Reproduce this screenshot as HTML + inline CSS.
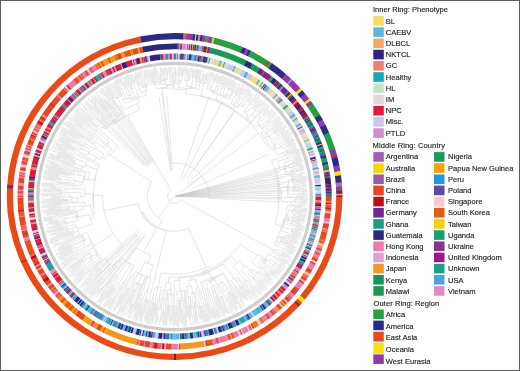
<!DOCTYPE html>
<html><head><meta charset="utf-8"><style>
html,body{margin:0;padding:0;background:#fff;}
#w{position:relative;width:520px;height:371px;overflow:hidden;background:#fff;}
#w svg{filter:blur(0.3px);}
#bd{position:absolute;left:0;top:0;width:518px;height:369px;border:1px solid #5e5e5e;}
.sw{position:absolute;width:10.5px;height:9.6px;}
.lb,.tt{position:absolute;font-family:"Liberation Sans",sans-serif;font-size:7.5px;line-height:9.6px;color:#2b2b2b;white-space:nowrap;}
</style></head><body><div id="w">
<svg width="350" height="371" viewBox="0 0 350 371" style="position:absolute;left:0;top:0">
<g fill="none">
<path d="M150.6 84.5L147.3 68.8M150.3 78.4L148.4 69.0M151.3 78.2L150.1 71.7M151.6 81.9L150.8 78.3M153.0 81.7L150.4 67.8M153.9 81.5L151.8 69.4M152.7 82.5L152.5 81.7M154.4 78.2L152.9 69.7M155.3 78.1L153.6 67.6M155.5 82.0L154.9 78.2M153.8 83.1L153.6 82.4M157.0 82.6L154.6 67.1M154.4 83.9L154.2 83.1M154.0 84.7L153.9 83.9M156.9 74.9L155.7 66.9M157.9 74.8L157.2 70.1M158.7 84.0L157.4 74.9M160.1 83.8L158.9 74.9M156.1 88.6L155.4 84.5M161.1 84.4L159.7 72.5M161.6 80.7L160.2 68.2M162.4 79.0L161.2 67.4M163.0 74.8L162.4 68.5M163.9 73.9L163.4 68.3M164.9 73.8L164.5 67.7M164.5 74.7L164.4 73.9M164.4 78.8L164.0 74.7M166.3 78.7L165.5 66.7M164.4 79.6L164.4 78.8M166.9 73.2L166.6 67.8M168.0 73.2L167.8 69.5M167.8 79.4L167.5 73.2M165.5 80.3L165.4 79.5M165.3 84.0L165.0 80.4M164.9 84.8L164.8 84.0M168.9 70.9L168.7 67.3M169.9 70.9L169.8 66.4M169.7 77.2L169.4 70.9M171.1 77.2L170.9 67.8M170.4 84.5L170.2 77.2M166.3 85.5L166.3 84.7M172.3 85.2L171.9 66.3M166.9 87.4L166.8 85.4M162.0 88.6L162.0 87.8M173.3 87.9L173.1 72.9M170.9 163.1L162.5 88.5M174.2 89.3L174.1 66.4M175.1 73.2L175.1 66.5M176.1 73.2L176.2 69.0M175.5 83.1L175.6 73.2M177.0 81.3L177.2 72.9M178.1 74.7L178.4 66.1M179.2 73.3L179.5 66.2M180.2 73.3L180.5 66.6M179.6 74.8L179.7 73.3M178.9 80.3L179.1 74.8M181.1 76.3L181.5 68.1M182.1 75.5L182.7 66.1M183.1 75.6L183.6 68.1M182.6 76.4L182.6 75.6M181.8 80.4L182.1 76.3M180.3 81.4L180.4 80.3M179.8 83.2L179.8 81.4M178.7 87.7L178.8 83.2M184.5 71.4L184.9 66.3M185.5 71.5L185.9 66.6M184.8 73.9L185.0 71.4M186.3 74.1L186.9 67.4M184.7 80.5L185.3 74.0M187.2 75.5L187.9 68.1M188.2 75.6L189.0 68.5M187.3 78.5L187.7 75.6M188.8 78.6L189.7 71.0M187.7 79.3L187.8 78.5M190.7 71.3L191.3 67.0M191.8 71.4L192.3 67.5M190.2 79.6L191.3 71.4M188.5 80.8L188.7 79.4M186.5 85.9L187.1 80.7M192.0 76.9L193.1 69.2M193.0 77.1L194.1 69.8M194.0 77.2L195.3 69.2M191.6 86.5L193.0 77.1M187.8 86.8L187.9 86.0M195.0 77.5L196.6 67.9M196.0 77.6L197.4 69.7M196.9 77.8L198.5 69.5M195.8 78.4L196.0 77.6M197.8 78.8L199.4 70.3M195.8 81.3L196.3 78.5M198.5 80.3L200.5 70.3M199.4 80.5L201.8 69.3M198.7 81.8L198.9 80.4M195.5 88.0L196.8 81.4M190.4 88.0L190.5 87.2M198.5 89.4L200.8 78.7M190.7 88.8L190.9 88.0M186.6 89.9L186.7 88.3M185.7 93.7L186.1 89.8M200.8 83.2L204.0 69.5M202.4 80.8L203.9 74.3M203.3 81.0L205.2 73.6M204.8 79.2L206.5 72.8M205.8 79.4L208.1 70.6M206.7 79.7L208.4 73.5M205.2 81.5L205.8 79.4M203.8 83.0L204.3 81.2M206.7 83.7L210.4 70.6M204.1 84.0L204.3 83.1M200.6 95.4L203.6 83.9M210.1 75.3L210.8 72.8M211.1 75.6L212.2 71.9M206.7 88.6L210.6 75.4M212.2 75.6L213.3 72.1M213.2 75.9L214.2 72.7M209.3 86.5L212.7 75.7M213.0 79.8L214.3 75.9M214.2 79.4L216.1 73.9M215.2 79.7L217.4 73.2M214.4 80.3L214.7 79.5M213.7 80.9L214.0 80.2M215.6 81.5L218.2 74.1M212.0 87.4L214.2 81.1M210.2 89.7L211.1 87.1M216.4 82.3L219.1 75.0M218.1 80.5L219.6 76.6M219.1 80.9L221.3 75.2M217.8 82.8L218.6 80.7M215.9 86.4L217.4 82.6M217.8 87.0L222.5 74.9M214.6 91.2L216.4 86.5M210.9 90.7L211.1 90.0M220.2 83.6L223.5 75.3M221.1 83.9L224.5 75.7M216.9 92.9L220.7 83.7M211.5 91.8L211.7 91.0M221.2 86.4L225.4 76.4M223.2 84.1L226.0 77.6M224.2 84.5L227.8 76.3M222.5 87.0L223.7 84.3M221.8 87.5L222.1 86.8M223.6 88.3L227.8 78.9M219.5 93.9L222.2 87.7M226.3 84.7L229.4 77.9M227.2 85.1L230.8 77.5M222.7 93.6L226.7 84.9M227.1 87.7L231.4 78.7M229.5 85.0L232.1 79.7M230.4 85.4L233.2 79.8M228.4 88.3L230.0 85.2M229.8 88.9L234.5 79.7M228.1 89.0L228.4 88.3M230.3 90.1L234.8 81.5M231.2 90.5L236.0 81.4M226.4 94.4L229.0 89.4M229.4 95.9L236.4 82.9M226.5 95.3L226.9 94.6M225.3 95.6L225.7 94.9M229.4 97.7L237.1 83.9M225.3 96.6L225.7 95.8M223.3 96.5L223.7 95.8M229.4 99.5L235.3 89.2M215.7 99.4L217.9 94.1M236.2 89.7L239.7 83.6M237.1 90.2L239.8 85.5M235.1 92.6L236.6 89.9M236.4 93.3L239.4 88.2M235.1 93.5L235.5 92.8M236.8 94.5L243.1 84.1M235.1 94.5L235.5 93.8M239.6 91.9L243.8 85.1M240.4 92.4L244.8 85.4M237.6 95.9L240.0 92.1M230.7 103.6L236.0 94.9M233.8 104.5L243.8 89.0M242.0 93.7L246.3 87.0M242.8 94.2L246.8 88.3M239.1 98.9L242.4 94.0M246.2 91.0L247.9 88.5M247.1 91.6L249.1 88.6M240.7 99.9L246.6 91.3M236.9 103.9L239.9 99.4M244.3 97.4L248.9 90.8M245.1 97.9L251.0 89.6M239.2 105.4L244.7 97.7M248.2 95.3L250.7 91.9M249.0 95.9L250.9 93.3M241.8 104.8L248.6 95.6M247.0 100.3L251.4 94.4M248.3 100.2L252.9 94.2M249.1 100.8L252.6 96.3M248.2 101.2L248.7 100.5M243.7 106.2L247.8 100.9M241.8 107.2L243.0 105.6M238.3 107.4L239.6 105.6M237.5 107.8L238.0 107.1M233.7 108.7L235.3 106.3M222.4 103.3L222.8 102.6M248.4 103.3L252.3 98.3M251.0 101.6L257.0 94.1M251.8 102.2L256.1 96.9M250.0 103.5L251.4 101.9M251.2 104.4L258.5 95.6M249.9 104.5L250.4 103.8M244.3 110.5L249.5 104.2M255.0 101.4L259.3 96.3M255.8 102.1L259.8 97.3M254.8 102.4L255.4 101.7M256.0 103.3L258.7 100.2M246.8 112.5L255.2 102.7M244.2 112.8L245.4 111.4M252.9 108.3L261.9 98.2M254.7 107.7L262.4 99.2M257.3 106.4L262.3 100.9M258.0 107.0L264.4 100.1M257.1 107.3L257.7 106.7M258.2 108.3L264.7 101.4M256.2 109.0L257.5 107.6M255.3 109.2L255.8 108.6M262.8 104.9L265.7 101.9M263.5 105.6L266.0 103.1M258.3 110.3L263.2 105.3M259.3 111.3L267.1 103.5M257.8 111.5L258.6 110.6M255.8 110.8L256.4 110.2M251.8 114.3L255.5 110.5M254.8 117.1L267.4 104.6M249.6 117.3L252.2 114.6M246.0 116.7L247.3 115.3M251.4 121.7L269.3 104.3M245.8 117.6L246.3 117.0M264.1 110.8L268.9 106.1M264.8 111.5L270.2 106.3M258.7 116.5L264.4 111.1M263.0 114.5L268.2 109.7M263.7 115.2L268.5 110.8M264.4 115.9L272.7 108.3M260.4 118.2L263.7 115.2M258.9 118.3L259.7 117.5M267.6 114.3L272.9 109.6M268.3 115.0L272.7 111.2M269.0 115.7L274.0 111.5M261.4 121.0L268.3 115.0M256.9 121.9L259.8 119.3M269.2 116.9L275.0 112.0M272.1 115.7L276.1 112.4M272.8 116.5L276.7 113.3M270.2 118.0L272.5 116.1M266.4 120.5L269.8 117.6M267.6 122.0L278.0 113.6M260.5 125.9L266.7 120.9M257.5 123.8L258.2 123.2M261.3 128.1L270.9 120.6M271.2 121.5L278.3 116.1M271.9 122.3L279.9 116.2M262.2 129.1L271.6 121.9M255.6 127.2L258.4 124.8M250.0 122.5L250.6 121.9M231.4 109.1L231.8 108.4M275.3 121.0L280.2 117.3M275.9 121.8L279.8 118.9M272.1 124.0L275.6 121.4M273.0 125.1L281.2 119.1M261.0 132.8L272.4 124.4M274.8 125.0L280.3 121.1M275.4 125.8L282.3 121.0M264.5 132.9L275.1 125.4M266.6 133.1L282.4 122.2M272.3 130.3L283.3 122.8M274.2 130.1L284.3 123.4M276.6 129.7L282.0 126.2M277.2 130.5L286.7 124.4M275.0 131.3L276.9 130.1M275.8 132.5L285.7 126.3M274.3 131.7L275.0 131.3M275.7 133.7L287.4 126.4M280.6 131.8L285.0 129.2M281.1 132.7L284.8 130.5M276.4 134.9L280.8 132.3M274.4 133.4L275.1 132.9M268.9 136.4L274.2 133.0M271.0 139.7L289.5 128.9M267.5 137.2L268.9 136.4M264.8 138.0L267.0 136.5M282.6 134.1L288.0 131.0M283.1 134.9L290.7 130.6M282.1 134.9L282.8 134.5M282.9 136.2L289.8 132.3M271.4 141.6L282.4 135.4M282.6 137.5L291.5 132.6M283.0 138.3L292.2 133.4M273.9 142.7L282.8 137.9M284.0 138.9L290.8 135.4M284.5 139.8L290.2 136.8M285.0 140.7L293.2 136.5M275.0 144.7L284.5 139.8M273.9 144.3L274.6 143.9M279.3 144.6L292.6 138.0M287.4 141.6L293.7 138.6M287.9 142.5L294.0 139.6M286.9 142.4L287.6 142.1M287.6 143.8L295.4 140.1M284.7 144.0L287.1 142.9M285.6 145.8L294.3 141.8M281.0 146.3L284.9 144.5M288.3 145.6L293.8 143.1M288.7 146.5L296.8 142.9M282.3 148.8L288.5 146.0M280.7 147.5L281.5 147.1M276.4 149.0L280.5 147.1M274.6 147.4L275.4 147.0M273.3 146.6L274.0 146.2M288.9 147.5L295.9 144.5M292.2 147.2L296.1 145.5M292.6 148.1L296.8 146.4M289.5 148.9L292.4 147.6M286.5 149.6L289.3 148.4M287.2 151.3L295.8 147.9M285.9 150.3L286.7 150.0M286.8 152.5L297.4 148.4M282.9 152.1L286.1 150.8M284.0 154.6L299.3 148.7M277.3 154.9L283.1 152.5M272.0 150.1L274.5 148.9M267.0 145.5L268.9 144.5M194.0 168.7L234.2 110.9M289.5 153.5L299.6 149.8M289.9 154.4L300.3 150.7M271.7 160.7L289.7 154.0M296.0 153.3L299.2 152.1M296.3 154.3L301.0 152.6M287.4 156.8L296.2 153.8M293.8 156.2L301.1 153.7M297.0 156.2L300.1 155.1M297.4 157.1L301.0 156.0M294.3 157.6L297.2 156.6M288.2 159.1L294.2 157.1M277.7 161.6L287.9 158.2M296.1 158.6L301.5 156.9M296.4 159.5L301.0 158.2M284.3 162.7L296.3 159.1M292.6 161.7L303.2 158.6M292.9 162.6L302.3 159.9M293.2 163.6L303.7 160.6M292.1 162.9L292.9 162.6M294.9 164.1L302.3 162.1M295.2 165.0L302.7 163.1M292.8 165.2L295.1 164.6M288.3 164.9L292.4 163.8M298.5 165.2L302.5 164.2M298.8 166.2L303.1 165.1M289.2 168.0L298.6 165.7M285.5 166.6L288.6 165.8M284.5 166.0L285.2 165.8M299.8 167.0L304.5 165.9M300.1 168.0L303.9 167.1M291.2 169.5L299.9 167.5M292.7 170.6L304.9 167.9M296.5 170.8L304.0 169.2M296.7 171.7L302.9 170.5M293.0 172.0L296.6 171.2M291.8 171.8L292.9 171.5M286.0 172.1L291.5 170.9M284.3 168.3L285.1 168.1M285.8 174.8L296.2 172.8M280.3 169.8L284.4 168.8M276.1 168.7L279.7 167.7M300.6 173.0L304.7 172.2M300.8 174.0L305.4 173.2M291.0 175.3L300.7 173.5M292.1 176.5L302.8 174.7M293.8 177.2L302.2 175.8M300.1 177.1L306.2 176.2M300.3 178.1L307.5 177.1M295.7 178.3L300.2 177.6M295.9 179.7L307.3 178.2M295.0 178.9L295.8 178.8M295.2 180.8L307.3 179.2M294.2 179.5L295.0 179.4M293.3 179.1L294.1 179.0M293.7 181.9L306.5 180.4M292.6 179.7L293.4 179.6M299.8 182.2L305.4 181.6M299.9 183.2L306.7 182.5M293.1 183.4L299.8 182.7M291.8 180.3L292.7 180.2M288.1 179.9L291.7 179.4M293.5 184.8L305.2 183.6M303.4 184.8L306.2 184.6M303.5 185.9L306.9 185.6M294.5 186.1L303.5 185.4M295.4 187.5L306.6 186.6M298.2 188.2L303.4 187.9M302.3 189.0L306.6 188.7M302.4 190.0L307.5 189.7M298.2 189.7L302.4 189.5M295.6 189.4L298.2 189.2M294.7 189.0L295.5 188.9M293.8 188.1L294.7 188.0M293.0 187.7L293.8 187.6M302.2 191.0L306.6 190.8M302.3 192.0L307.1 191.8M293.2 191.8L302.2 191.5M289.1 188.9L293.0 188.6M287.8 184.0L288.6 183.9M302.2 193.0L307.3 192.9M302.3 194.0L306.0 193.9M298.8 193.6L302.2 193.5M298.9 195.0L308.2 194.9M288.5 194.3L298.8 194.1M287.1 185.4L287.9 185.4M296.6 196.0L308.4 196.0M300.7 197.0L306.1 197.0M300.7 198.0L307.6 198.1M296.6 197.5L300.7 197.5M287.7 196.9L296.6 197.0M280.8 187.3L287.2 186.8M301.9 199.0L309.0 199.1M301.8 200.0L307.7 200.2M294.5 199.3L301.9 199.5M295.3 200.8L306.9 201.2M302.4 202.0L307.2 202.2M302.3 203.0L306.0 203.2M300.5 202.4L302.3 202.5M300.4 203.9L307.8 204.3M295.2 202.7L300.5 202.9M294.4 202.1L295.2 202.2M291.8 201.1L294.4 201.2M298.6 204.8L303.3 205.1M298.6 205.8L306.4 206.3M291.6 204.8L298.6 205.3M281.1 201.5L291.7 202.0M279.9 190.7L281.1 190.6M278.3 182.6L279.1 182.5M287.2 205.8L301.2 206.9M294.6 207.4L307.8 208.5M301.5 209.0L307.4 209.6M301.4 210.0L307.8 210.7M295.3 208.9L301.4 209.5M297.7 210.6L306.4 211.6M297.6 211.5L307.1 212.7M295.1 210.7L297.6 211.0M294.9 212.2L302.2 213.1M294.3 210.2L295.1 210.3M293.5 209.6L294.4 209.7M293.1 212.9L306.5 214.7M292.7 210.0L293.5 210.1M300.4 214.9L305.5 215.6M300.3 215.9L305.2 216.6M292.1 214.1L300.4 215.4M288.3 210.4L292.6 210.9M293.0 215.7L307.1 218.0M297.9 217.5L304.7 218.7M297.7 218.5L305.2 219.8M295.2 217.5L297.8 218.0M294.9 218.9L304.4 220.7M292.7 217.6L295.1 218.0M292.3 219.4L306.0 222.1M289.0 216.9L292.7 217.6M288.4 219.6L299.8 221.9M288.2 220.5L303.4 223.7M288.0 217.7L288.8 217.8M292.3 222.3L302.1 224.5M297.3 224.4L303.7 225.9M297.8 225.6L304.6 227.2M297.6 226.5L304.5 228.2M296.9 225.9L297.7 226.0M291.9 224.2L297.0 225.4M286.9 222.5L292.0 223.7M286.8 219.3L287.6 219.4M286.8 215.2L287.6 215.3M284.8 224.3L304.2 229.2M285.9 215.5L286.7 215.6M296.0 228.2L302.7 229.9M295.7 229.1L303.8 231.3M295.4 230.1L299.7 231.2M292.7 228.3L295.7 229.1M292.2 230.2L302.0 233.0M291.8 228.6L292.6 228.8M291.9 231.1L301.9 234.0M291.6 232.0L301.2 234.9M291.0 231.3L291.7 231.5M283.1 227.1L291.5 229.5M284.7 217.5L285.5 217.6M292.8 233.4L301.9 236.2M292.5 234.3L300.6 236.9M292.2 235.2L298.1 237.2M281.1 230.7L292.5 234.3M283.6 218.6L284.4 218.8M289.0 235.2L301.5 239.4M288.7 236.1L298.1 239.4M288.4 237.0L296.9 240.0M286.6 235.4L288.7 236.1M289.3 238.3L299.4 242.0M290.9 240.0L297.0 242.2M290.6 240.9L298.6 244.0M288.7 239.7L290.8 240.4M285.6 238.0L288.9 239.2M285.4 236.4L286.1 236.7M286.0 240.1L295.7 244.0M285.6 241.0L292.5 243.8M284.0 239.9L285.8 240.6M284.3 237.0L285.0 237.3M282.7 240.8L294.5 245.7M282.8 236.9L284.1 237.4M281.0 241.1L296.6 247.7M281.9 237.1L282.6 237.4M279.9 241.7L296.3 248.7M279.0 236.5L281.7 237.5M288.5 246.4L294.0 248.8M288.1 247.3L296.2 250.9M285.9 245.8L288.3 246.9M285.2 247.1L295.2 251.6M276.5 242.1L285.6 246.2M277.7 237.4L278.5 237.7M287.2 249.1L293.9 252.2M286.8 250.0L293.9 253.4M282.9 247.6L287.0 249.5M289.5 252.4L293.6 254.4M289.1 253.3L292.7 255.1M282.1 249.3L289.3 252.8M274.4 244.5L282.5 248.5M275.2 224.5L281.7 226.2M278.2 202.6L279.1 202.7M209.1 198.3L278.3 201.8M174.6 196.5L202.0 176.1M283.8 251.8L290.5 255.2M283.4 252.6L288.5 255.3M278.4 249.5L283.6 252.2M282.1 253.0L292.8 258.7M281.6 253.9L287.5 257.0M281.1 254.7L291.9 260.6M277.3 251.6L281.6 253.9M275.6 249.7L277.7 250.7M274.3 252.0L284.2 257.6M273.9 249.2L275.4 250.1M284.6 258.9L290.3 262.1M284.1 259.8L288.9 262.6M272.1 252.3L284.4 259.4M180.8 199.9L273.4 250.0M279.1 258.0L288.5 263.5M278.6 258.8L289.0 265.1M275.2 256.3L278.9 258.4M276.8 258.9L285.3 264.0M281.1 262.7L284.5 264.8M280.6 263.5L285.8 266.8M276.0 260.1L280.9 263.1M274.0 258.2L276.3 259.7M268.3 253.7L274.5 257.4M280.0 264.3L286.3 268.4M279.4 265.2L282.7 267.3M275.6 262.0L279.7 264.7M274.7 263.2L285.2 270.2M270.7 259.5L275.3 262.4M278.4 266.9L284.0 270.7M277.8 267.7L281.0 269.9M273.0 263.8L278.1 267.3M277.7 268.8L282.2 272.0M277.1 269.7L280.8 272.3M271.9 265.3L277.4 269.2M268.9 262.1L272.5 264.6M267.4 259.4L269.7 261.0M275.1 269.4L280.0 272.9M274.5 270.2L280.4 274.6M265.0 262.6L274.8 269.8M266.2 259.7L266.9 260.1M263.5 263.2L278.6 274.5M265.3 259.6L265.9 260.0M272.1 270.9L276.7 274.4M271.5 271.7L278.7 277.3M271.2 270.8L271.8 271.3M270.9 272.4L274.7 275.4M270.3 273.2L277.4 278.9M270.0 272.3L270.6 272.8M261.5 264.4L270.6 271.6M263.5 260.5L264.2 261.0M263.4 257.8L264.9 258.7M258.1 264.5L271.8 275.7M257.8 254.3L263.2 258.1M259.7 267.0L271.0 276.4M265.7 273.2L272.8 279.2M265.7 274.4L272.8 280.5M265.0 275.1L270.8 280.1M264.7 274.3L265.4 274.8M258.5 268.3L265.1 273.9M251.6 261.9L258.8 268.0M240.7 244.1L256.8 255.6M258.8 270.9L272.7 283.2M258.8 272.1L269.7 281.9M264.3 278.4L272.6 286.0M263.7 279.1L269.0 284.1M263.0 279.8L270.4 286.8M257.5 273.4L263.7 279.1M257.2 272.6L257.8 273.1M257.0 271.7L257.6 272.2M255.1 273.6L264.6 282.8M254.0 269.5L256.6 272.0M260.7 280.3L267.4 286.8M260.0 281.0L267.1 288.0M259.8 280.1L260.3 280.7M258.7 281.1L267.0 289.4M251.2 272.3L259.4 280.4M251.8 269.2L253.1 270.5M253.6 277.2L266.6 290.5M252.9 277.8L265.7 291.1M259.4 286.1L264.2 291.1M258.7 286.7L261.9 290.2M251.9 278.7L259.1 286.4M247.7 273.1L252.6 278.1M245.8 265.9L250.5 270.4M256.3 285.5L261.8 291.5M255.5 286.2L262.6 294.0M254.8 286.8L261.5 294.3M241.1 270.2L255.5 286.2M239.5 261.3L245.0 266.7M247.7 280.2L261.0 295.4M252.2 286.7L259.7 295.5M251.4 287.3L255.6 292.4M246.6 281.0L251.8 287.0M246.5 280.1L247.0 280.7M252.0 289.6L258.1 296.9M251.2 290.2L257.2 297.5M244.7 281.5L251.6 289.9M245.3 280.1L245.8 280.7M243.2 281.7L256.8 298.7M233.4 266.6L244.9 280.3M231.7 256.3L237.9 262.8M248.1 289.3L253.6 296.3M247.3 289.9L254.9 299.7M237.8 277.0L247.7 289.6M238.4 279.9L249.5 294.4M241.2 285.1L252.7 300.3M241.2 286.5L251.3 300.1M240.9 287.7L247.2 296.3M243.0 292.2L247.8 298.9M242.2 292.7L248.4 301.5M239.8 288.5L242.6 292.4M239.7 287.6L240.2 288.2M239.4 286.3L240.1 287.3M236.3 281.4L239.8 286.1M235.1 278.9L236.7 281.1M235.3 277.8L235.7 278.4M236.7 286.4L245.7 299.4M238.1 290.1L245.0 300.2M237.3 290.6L242.2 297.9M236.0 287.8L237.7 290.3M234.9 288.5L242.3 299.8M235.2 287.3L235.6 288.0M231.2 280.6L235.6 287.1M223.3 264.0L233.9 278.7M240.8 299.4L243.6 303.6M240.0 299.9L245.0 307.9M223.1 272.6L240.4 299.7M222.6 273.8L237.8 298.4M233.6 293.3L243.0 308.7M232.8 293.7L241.3 308.0M231.3 290.3L233.2 293.5M230.1 291.0L240.6 308.8M229.1 287.6L230.9 290.6M229.8 292.2L236.9 304.5M229.0 292.6L238.1 308.8M229.6 295.7L238.0 310.7M228.8 296.1L236.8 310.7M227.8 293.2L229.2 295.9M226.4 289.0L228.6 292.8M225.3 284.5L227.6 288.4M231.1 302.4L236.1 311.8M230.3 302.9L233.1 308.3M222.0 286.2L230.7 302.7M222.9 281.9L224.6 284.9M226.6 297.9L234.7 313.6M230.2 307.2L231.9 310.4M229.3 307.6L232.7 314.4M225.3 298.5L229.8 307.4M218.6 284.0L225.8 298.3M218.8 276.9L221.8 282.4M214.7 279.7L223.2 297.4M222.1 297.0L230.2 314.2M221.2 297.4L228.9 314.0M221.3 296.5L221.7 297.2M224.3 306.3L227.3 313.0M223.4 306.7L226.1 312.9M219.7 297.2L223.8 306.5M215.0 284.9L220.5 296.8M213.9 287.4L225.0 312.9M214.7 291.3L225.6 317.0M216.2 297.0L224.0 316.0M217.6 302.9L223.1 316.6M216.7 303.2L219.6 310.6M215.6 299.2L217.1 303.0M214.3 299.6L221.0 317.2M214.5 297.7L215.1 299.3M212.7 292.1L214.9 297.5M211.7 288.3L213.1 291.9M211.3 286.4L212.0 288.2M211.2 282.1L212.8 285.8M217.4 310.5L220.0 317.4M216.5 310.8L219.3 318.6M208.6 288.3L216.9 310.7M213.5 305.6L218.6 319.7M213.8 309.3L216.3 316.6M212.9 309.6L216.4 319.9M212.2 306.0L213.3 309.4M206.7 288.9L212.6 305.9M205.9 284.1L207.5 288.6M209.1 282.1L209.5 282.8M209.2 281.2L209.5 281.9M213.0 278.7L213.4 279.5M211.4 308.3L214.9 319.0M210.5 308.6L213.9 319.3M202.6 282.6L210.9 308.5M212.3 278.2L212.7 278.9M212.7 277.1L213.0 277.9M208.0 303.8L212.4 318.2M207.1 304.1L210.8 316.5M205.7 297.8L207.5 303.9M204.4 298.2L211.1 321.2M200.3 281.6L205.2 297.9M209.4 272.6L211.7 277.6M208.1 314.4L209.4 319.0M207.1 314.7L209.2 322.1M204.8 304.5L207.6 314.6M203.5 304.9L208.2 322.5M200.6 291.1L204.4 304.7M204.0 310.7L206.8 321.4M203.1 310.9L206.0 322.7M198.7 291.6L203.5 310.8M198.9 287.8L199.9 291.3M200.9 306.0L204.8 322.5M200.0 306.2L203.3 320.7M199.1 306.4L202.9 323.4M195.9 288.5L200.0 306.2M195.5 279.2L197.8 288.1M199.8 314.1L201.0 319.8M198.8 314.3L199.8 319.1M194.6 292.0L199.3 314.2M193.6 293.0L196.6 308.1M194.5 302.3L198.7 324.7M194.2 305.5L197.2 322.5M194.7 314.1L196.3 323.5M193.7 314.2L195.4 324.2M192.8 305.7L194.2 314.1M192.8 302.6L193.3 305.7M191.6 293.4L193.2 302.5M191.9 292.5L192.0 293.3M191.4 285.6L192.6 292.4M190.0 296.3L192.1 309.8M190.4 305.0L193.4 325.4M189.5 305.1L191.1 316.3M188.7 306.2L191.3 325.8M187.8 306.4L189.5 319.9M188.2 305.2L188.3 306.3M187.9 296.6L189.1 305.1M187.6 290.9L188.3 296.5M185.2 291.2L188.1 317.2M186.6 286.4L187.2 291.0M188.3 280.7L189.2 286.0M190.7 278.3L191.1 280.2M202.4 274.4L202.7 275.2M205.9 272.3L206.2 273.0M184.4 290.6L187.3 318.5M184.2 297.1L186.9 325.6M184.9 315.1L185.9 326.8M183.9 315.2L184.8 326.5M183.1 299.3L184.4 315.2M182.6 310.6L183.8 326.6M181.7 310.7L182.5 323.3M181.5 300.2L182.2 310.6M180.2 300.3L181.5 325.4M181.0 299.4L181.0 300.2M181.7 297.3L181.8 299.4M179.2 297.4L180.3 322.3M181.2 290.9L181.7 297.3M178.5 300.6L179.3 323.5M177.8 306.4L178.4 327.3M177.0 313.0L177.3 327.0M176.0 313.0L176.2 324.9M176.4 306.4L176.5 313.0M176.8 300.7L176.9 306.4M176.9 291.1L177.2 300.7M179.5 280.3L180.1 291.0M175.1 305.5L175.1 325.1M174.1 305.5L174.1 325.5M174.6 280.4L174.6 305.5M178.7 278.1L178.8 280.3M208.1 270.5L208.4 271.2M173.4 294.0L173.0 326.8M172.3 306.3L172.0 321.1M171.1 316.6L170.9 322.7M170.1 316.6L169.8 325.4M171.0 306.3L170.6 316.6M171.4 305.5L171.4 306.3M169.6 305.4L168.9 321.6M171.4 293.9L171.0 305.5M168.8 304.7L168.2 316.2M167.9 304.7L166.6 325.4M169.0 293.8L168.3 304.7M171.1 289.8L171.0 293.9M168.0 289.6L165.5 325.2M171.0 283.0L170.7 289.8M165.5 312.2L164.4 325.6M164.5 312.2L163.3 325.9M166.8 290.6L165.0 312.2M163.7 311.1L162.5 323.1M162.7 311.0L161.7 320.8M164.4 298.4L163.2 311.1M160.8 319.2L160.5 322.6M159.8 319.1L159.0 325.8M162.8 298.3L160.3 319.1M164.5 290.4L163.6 298.4M162.5 290.2L159.9 310.3M165.7 282.7L164.9 290.4M168.9 277.2L168.5 282.9M203.1 271.6L203.4 272.3M209.4 266.4L210.5 268.6M158.2 315.9L157.3 322.7M157.2 315.7L155.8 325.6M158.8 308.0L157.7 315.8M157.4 307.8L155.0 323.9M159.8 298.3L158.4 307.9M158.1 298.0L155.1 316.1M161.0 287.4L159.3 298.2M156.2 304.3L152.9 323.4M155.3 304.1L151.5 325.3M154.4 304.0L151.2 320.8M155.4 303.3L155.3 304.1M153.6 303.0L149.5 324.3M157.7 288.2L155.0 303.3M153.8 298.0L148.3 324.5M150.8 307.5L147.6 322.5M149.9 307.3L146.4 323.3M152.5 297.7L150.4 307.4M155.1 287.7L152.9 297.8M156.8 286.8L156.6 288.0M160.9 273.0L158.3 287.0M188.7 228.4L206.2 267.8M150.4 301.3L145.4 322.7M146.6 313.3L144.8 320.8M145.6 313.1L144.2 318.9M149.1 301.0L146.1 313.2M147.8 300.7L144.7 312.5M166.1 231.1L149.1 301.0M147.0 300.3L140.9 322.9M146.1 300.1L140.1 322.0M146.7 299.4L146.5 300.2M142.8 308.6L139.4 320.5M141.8 308.3L139.4 316.6M145.0 298.9L142.3 308.4M148.0 291.6L145.9 299.2M141.8 305.2L136.8 321.8M140.9 304.9L135.9 320.9M145.6 291.0L141.3 305.0M151.2 277.7L147.2 291.4M141.9 298.5L134.8 320.9M139.1 304.5L134.6 318.2M138.2 304.2L132.6 320.6M140.7 298.1L138.6 304.3M142.2 295.1L141.1 298.3M140.5 294.6L134.8 311.1M147.8 276.8L141.7 295.0M146.2 276.2L131.0 318.8M153.2 265.2L149.5 277.3M145.5 275.9L134.0 307.3M141.6 284.5L128.9 318.3M133.0 304.6L127.8 318.1M131.8 305.0L128.7 312.9M130.9 304.7L126.0 316.9M131.7 304.1L131.4 304.9M139.8 284.7L132.1 304.3M138.1 284.9L129.8 304.9M135.1 289.8L124.1 315.8M134.4 289.5L128.6 302.8M129.4 298.8L121.7 316.1M128.5 298.4L122.4 312.0M133.2 289.0L128.9 298.6M136.2 284.2L134.0 289.4M136.9 283.6L136.6 284.3M138.3 283.3L138.0 284.0M135.1 281.9L120.1 314.4M141.6 275.4L138.3 283.3M122.6 306.5L118.7 314.8M121.7 306.1L118.2 313.4M137.8 273.7L122.2 306.3M141.3 274.4L141.0 275.1M129.3 288.5L116.9 313.7M128.5 288.2L120.5 304.2M127.8 287.8L117.4 308.0M134.7 275.9L128.5 288.2M123.3 294.6L114.5 311.4M122.1 294.9L113.1 311.8M121.3 294.5L112.7 310.2M122.1 294.0L121.7 294.7M132.7 274.9L122.5 294.2M131.4 274.3L118.2 298.2M135.3 271.6L133.4 275.3M144.6 262.1L139.4 273.5M150.8 255.4L147.6 263.4M115.1 301.7L111.8 307.6M114.2 301.2L109.2 309.9M124.7 283.8L114.7 301.4M121.7 286.6L108.4 309.1M113.9 298.0L107.4 308.7M113.0 297.5L108.6 304.8M120.6 286.0L113.4 297.8M122.9 282.8L120.9 286.2M133.9 265.8L123.7 283.2M111.4 298.3L105.7 307.5M110.6 297.8L104.1 308.1M119.7 284.1L111.0 298.0M115.1 289.0L104.7 305.1M114.3 288.5L102.6 306.4M113.6 288.0L106.7 298.3M117.9 283.0L114.3 288.5M130.6 264.8L118.6 283.4M114.1 285.7L104.1 300.4M113.3 285.2L99.6 305.1M119.0 277.7L113.7 285.5M112.0 285.6L100.0 302.7M111.2 285.1L98.7 302.7M117.6 276.9L111.6 285.4M105.4 291.7L97.3 302.7M104.6 291.1L97.3 301.0M111.5 282.5L105.0 291.4M110.4 281.8L99.8 295.8M116.0 275.7L111.2 282.3M117.8 276.0L117.3 276.6M115.2 274.2L103.3 289.7M127.0 262.5L117.4 275.8M102.5 289.1L96.1 297.3M101.7 288.6L97.2 294.3M101.0 288.0L92.6 298.4M121.7 263.3L101.7 288.6M99.1 288.8L93.3 295.8M98.3 288.2L90.1 298.1M116.8 266.5L98.7 288.5M104.5 279.4L90.1 296.4M101.2 281.9L89.8 295.2M100.5 281.3L88.6 295.0M103.5 278.6L100.9 281.6M113.5 267.6L103.8 278.8M102.6 277.6L87.6 294.5M101.4 277.6L85.9 294.8M97.6 280.4L85.4 293.8M96.9 279.8L85.1 292.5M100.4 276.8L97.3 280.1M101.3 276.5L100.7 277.1M111.5 265.9L101.6 276.7M113.7 265.1L112.3 266.6M111.5 263.1L83.9 292.2M114.0 264.2L113.4 264.8M118.2 260.5L114.5 264.7M121.5 258.3L119.0 261.2M125.4 260.3L124.9 260.9M136.6 247.9L126.7 261.3M156.7 228.4L143.5 252.1M109.3 264.3L83.5 291.2M101.4 271.3L81.9 291.2M92.0 279.6L86.3 285.3M90.8 279.5L83.9 286.3M90.1 278.8L80.5 288.2M91.0 278.6L90.4 279.1M100.2 270.1L91.3 278.9M101.1 269.9L100.5 270.4M98.4 269.5L79.3 287.8M92.5 273.9L81.6 284.2M91.8 273.3L83.7 280.8M97.5 268.6L92.1 273.6M99.0 267.8L97.8 268.9M103.6 265.6L100.1 269.0M101.3 263.4L88.6 275.0M106.8 262.0L103.3 265.4M107.7 261.7L107.1 262.2M82.6 279.1L76.1 285.0M82.0 278.4L76.2 283.5M104.8 258.7L82.3 278.7M123.2 245.8L107.1 261.1M102.5 259.2L74.6 283.5M100.7 259.7L74.3 282.3M83.8 272.9L73.0 282.0M83.2 272.2L73.1 280.5M84.1 272.1L83.5 272.6M83.2 271.0L76.6 276.3M99.1 259.1L83.8 271.7M93.8 261.3L72.5 278.4M80.8 270.5L73.5 276.2M80.2 269.7L70.7 277.1M85.1 266.5L80.5 270.1M75.5 272.1L69.7 276.6M74.9 271.3L68.1 276.4M83.9 265.1L75.2 271.7M91.5 260.5L84.5 265.8M81.4 265.3L71.2 272.8M80.8 264.5L71.3 271.4M85.0 262.0L81.1 264.9M83.5 261.5L67.0 273.3M83.0 260.7L70.9 269.2M82.5 260.0L66.7 270.9M83.7 260.3L83.0 260.7M86.2 259.6L84.2 261.0M84.6 257.5L64.9 270.8M88.9 257.1L85.9 259.2M90.9 257.7L89.9 258.5M91.8 257.6L91.2 258.1M88.9 253.6L68.6 267.1M92.2 256.8L91.6 257.3M89.1 252.5L76.4 260.8M95.1 254.2L92.0 256.5M96.5 254.6L95.8 255.1M97.4 254.4L96.7 254.9M68.7 264.7L63.0 268.3M68.1 263.8L62.6 267.3M76.8 258.9L68.4 264.2M76.0 257.8L63.4 265.6M84.5 253.5L76.5 258.5M83.6 252.0L63.1 264.6M92.6 247.9L84.3 253.1M72.2 257.9L60.9 264.6M71.7 257.0L61.1 263.3M76.7 254.7L72.0 257.4M76.0 253.5L64.0 260.4M91.2 245.6L76.5 254.3M96.4 251.8L95.7 252.3M97.3 251.7L96.6 252.1M64.4 259.0L61.5 260.7M63.9 258.2L59.2 260.8M91.6 243.2L64.1 258.6M72.9 252.1L60.5 258.9M72.5 251.3L58.0 259.1M77.4 249.1L72.7 251.7M71.7 250.6L58.1 257.8M71.3 249.8L57.7 256.8M73.2 249.3L71.5 250.2M72.6 248.1L59.8 254.6M76.3 247.2L73.0 248.9M85.2 243.6L76.7 248.0M72.5 247.1L55.8 255.4M72.1 246.3L55.8 254.3M83.8 241.1L72.3 246.7M70.3 246.2L57.4 252.3M69.9 245.4L59.5 250.2M83.1 239.7L70.1 245.8M85.1 241.8L84.4 242.2M70.4 244.2L54.6 251.4M64.1 246.0L58.1 248.7M63.7 245.1L58.3 247.4M69.8 242.9L63.9 245.5M83.0 237.5L70.0 243.3M82.3 236.1L61.2 245.1M85.1 240.0L84.4 240.4M82.7 235.0L51.7 248.1M88.7 237.9L84.9 239.7M94.5 246.3L93.8 246.7M59.8 243.6L54.3 245.9M59.4 242.7L53.3 245.1M86.9 232.1L59.6 243.1M113.5 233.8L94.1 245.6M79.6 233.7L63.9 239.9M58.0 241.1L50.8 243.9M57.7 240.2L49.4 243.3M73.0 234.9L57.8 240.7M72.5 233.7L49.5 242.1M72.2 232.9L48.5 241.4M74.3 233.5L72.7 234.1M73.6 231.6L50.2 239.7M73.3 230.8L48.4 239.2M78.6 231.1L74.0 232.7M68.9 231.3L55.9 235.6M67.0 231.0L53.7 235.3M54.4 234.0L50.3 235.3M54.1 233.1L48.3 234.8M65.8 230.0L54.2 233.5M65.4 228.7L53.0 232.3M66.5 229.3L65.7 229.5M67.4 229.5L66.6 229.7M66.7 227.4L46.9 233.1M68.0 228.8L67.3 229.1M75.8 226.9L68.2 229.3M75.0 224.2L46.1 232.2M76.9 226.1L75.7 226.5M92.0 224.1L77.8 228.8M61.1 227.1L45.9 231.2M60.8 226.2L51.2 228.7M67.5 224.9L61.0 226.6M59.7 225.5L45.3 229.2M59.5 224.6L48.0 227.4M66.2 223.4L59.6 225.1M65.9 222.1L54.9 224.7M65.7 221.3L50.3 224.8M66.8 222.4L66.0 222.6M77.6 220.6L67.0 223.2M57.5 222.2L45.9 224.7M56.5 221.4L48.3 223.2M56.3 220.5L49.5 221.9M57.2 220.8L56.4 221.0M65.2 219.6L57.3 221.3M52.1 220.4L44.6 221.8M51.9 219.4L43.7 220.9M64.8 217.4L52.0 219.9M75.8 216.5L65.0 218.7M52.7 218.3L44.3 219.7M52.5 217.3L43.3 218.9M75.3 213.8L52.6 217.8M76.5 215.6L75.7 215.8M77.8 217.7L77.0 217.9M76.7 212.4L43.1 217.8M78.5 217.2L77.7 217.4M77.4 211.5L55.5 214.9M89.3 214.5L78.4 216.8M93.1 218.4L90.5 219.2M56.9 213.7L45.6 215.4M56.7 212.8L46.6 214.2M83.1 209.5L56.8 213.3M74.3 209.6L43.8 213.5M69.4 209.4L43.6 212.5M68.5 208.6L42.7 211.6M60.7 208.6L41.0 210.7M55.4 208.2L48.6 208.9M55.4 207.3L46.0 208.1M60.5 207.3L55.4 207.8M68.3 207.0L60.6 207.7M59.9 206.0L40.8 207.5M59.9 205.1L42.5 206.4M68.1 204.9L59.9 205.5M69.1 206.5L68.2 206.5M73.9 206.4L69.1 206.9M82.6 205.9L73.9 206.8M85.3 206.3L82.7 206.6M60.3 204.1L42.5 205.3M60.2 203.2L48.7 203.9M84.9 202.1L60.3 203.7M90.5 205.1L85.2 205.6M94.6 214.0L92.2 214.6M77.5 201.5L41.3 203.3M67.4 201.1L41.5 202.2M67.4 200.3L41.3 201.2M67.4 199.4L45.9 200.0M71.9 200.1L67.4 200.3M63.9 198.7L41.1 199.1M59.2 197.9L50.3 198.0M59.2 197.0L50.3 197.0M60.0 197.4L59.2 197.4M55.0 196.0L41.1 196.0M55.0 195.1L42.7 194.9M60.0 195.6L55.0 195.6M63.9 196.5L60.0 196.5M69.8 196.9L63.9 196.9M69.8 194.4L40.2 193.9M71.8 196.5L69.8 196.5M77.3 197.6L71.8 197.7M81.0 198.0L77.4 198.0M60.9 193.4L49.5 193.1M50.2 192.1L43.7 191.9M50.2 191.1L40.6 190.7M61.0 192.0L50.2 191.6M61.8 192.5L61.0 192.5M61.9 190.7L42.6 189.8M81.1 192.8L61.8 192.1M84.7 196.5L81.0 196.5M67.1 190.2L42.4 188.7M59.3 188.8L50.4 188.2M55.0 187.6L41.7 186.6M54.2 186.6L41.6 185.5M54.3 185.6L40.9 184.4M55.1 186.2L54.3 186.1M59.4 187.0L55.1 186.6M67.2 188.1L59.4 187.4M74.2 189.0L67.2 188.5M52.1 184.4L40.9 183.3M52.2 183.5L42.6 182.5M74.5 186.3L52.2 184.0M85.1 189.1L74.3 188.2M92.6 194.2L84.8 194.0M94.2 207.3L93.3 207.4M81.4 185.9L51.5 182.4M68.7 183.6L56.2 182.0M54.2 180.8L43.4 179.4M54.3 179.9L42.8 178.3M68.9 182.3L54.3 180.4M74.6 183.5L68.9 182.7M60.3 179.8L43.1 177.3M60.5 178.9L42.4 176.1M60.6 178.0L45.2 175.5M74.1 181.0L60.5 178.9M57.8 176.6L43.0 174.1M57.2 175.5L43.6 173.1M57.4 174.6L44.8 172.3M58.1 175.2L57.3 175.1M74.5 178.6L58.0 175.7M75.1 180.0L74.3 179.8M81.9 182.2L74.9 181.1M82.8 182.7L81.9 182.6M67.5 175.7L44.4 171.2M67.7 174.8L43.2 169.8M67.9 174.0L47.4 169.7M70.1 175.3L67.7 174.8M70.4 173.7L45.9 168.3M71.0 175.1L70.2 174.9M71.4 173.0L45.1 167.0M73.1 175.1L71.1 174.6M62.4 170.0L45.5 166.1M62.7 169.2L45.0 164.9M73.8 172.3L62.6 169.6M78.2 175.4L73.3 174.3M78.9 172.3L51.1 165.3M84.1 176.3L78.3 175.0M84.1 180.0L83.3 179.8M57.7 166.0L46.8 163.2M57.9 165.1L50.4 163.0M85.8 173.0L57.8 165.5M87.9 180.0L84.3 179.3M54.4 163.1L46.8 161.0M54.7 162.2L45.8 159.6M89.8 172.6L54.6 162.6M94.2 180.5L88.1 179.3M81.7 169.1L62.4 163.4M69.7 164.7L46.8 157.7M69.9 163.8L47.7 156.9M74.3 165.6L69.8 164.2M74.0 164.2L50.3 156.6M59.8 158.7L49.3 155.2M60.2 157.8L48.4 153.8M73.6 162.8L60.0 158.2M74.0 161.6L49.6 153.1M74.3 160.8L57.4 154.8M74.6 162.3L73.9 162.0M75.3 162.9L74.5 162.6M82.7 166.2L75.0 163.7M84.9 167.3L82.5 166.6M75.8 160.5L57.3 153.7M73.0 158.5L50.5 150.1M69.7 156.3L49.6 148.6M70.0 155.5L59.9 151.6M73.5 157.4L69.8 155.9M74.0 156.2L50.8 146.8M76.6 158.5L73.5 157.4M86.6 162.8L76.4 158.9M97.3 169.7L85.5 165.6M65.8 151.9L52.3 146.3M64.7 150.4L57.4 147.3M65.1 149.5L52.9 144.3M66.4 150.6L64.9 150.0M99.3 164.9L66.2 151.0M96.3 175.7L95.5 175.5M102.4 195.4L93.4 195.2M138.0 203.8L103.9 210.6M141.7 212.0L141.0 212.4M142.7 212.2L142.0 212.5M162.1 220.0L158.1 227.4M66.8 149.3L55.7 144.4M67.2 148.4L53.6 142.3M94.4 161.0L67.0 148.8M72.6 149.9L53.3 141.0M73.0 149.1L61.2 143.5M73.6 149.8L72.8 149.5M74.1 148.6L54.1 139.1M86.8 155.5L73.7 149.4M80.0 150.5L58.6 140.1M69.9 144.6L56.7 138.0M69.6 143.4L59.5 138.3M70.1 142.6L56.2 135.4M70.6 143.3L69.9 143.0M80.8 149.0L70.4 143.8M73.4 143.2L61.6 137.1M73.8 142.5L57.5 133.7M81.8 147.2L73.6 142.9M83.3 149.8L81.0 148.7M84.7 147.3L61.6 134.7M88.6 152.1L83.5 149.5M88.8 153.5L88.1 153.1M90.8 149.8L58.5 131.8M96.4 156.9L89.0 153.2M100.3 159.6L96.1 157.5M65.8 134.8L60.7 131.9M66.3 133.9L60.7 130.6M84.9 145.1L66.1 134.3M75.3 138.0L61.3 129.8M75.8 137.3L60.2 128.0M78.1 139.2L75.5 137.7M78.8 138.1L60.9 127.1M79.3 137.3L63.5 127.5M86.2 143.0L78.6 138.4M94.9 149.2L85.7 143.7M82.4 138.2L69.8 130.2M82.9 137.5L66.6 127.0M96.5 146.7L82.7 137.9M103.8 153.7L95.3 148.6M105.0 159.1L101.6 157.3M94.2 143.8L63.2 123.5M89.5 139.8L64.4 123.1M74.7 128.8L64.8 122.1M75.3 128.0L66.1 121.7M90.2 138.8L75.0 128.4M75.7 127.2L68.1 121.8M76.3 126.4L68.7 121.0M91.1 137.5L76.0 126.8M92.3 139.8L90.4 138.4M93.8 137.9L74.2 123.6M95.7 141.7L92.6 139.5M104.7 148.3L95.5 142.0M81.4 127.8L67.5 117.5M82.0 127.0L69.8 117.9M106.5 145.8L81.7 127.4M94.0 135.0L70.5 117.1M82.4 125.0L74.7 119.0M82.3 123.7L71.0 114.8M82.9 123.0L73.9 115.8M83.2 123.9L82.6 123.4M95.0 133.7L82.9 124.2M107.2 143.8L94.7 134.0M95.5 132.0L73.7 114.3M91.0 127.3L72.9 112.2M91.6 126.6L74.9 112.5M95.7 130.6L91.3 126.9M86.8 121.4L74.8 111.1M87.4 120.7L75.4 110.2M96.8 129.4L87.1 121.0M96.8 130.5L96.2 130.0M109.2 141.4L96.6 130.8M108.9 143.0L108.3 142.4M111.8 149.0L106.9 145.3M110.3 155.8L107.9 154.3M95.7 126.8L76.8 110.1M96.3 126.1L76.3 108.2M118.0 146.1L96.0 126.4M151.9 181.9L110.6 155.3M170.3 202.0L158.3 217.7M97.9 126.5L81.6 111.6M92.0 119.9L79.9 108.6M92.6 119.2L79.3 106.6M93.3 118.6L86.6 112.2M99.1 125.3L92.6 119.2M101.4 128.0L98.8 125.6M86.4 110.6L82.8 107.1M87.1 109.9L80.5 103.4M103.1 126.3L86.7 110.2M102.6 128.0L102.0 127.5M104.6 126.1L81.6 103.0M103.4 128.3L102.8 127.7M105.7 126.1L88.7 108.7M104.3 128.6L103.7 128.0M91.1 109.8L84.4 102.9M91.8 109.1L85.6 102.5M107.2 125.9L91.4 109.4M105.4 128.6L104.9 128.0M108.6 125.7L85.1 100.5M106.3 128.9L105.7 128.3M98.3 113.3L87.8 101.9M99.0 112.7L93.0 106.1M99.2 113.6L98.7 113.0M100.2 112.7L87.9 98.9M109.8 124.7L99.5 113.3M110.4 123.1L88.8 98.3M94.9 103.7L91.7 100.0M95.6 103.1L90.7 97.2M108.6 119.0L95.2 103.4M109.5 118.3L91.0 96.0M111.1 121.4L108.9 118.8M105.9 112.5L91.2 94.6M106.5 111.9L94.4 96.8M110.0 116.9L106.2 112.2M105.7 109.4L94.5 95.3M106.4 108.9L95.2 94.4M111.3 115.9L106.0 109.1M113.3 119.7L110.7 116.4M112.9 121.1L112.4 120.5M100.8 100.1L97.8 96.2M101.6 99.5L95.8 91.8M113.3 115.7L101.2 99.8M109.2 108.1L100.8 96.8M109.9 107.6L103.4 98.6M110.8 109.6L109.6 107.9M111.9 108.8L99.3 91.2M115.0 114.5L111.2 109.3M114.8 115.7L114.3 115.0M116.8 114.3L107.6 101.2M116.1 116.7L115.1 115.4M114.5 109.5L101.1 90.1M108.9 99.8L101.2 88.3M109.7 99.3L102.4 88.2M113.4 105.5L109.3 99.5M114.5 104.8L105.8 91.6M116.0 108.6L113.7 105.2M119.4 114.5L115.6 108.8M117.9 116.5L117.4 115.8M121.6 114.1L103.7 86.3M118.7 116.9L118.2 116.3M116.6 119.4L116.1 118.7M116.1 120.7L115.6 120.1M113.2 123.9L112.7 123.3M112.7 98.6L104.7 85.9M113.5 98.1L106.0 86.0M124.3 116.2L113.1 98.3M114.3 124.1L113.8 123.4M114.5 97.9L106.0 84.0M113.5 94.4L108.1 85.4M114.3 93.9L108.5 84.0M115.7 97.2L113.9 94.1M115.7 98.1L115.3 97.4M111.6 87.1L109.5 83.7M112.5 86.6L110.5 83.1M117.8 97.0L112.0 86.9M116.9 98.3L116.5 97.7M119.4 97.0L113.0 85.4M124.1 109.7L117.3 98.1M119.9 96.1L112.7 82.7M120.8 95.6L113.7 82.4M121.6 95.2L114.6 81.8M125.0 103.5L120.8 95.6M125.1 100.0L114.7 79.8M120.9 89.7L115.8 79.6M118.9 83.4L116.7 78.9M119.8 83.0L117.7 78.5M122.2 89.0L119.4 83.2M126.3 98.5L121.8 89.3M121.7 84.4L118.6 77.8M122.6 84.0L120.0 78.5M124.2 88.6L122.1 84.2M125.5 88.0L120.6 77.1M127.9 95.5L124.6 88.4M126.2 87.0L123.9 82.0M127.1 86.6L123.0 77.3M130.0 94.6L126.6 86.8M129.2 96.1L128.8 95.1M127.7 85.7L124.2 77.3M128.7 85.3L125.2 77.0M132.1 94.9L128.2 85.5M130.4 96.7L130.0 95.7M129.5 97.9L129.2 97.2M129.5 98.9L129.1 98.1M131.1 88.8L125.5 74.8M131.1 86.1L126.8 75.1M132.0 85.8L127.6 74.4M132.5 88.3L131.5 85.9M135.2 96.5L132.0 88.5M131.2 99.4L130.7 98.3M131.6 81.9L128.8 74.4M132.5 81.6L130.0 74.7M133.0 84.2L132.1 81.8M134.1 82.9L130.9 73.9M135.0 82.6L132.2 74.5M134.8 83.5L134.6 82.8M138.5 96.6L133.9 83.9M133.2 99.8L132.8 98.7M135.2 80.0L133.9 76.2M136.2 79.7L134.7 75.4M137.3 84.8L135.7 79.9M138.7 84.4L134.7 71.7M138.0 85.4L137.8 84.7M139.9 84.9L136.2 72.9M140.9 92.6L138.5 85.3M138.6 77.3L137.3 73.1M139.6 77.0L137.8 70.9M142.3 87.9L139.1 77.2M143.4 86.7L139.3 72.3M141.5 76.1L140.0 70.7M142.5 75.8L141.0 70.3M144.6 85.6L142.0 76.0M145.7 84.5L143.8 76.7M144.8 76.9L143.5 71.3M145.8 76.6L144.3 70.3M145.9 79.0L145.3 76.7M146.8 76.1L145.1 69.1M147.7 75.9L146.4 70.0M147.8 78.5L147.2 76.0M148.1 83.9L146.9 78.7M147.8 84.8L147.6 84.0M147.1 85.8L146.9 85.0M146.8 86.7L146.6 85.9M146.9 90.9L145.9 86.9M146.3 95.4L145.2 91.3M139.4 102.8L137.7 98.1M139.6 109.7L137.1 103.6M171.1 190.5L127.4 115.4M174.6 196.5L169.0 200.7M175.8 196.2L292.4 164.4M175.8 196.2L299.1 165.2M176.0 196.2L280.6 171.5M175.8 196.2L275.2 174.3M176.1 196.2L293.4 172.5M175.9 196.3L293.5 174.9M175.9 196.3L281.9 178.3M175.8 196.3L279.8 180.8M176.1 196.3L294.0 181.1M176.1 196.3L284.1 184.0M175.9 196.4L278.8 186.0M175.7 196.4L296.2 186.7M175.8 196.4L278.6 190.3M175.9 196.4L299.6 190.2M175.7 196.5L282.5 192.9M175.7 196.5L281.3 195.4M176.0 196.5L302.8 197.8M176.1 196.5L281.2 199.0M144.9 166.6L96.5 117.7M144.4 164.3L101.3 118.2M147.7 167.0L100.6 115.3M149.0 167.2L93.9 104.1M148.6 164.9L107.0 114.1M149.8 165.2L100.9 103.5M148.7 162.8L100.4 99.9M151.4 164.9L103.8 99.9M151.3 163.1L111.4 105.8M151.6 162.0L118.1 111.8M153.2 162.8L113.1 99.6M154.4 163.2L119.4 105.6M170.8 172.1L159.0 96.9M171.3 170.0L161.6 91.7M172.6 170.6L166.8 96.0M144.4 236.3L106.7 286.0M145.4 233.8L101.1 290.4M140.4 237.7L100.3 286.1M139.0 237.6L108.0 273.4M142.4 232.6L97.1 283.4M137.5 235.6L103.5 271.6M137.1 234.8L94.9 277.8M139.2 231.2L90.2 279.4M136.2 232.7L95.3 271.3M138.4 229.0L93.8 268.9M180.8 178.4L209.1 96.3M183.1 179.6L222.2 101.6M186.8 179.3L234.7 111.6M187.3 184.2L253.4 120.3M189.6 185.2L258.3 133.5M192.9 188.3L268.4 154.3M150.34 78.37A123.73 120.47 0 0 1 151.32 78.18M151.56 81.92A119.91 116.76 0 0 1 153.94 81.49M154.36 78.25A123.12 119.88 0 0 1 155.34 78.09M152.66 82.53A119.09 115.96 0 0 1 155.50 82.05M153.75 83.15A118.26 115.16 0 0 1 157.04 82.62M150.65 84.55A117.44 114.36 0 0 1 154.36 83.86M156.88 74.93A126.10 122.79 0 0 1 157.89 74.79M154.04 84.72A116.62 113.56 0 0 1 160.08 83.83M163.92 73.90A126.36 123.04 0 0 1 164.94 73.82M162.99 74.78A125.54 122.24 0 0 1 164.50 74.65M162.41 78.99A121.30 118.11 0 0 1 166.30 78.67M166.94 73.23A126.83 123.49 0 0 1 167.96 73.17M164.42 79.61A120.48 117.31 0 0 1 167.81 79.38M161.61 80.68A119.65 116.51 0 0 1 165.45 80.33M161.09 84.36A115.96 112.91 0 0 1 165.27 83.95M168.88 70.93A129.08 125.69 0 0 1 169.92 70.89M169.66 77.23A122.59 119.37 0 0 1 171.14 77.18M164.87 84.79A115.14 112.11 0 0 1 170.43 84.46M166.32 85.48A114.32 111.31 0 0 1 172.30 85.21M156.13 88.59A112.35 109.40 0 0 1 166.91 87.36M162.05 88.59A111.53 108.60 0 0 1 173.25 87.91M175.11 73.20A126.63 123.30 0 0 1 176.13 73.21M179.19 73.30A126.61 123.29 0 0 1 180.21 73.34M178.13 74.75A125.09 121.80 0 0 1 179.64 74.80M182.11 75.53A124.46 121.19 0 0 1 183.12 75.59M181.07 76.27A123.64 120.39 0 0 1 182.56 76.36M178.93 80.28A119.44 116.30 0 0 1 181.81 80.42M176.98 81.29A118.35 115.24 0 0 1 180.32 81.40M175.54 83.13A116.44 113.37 0 0 1 179.76 83.24M184.45 71.38A128.87 125.48 0 0 1 185.49 71.46M184.76 73.92A126.29 122.97 0 0 1 186.28 74.05M187.15 75.53A124.87 121.59 0 0 1 188.15 75.63M187.34 78.49A121.87 118.66 0 0 1 188.80 78.64M190.74 71.30A129.59 126.18 0 0 1 191.77 71.43M187.74 79.33A121.05 117.86 0 0 1 190.16 79.61M184.70 80.45A119.61 116.46 0 0 1 188.54 80.83M192.03 76.94A124.02 120.76 0 0 1 194.00 77.23M186.54 85.87A114.24 111.23 0 0 1 191.56 86.50M194.97 77.46A123.94 120.68 0 0 1 196.94 77.80M195.82 78.41A123.12 119.88 0 0 1 197.77 78.76M198.46 80.30A121.70 118.50 0 0 1 199.42 80.50M195.80 81.25A120.24 117.08 0 0 1 198.65 81.79M187.82 86.82A113.42 110.43 0 0 1 195.49 87.96M190.42 87.95A112.59 109.63 0 0 1 198.45 89.35M178.65 87.74A111.77 108.83 0 0 1 190.75 88.81M174.16 89.26A110.14 107.24 0 0 1 186.55 89.89M204.81 79.19A124.21 120.95 0 0 1 206.75 79.68M202.37 80.78A122.05 118.84 0 0 1 205.24 81.46M203.84 82.95A120.22 117.06 0 0 1 206.65 83.68M200.80 83.23A119.25 116.11 0 0 1 204.07 83.99M210.12 75.29A129.45 126.05 0 0 1 211.12 75.57M212.21 75.56A129.77 126.36 0 0 1 213.21 75.86M214.21 79.39A126.63 123.30 0 0 1 215.18 79.71M212.99 79.85A125.80 122.50 0 0 1 214.44 80.31M213.70 80.91A124.98 121.70 0 0 1 215.61 81.54M209.29 86.54A118.14 115.03 0 0 1 212.01 87.39M218.14 80.51A126.83 123.50 0 0 1 219.10 80.85M216.41 82.27A124.54 121.26 0 0 1 217.82 82.78M215.93 86.38A120.41 117.24 0 0 1 217.75 87.05M206.69 88.64A115.32 112.29 0 0 1 214.62 91.19M220.20 83.56A124.64 121.36 0 0 1 221.13 83.92M210.86 90.74A114.50 111.49 0 0 1 216.92 92.90M223.25 84.07A125.29 122.00 0 0 1 224.17 84.46M221.17 86.41A122.28 119.07 0 0 1 222.53 86.96M221.76 87.51A121.46 118.27 0 0 1 223.55 88.27M226.26 84.72A125.88 122.57 0 0 1 227.19 85.13M229.49 85.02A126.97 123.64 0 0 1 230.42 85.45M227.08 87.68A123.47 120.22 0 0 1 229.76 88.95M228.07 89.03A122.64 119.42 0 0 1 231.16 90.54M226.44 94.40A116.97 113.89 0 0 1 229.37 95.87M222.69 93.56A116.15 113.09 0 0 1 226.49 95.32M225.29 95.64A115.32 112.29 0 0 1 229.42 97.71M219.48 93.93A114.50 111.49 0 0 1 225.35 96.55M211.47 91.79A113.68 110.69 0 0 1 229.45 99.54M236.18 89.68A125.81 122.50 0 0 1 237.07 90.16M235.07 92.59A122.66 119.44 0 0 1 236.36 93.31M235.09 93.52A121.84 118.64 0 0 1 236.79 94.48M239.56 91.86A125.57 122.27 0 0 1 240.43 92.37M235.11 94.45A121.02 117.84 0 0 1 237.62 95.91M241.95 93.71A125.22 121.93 0 0 1 242.80 94.24M246.20 91.02A129.85 126.44 0 0 1 247.07 91.58M239.11 98.91A119.19 116.06 0 0 1 240.72 99.94M244.26 97.39A123.34 120.10 0 0 1 245.07 97.94M248.19 95.33A127.33 123.98 0 0 1 249.02 95.91M248.28 100.22A123.31 120.07 0 0 1 249.07 100.81M246.99 100.30A122.49 119.27 0 0 1 248.18 101.15M241.85 104.83A115.69 112.65 0 0 1 243.73 106.17M236.92 103.87A113.72 110.73 0 0 1 241.82 107.18M233.84 104.47A111.55 108.62 0 0 1 238.34 107.36M230.73 103.57A110.73 107.82 0 0 1 237.50 107.77M215.67 99.40A107.85 105.01 0 0 1 233.70 108.66M250.98 101.57A123.86 120.60 0 0 1 251.77 102.17M250.03 103.53A121.68 118.48 0 0 1 251.17 104.42M248.37 103.28A120.86 117.68 0 0 1 249.90 104.45M254.98 101.43A126.47 123.14 0 0 1 255.76 102.06M254.85 102.36A125.65 122.34 0 0 1 256.01 103.31M244.34 110.54A112.51 109.55 0 0 1 246.80 112.49M257.28 106.36A124.12 120.86 0 0 1 258.03 107.01M257.11 107.28A123.30 120.06 0 0 1 258.21 108.25M254.74 107.70A121.41 118.22 0 0 1 256.20 108.97M262.79 104.91A128.93 125.54 0 0 1 263.54 105.61M258.28 110.29A121.83 118.62 0 0 1 259.35 111.28M255.29 109.24A120.59 117.42 0 0 1 257.78 111.49M252.93 108.28A119.77 116.62 0 0 1 255.81 110.78M251.83 114.33A114.39 111.38 0 0 1 254.83 117.11M244.21 112.80A110.61 107.70 0 0 1 249.60 117.34M246.00 116.74A108.67 105.81 0 0 1 251.44 121.68M264.06 110.78A125.51 122.22 0 0 1 264.77 111.48M263.02 114.47A122.13 118.92 0 0 1 264.36 115.87M258.75 116.52A117.59 114.50 0 0 1 260.38 118.19M267.65 114.26A125.66 122.36 0 0 1 269.00 115.73M258.87 118.32A116.39 113.33 0 0 1 261.41 121.01M272.14 115.71A128.06 124.69 0 0 1 272.81 116.48M269.18 116.88A125.03 121.74 0 0 1 270.16 117.99M266.35 120.51A120.46 117.29 0 0 1 267.60 121.96M256.93 121.94A112.44 109.48 0 0 1 260.54 125.90M271.24 121.54A123.55 120.31 0 0 1 271.86 122.31M257.55 123.78A111.61 108.68 0 0 1 262.18 129.13M245.79 117.62A107.85 105.01 0 0 1 255.61 127.18M200.63 95.42A107.02 104.21 0 0 1 249.97 122.52M275.25 120.98A127.06 123.72 0 0 1 275.87 121.78M272.07 123.98A122.67 119.44 0 0 1 272.96 125.13M274.84 124.98A124.27 121.00 0 0 1 275.43 125.77M276.63 129.68A122.96 119.72 0 0 1 277.18 130.49M274.21 130.13A120.70 117.52 0 0 1 275.82 132.49M280.56 131.84A125.05 121.76 0 0 1 281.09 132.67M274.34 131.75A119.87 116.72 0 0 1 276.43 134.91M272.31 130.26A119.05 115.92 0 0 1 274.45 133.36M266.55 133.09A112.68 109.72 0 0 1 271.03 139.74M264.48 132.91A111.10 108.18 0 0 1 267.53 137.22M282.56 134.10A125.55 122.25 0 0 1 283.08 134.95M282.11 134.93A124.73 121.45 0 0 1 282.87 136.20M282.56 137.49A123.81 120.55 0 0 1 283.05 138.34M284.02 138.93A124.38 121.11 0 0 1 284.96 140.65M273.95 142.71A113.68 110.69 0 0 1 275.04 144.67M287.42 141.64A126.11 122.79 0 0 1 287.87 142.52M286.90 142.44A125.28 121.98 0 0 1 287.56 143.76M284.72 144.02A122.60 119.38 0 0 1 285.57 145.76M288.32 145.59A125.16 121.87 0 0 1 288.74 146.48M281.05 146.29A118.28 115.17 0 0 1 282.26 148.81M279.25 144.58A117.46 114.37 0 0 1 280.72 147.47M273.89 144.26A112.85 109.89 0 0 1 276.36 148.99M271.40 141.58A112.03 109.09 0 0 1 274.63 147.37M292.23 147.16A128.08 124.71 0 0 1 292.63 148.08M288.86 147.50A124.85 121.56 0 0 1 289.46 148.85M286.47 149.57A121.81 118.61 0 0 1 287.23 151.33M285.91 150.32A120.99 117.81 0 0 1 286.84 152.51M282.89 152.08A117.51 114.42 0 0 1 283.96 154.64M273.28 146.56A111.21 108.29 0 0 1 277.26 154.86M260.99 132.76A108.39 105.54 0 0 1 271.96 150.11M185.70 93.66A106.20 103.41 0 0 1 267.00 145.52M289.55 153.54A123.12 119.89 0 0 1 289.90 154.44M296.00 153.30A129.25 125.85 0 0 1 296.35 154.25M297.03 156.17A129.25 125.85 0 0 1 297.36 157.13M293.82 156.18A126.21 122.89 0 0 1 294.32 157.58M287.43 156.85A119.95 116.80 0 0 1 288.23 159.07M296.13 158.58A127.62 124.26 0 0 1 296.44 159.53M292.64 161.70A123.33 120.09 0 0 1 293.20 163.55M294.92 164.09A124.84 121.56 0 0 1 295.18 165.04M292.13 162.85A122.51 119.29 0 0 1 292.81 165.16M298.52 165.21A128.02 124.65 0 0 1 298.78 166.18M288.34 164.90A118.28 115.17 0 0 1 289.21 168.04M284.31 162.74A115.06 112.04 0 0 1 285.50 166.63M299.81 166.97A128.84 125.45 0 0 1 300.05 167.95M296.50 170.77A124.73 121.45 0 0 1 296.71 171.73M292.72 170.60A121.08 117.89 0 0 1 293.03 171.99M291.22 169.48A119.87 116.72 0 0 1 291.75 171.77M284.46 165.98A114.24 111.24 0 0 1 286.05 172.06M284.27 168.35A113.42 110.44 0 0 1 285.82 174.85M277.75 161.62A109.19 106.32 0 0 1 280.29 169.81M300.63 172.99A128.32 124.94 0 0 1 300.82 173.98M300.11 177.14A127.08 123.74 0 0 1 300.27 178.13M295.69 178.31A122.53 119.30 0 0 1 295.91 179.74M294.96 178.91A121.70 118.50 0 0 1 295.23 180.80M293.84 177.15A120.88 117.70 0 0 1 294.21 179.49M293.33 179.14A120.06 116.90 0 0 1 293.73 181.94M299.79 182.20A126.05 122.73 0 0 1 299.90 183.18M292.06 176.49A119.24 116.10 0 0 1 293.08 183.43M290.99 175.26A118.42 115.30 0 0 1 291.84 180.30M303.41 184.85A129.36 125.96 0 0 1 303.50 185.86M302.32 188.98A127.96 124.59 0 0 1 302.38 189.98M298.15 188.25A123.84 120.59 0 0 1 298.25 189.70M295.43 187.48A121.19 118.00 0 0 1 295.57 189.38M294.50 186.13A120.37 117.20 0 0 1 294.72 188.95M293.54 184.80A119.55 116.40 0 0 1 293.83 188.07M302.22 190.99A127.75 124.39 0 0 1 302.27 191.99M292.98 187.66A118.72 115.60 0 0 1 293.23 191.85M288.06 179.91A114.73 111.72 0 0 1 289.06 188.86M302.23 193.00A127.68 124.33 0 0 1 302.26 194.00M298.82 193.58A124.26 120.99 0 0 1 298.85 195.04M287.79 184.02A113.91 110.92 0 0 1 288.49 194.27M300.70 196.99A126.10 122.79 0 0 1 300.69 197.98M296.63 196.02A122.03 118.82 0 0 1 296.63 197.46M287.12 185.43A113.09 110.12 0 0 1 287.69 196.94M301.87 199.00A127.30 123.95 0 0 1 301.84 199.99M302.37 202.02A127.89 124.53 0 0 1 302.32 203.02M300.48 202.43A126.03 122.71 0 0 1 300.40 203.91M295.28 200.76A120.76 117.59 0 0 1 295.20 202.65M294.50 199.32A119.94 116.79 0 0 1 294.40 202.14M298.64 204.78A124.34 121.07 0 0 1 298.57 205.76M291.78 201.10A117.27 114.19 0 0 1 291.56 204.77M280.81 187.31A106.63 103.82 0 0 1 281.10 201.52M276.13 168.73A105.46 102.69 0 0 1 279.90 190.71M301.47 208.98A127.52 124.16 0 0 1 301.36 209.98M297.69 210.56A123.93 120.68 0 0 1 297.57 211.53M295.28 208.85A121.35 118.16 0 0 1 294.88 212.16M294.61 207.36A120.52 117.36 0 0 1 294.30 210.18M293.54 209.62A119.70 116.56 0 0 1 293.11 212.88M300.44 214.90A127.25 123.91 0 0 1 300.29 215.88M292.67 209.99A118.88 115.76 0 0 1 292.09 214.15M297.92 217.51A125.19 121.90 0 0 1 297.74 218.47M295.18 217.53A122.50 119.28 0 0 1 294.91 218.94M293.02 215.72A120.05 116.89 0 0 1 292.32 219.42M288.97 216.91A116.27 113.22 0 0 1 288.23 220.48M297.85 225.57A126.81 123.48 0 0 1 297.60 226.53M297.28 224.42A125.99 122.68 0 0 1 296.93 225.86M292.30 222.31A120.64 117.47 0 0 1 291.85 224.15M287.99 217.65A115.45 112.42 0 0 1 286.92 222.52M288.34 210.40A114.63 111.62 0 0 1 286.82 219.27M286.78 215.16A113.81 110.82 0 0 1 284.76 224.32M295.99 228.17A125.67 122.37 0 0 1 295.45 230.07M292.71 228.31A122.55 119.33 0 0 1 292.17 230.16M291.89 231.08A122.55 119.33 0 0 1 291.60 232.00M291.79 228.56A121.73 118.53 0 0 1 290.96 231.31M287.18 205.79A112.99 110.02 0 0 1 283.13 227.11M292.78 233.38A124.10 120.84 0 0 1 292.16 235.23M284.68 217.48A112.17 109.22 0 0 1 281.14 230.67M289.05 235.21A121.16 117.97 0 0 1 288.39 237.00M290.94 239.98A124.61 121.34 0 0 1 290.57 240.89M289.26 238.33A122.44 119.23 0 0 1 288.73 239.67M286.61 235.37A118.91 115.79 0 0 1 285.62 237.99M285.95 240.14A120.03 116.88 0 0 1 285.59 241.01M285.35 236.41A118.09 114.99 0 0 1 283.97 239.86M284.25 236.99A117.27 114.19 0 0 1 282.67 240.83M282.79 236.94A115.89 112.84 0 0 1 281.03 241.15M281.85 237.07A115.06 112.04 0 0 1 279.90 241.66M288.52 246.42A124.92 121.64 0 0 1 288.10 247.31M285.85 245.78A122.22 119.01 0 0 1 285.23 247.09M278.99 236.46A112.17 109.22 0 0 1 276.51 242.12M287.24 249.08A124.92 121.63 0 0 1 286.80 249.97M289.53 252.39A128.47 125.09 0 0 1 289.07 253.29M282.94 247.60A120.39 117.22 0 0 1 282.09 249.30M283.60 218.61A111.34 108.42 0 0 1 274.41 244.55M278.26 182.59A104.64 101.89 0 0 1 275.23 224.45M271.67 160.65A103.82 101.09 0 0 1 278.23 202.60M170.85 163.09A34.51 33.61 0 0 1 209.07 198.26M283.84 251.78A123.11 119.87 0 0 1 283.37 252.63M282.07 253.04A122.16 118.94 0 0 1 281.12 254.72M278.37 249.53A117.19 114.11 0 0 1 277.25 251.55M275.64 249.66A114.85 111.83 0 0 1 274.29 252.02M284.63 258.93A127.35 124.00 0 0 1 284.11 259.79M273.86 249.23A113.07 110.10 0 0 1 272.07 252.32M279.13 258.03A122.14 118.93 0 0 1 278.62 258.85M281.13 262.68A126.36 123.04 0 0 1 280.57 263.51M276.82 258.88A120.64 117.47 0 0 1 276.04 260.08M275.22 256.27A117.86 114.76 0 0 1 273.96 258.23M280.00 264.33A126.34 123.02 0 0 1 279.43 265.15M275.57 262.05A121.35 118.16 0 0 1 274.75 263.23M278.43 266.89A126.51 123.19 0 0 1 277.84 267.70M277.73 268.84A127.11 123.77 0 0 1 277.13 269.65M273.03 263.80A120.28 117.11 0 0 1 271.90 265.34M270.73 259.45A115.85 112.80 0 0 1 268.87 262.07M275.10 269.42A125.33 122.04 0 0 1 274.49 270.20M267.39 259.40A113.06 110.09 0 0 1 264.99 262.64M266.19 259.67A112.24 109.29 0 0 1 263.51 263.21M272.15 270.91A123.92 120.66 0 0 1 271.53 271.68M270.90 272.43A123.92 120.66 0 0 1 270.27 273.19M271.19 270.80A123.10 119.86 0 0 1 269.95 272.31M265.26 259.56A111.42 108.49 0 0 1 261.47 264.43M268.31 253.69A110.60 107.69 0 0 1 263.55 260.50M263.43 257.76A108.86 106.00 0 0 1 258.08 264.52M265.67 274.43A121.24 118.05 0 0 1 265.03 275.14M265.69 273.19A120.42 117.25 0 0 1 264.74 274.25M259.68 266.97A111.70 108.76 0 0 1 258.50 268.29M257.77 254.35A102.21 99.52 0 0 1 251.65 261.89M264.34 278.42A123.01 119.78 0 0 1 262.97 279.82M258.78 272.12A114.53 111.52 0 0 1 257.52 273.43M258.80 270.92A113.71 110.72 0 0 1 257.24 272.55M256.96 271.68A112.89 109.92 0 0 1 255.07 273.60M260.69 280.33A121.75 118.55 0 0 1 260.00 281.00M259.77 280.10A120.93 117.75 0 0 1 258.72 281.09M253.97 269.55A109.22 106.34 0 0 1 251.20 272.30M259.45 286.06A125.13 121.84 0 0 1 258.70 286.72M253.58 277.21A114.49 111.48 0 0 1 251.89 278.75M251.76 269.25A107.40 104.58 0 0 1 247.74 273.08M256.26 285.53A122.59 119.36 0 0 1 254.77 286.79M245.83 265.86A100.74 98.09 0 0 1 241.10 270.18M252.15 286.74A120.84 117.67 0 0 1 251.40 287.34M247.69 280.17A112.81 109.84 0 0 1 246.65 281.02M252.02 289.59A123.02 119.79 0 0 1 251.25 290.19M246.47 280.13A111.99 109.04 0 0 1 244.73 281.52M245.25 280.07A111.17 108.24 0 0 1 243.16 281.71M239.52 261.26A92.94 90.50 0 0 1 233.38 266.60M248.05 289.32A120.34 117.18 0 0 1 247.28 289.89M243.00 292.17A119.72 116.57 0 0 1 242.21 292.70M240.94 287.70A114.77 111.76 0 0 1 239.80 288.47M241.21 286.53A113.95 110.96 0 0 1 239.71 287.56M241.24 285.05A112.74 109.78 0 0 1 239.39 286.34M238.43 279.90A106.82 104.01 0 0 1 236.34 281.38M237.76 276.98A104.02 101.29 0 0 1 235.06 278.92M238.11 290.07A115.18 112.15 0 0 1 237.33 290.56M236.01 287.78A112.07 109.12 0 0 1 234.88 288.49M236.68 286.38A111.25 108.32 0 0 1 235.19 287.35M235.26 277.80A103.20 100.49 0 0 1 231.16 280.56M240.84 299.40A124.72 121.44 0 0 1 239.98 299.92M233.59 293.27A115.57 112.53 0 0 1 232.79 293.73M231.28 290.33A111.80 108.86 0 0 1 230.11 290.99M229.62 295.65A115.74 112.70 0 0 1 228.80 296.08M229.75 292.17A112.67 109.71 0 0 1 227.76 293.23M229.10 287.57A108.25 105.41 0 0 1 226.45 289.03M231.14 302.44A122.61 119.39 0 0 1 230.27 302.88M225.32 284.48A103.62 100.90 0 0 1 222.01 286.21M230.23 307.19A126.56 123.23 0 0 1 229.31 307.62M226.61 297.90A116.41 113.35 0 0 1 225.35 298.51M222.88 281.86A100.08 97.45 0 0 1 218.59 284.03M222.07 297.03A113.63 110.64 0 0 1 221.23 297.39M224.27 306.32A123.24 120.00 0 0 1 223.36 306.71M221.31 296.48A112.81 109.84 0 0 1 219.65 297.20M217.55 302.88A117.39 114.31 0 0 1 216.67 303.21M215.56 299.17A113.12 110.15 0 0 1 214.29 299.64M216.16 297.04A111.30 108.37 0 0 1 214.49 297.68M214.70 291.29A105.29 102.52 0 0 1 212.73 292.06M213.94 287.42A101.32 98.66 0 0 1 211.67 288.32M215.00 284.85A99.32 96.71 0 0 1 211.31 286.36M217.40 310.51A124.67 121.39 0 0 1 216.45 310.85M213.79 309.28A122.27 119.05 0 0 1 212.85 309.58M213.52 305.60A118.61 115.49 0 0 1 212.16 306.05M208.61 288.26A100.18 97.55 0 0 1 206.71 288.90M211.23 282.12A95.25 92.75 0 0 1 205.85 284.11M214.74 279.73A94.43 91.95 0 0 1 209.15 282.07M218.77 276.86A93.61 91.15 0 0 1 209.20 281.19M211.41 308.34A120.61 117.44 0 0 1 210.48 308.63M222.60 273.82A92.79 90.35 0 0 1 202.56 282.65M223.12 272.57A91.97 89.55 0 0 1 212.34 278.16M207.97 303.81A115.15 112.13 0 0 1 207.08 304.07M205.65 297.82A108.59 105.74 0 0 1 204.39 298.18M212.67 277.13A91.14 88.75 0 0 1 200.31 281.64M208.10 314.44A125.68 122.37 0 0 1 207.13 314.70M204.81 304.55A115.01 111.98 0 0 1 203.47 304.90M204.01 310.69A120.90 117.72 0 0 1 203.06 310.92M200.64 291.12A100.60 97.95 0 0 1 198.67 291.61M200.89 306.05A115.54 112.50 0 0 1 199.08 306.44M198.91 287.78A96.85 94.30 0 0 1 195.88 288.50M199.76 314.07A123.34 120.10 0 0 1 198.78 314.26M194.72 314.05A122.39 119.17 0 0 1 193.75 314.21M194.19 305.51A113.65 110.67 0 0 1 192.83 305.73M194.51 302.31A110.47 107.57 0 0 1 192.76 302.60M193.60 293.05A100.96 98.30 0 0 1 191.60 293.40M194.63 292.03A100.13 97.50 0 0 1 191.86 292.54M188.75 306.24A113.59 110.61 0 0 1 187.84 306.35M190.41 304.96A112.51 109.55 0 0 1 188.16 305.25M189.98 296.28A103.62 100.89 0 0 1 187.92 296.56M187.56 290.91A97.83 95.25 0 0 1 185.22 291.19M191.38 285.65A93.08 90.63 0 0 1 186.56 286.38M195.54 279.22A87.50 85.20 0 0 1 188.29 280.65M209.38 272.57A85.52 83.27 0 0 1 190.69 278.28M223.27 263.99A84.70 82.47 0 0 1 202.39 274.41M184.93 315.12A122.26 119.05 0 0 1 183.95 315.20M182.64 310.60A117.46 114.37 0 0 1 181.69 310.66M181.47 300.21A106.74 103.93 0 0 1 180.19 300.29M183.12 299.30A105.91 103.13 0 0 1 180.99 299.44M184.20 297.08A103.74 101.02 0 0 1 179.19 297.42M177.01 313.01A119.68 116.54 0 0 1 176.05 313.03M177.78 306.35A112.86 109.89 0 0 1 176.42 306.38M178.48 300.63A107.01 104.20 0 0 1 176.75 300.68M184.37 290.64A97.17 94.62 0 0 1 176.95 291.09M175.05 305.53A111.98 109.03 0 0 1 174.15 305.53M179.46 280.29A86.19 83.93 0 0 1 174.60 280.43M231.72 256.31A83.88 81.67 0 0 1 178.65 278.08M171.12 316.64A123.43 120.19 0 0 1 170.13 316.61M172.33 306.32A112.81 109.84 0 0 1 170.97 306.29M171.44 305.50A111.99 109.04 0 0 1 169.64 305.44M168.78 304.72A111.29 108.36 0 0 1 167.88 304.67M173.39 293.98A100.12 97.49 0 0 1 168.96 293.83M171.13 289.78A95.86 93.34 0 0 1 168.04 289.62M165.49 312.24A119.21 116.07 0 0 1 164.53 312.16M163.66 311.12A118.22 115.12 0 0 1 162.72 311.03M160.84 319.20A126.76 123.42 0 0 1 159.83 319.08M164.45 298.44A105.19 102.42 0 0 1 162.76 298.27M166.80 290.59A96.94 94.39 0 0 1 162.53 290.16M171.02 283.03A88.94 86.60 0 0 1 165.66 282.66M208.08 270.51A83.05 80.87 0 0 1 168.92 277.18M240.74 244.09A82.23 80.07 0 0 1 203.14 271.59M158.21 315.86A123.68 120.43 0 0 1 157.22 315.73M158.82 307.99A115.58 112.54 0 0 1 157.44 307.79M159.77 298.26A105.56 102.78 0 0 1 158.09 298.02M156.16 304.27A112.20 109.25 0 0 1 154.37 303.96M155.41 303.33A111.38 108.45 0 0 1 153.64 303.02M150.84 307.53A116.47 113.41 0 0 1 149.92 307.34M153.76 297.99A106.30 103.50 0 0 1 152.50 297.74M157.73 288.19A95.67 93.15 0 0 1 155.09 287.70M160.96 287.44A94.38 91.90 0 0 1 156.84 286.76M209.38 266.41A79.78 77.68 0 0 1 160.85 273.02M146.57 313.29A123.18 119.94 0 0 1 145.60 313.07M150.37 301.26A110.28 107.38 0 0 1 147.78 300.66M146.96 300.28A110.11 107.21 0 0 1 146.10 300.06M142.77 308.56A119.41 116.27 0 0 1 141.84 308.31M146.74 299.40A109.29 106.41 0 0 1 145.04 298.95M141.79 305.15A116.31 113.25 0 0 1 140.89 304.89M148.00 291.63A101.26 98.60 0 0 1 145.65 290.98M139.07 304.45A116.42 113.36 0 0 1 138.18 304.17M141.95 298.53A109.75 106.86 0 0 1 140.69 298.13M142.15 295.08A106.32 103.52 0 0 1 140.53 294.56M151.16 277.74A86.66 84.39 0 0 1 146.16 276.21M131.82 305.03A119.39 116.25 0 0 1 130.92 304.69M133.00 304.61A118.57 115.45 0 0 1 131.66 304.11M129.35 298.76A114.36 111.35 0 0 1 128.51 298.41M135.13 289.82A103.65 100.93 0 0 1 133.20 289.03M138.06 284.90A97.86 95.29 0 0 1 136.24 284.17M139.82 284.71A97.04 94.49 0 0 1 136.92 283.58M141.57 284.50A96.22 93.69 0 0 1 135.11 281.94M122.64 306.53A124.37 121.10 0 0 1 121.73 306.12M141.63 275.35A87.44 85.14 0 0 1 137.75 273.71M129.28 288.55A104.83 102.08 0 0 1 127.76 287.82M122.10 294.87A113.85 110.86 0 0 1 121.29 294.45M123.29 294.56A113.03 110.06 0 0 1 122.07 293.95M134.70 275.89A90.77 88.39 0 0 1 131.45 274.26M145.52 275.94A86.61 84.34 0 0 1 135.28 271.65M153.22 265.25A73.77 71.83 0 0 1 144.59 262.12M115.12 301.66A123.29 120.05 0 0 1 114.25 301.19M113.86 298.00A120.64 117.47 0 0 1 113.02 297.52M121.67 286.60A106.60 103.80 0 0 1 120.56 285.97M124.74 283.81A102.60 99.90 0 0 1 122.94 282.82M111.42 298.27A122.13 118.92 0 0 1 110.58 297.77M115.09 288.95A112.05 109.11 0 0 1 113.57 288.01M119.72 284.10A105.38 102.61 0 0 1 117.92 283.00M114.06 285.69A109.80 106.92 0 0 1 113.32 285.22M111.97 285.61A110.89 107.98 0 0 1 111.24 285.12M105.39 291.65A119.75 116.60 0 0 1 104.60 291.11M111.51 282.51A108.55 105.70 0 0 1 110.44 281.76M118.97 277.75A100.28 97.65 0 0 1 115.98 275.73M117.77 275.98A99.46 96.85 0 0 1 115.17 274.16M102.51 289.14A119.37 116.23 0 0 1 100.98 288.00M99.09 288.81A121.20 118.01 0 0 1 98.33 288.21M101.23 281.87A114.33 111.32 0 0 1 100.53 281.29M104.52 279.39A110.26 107.36 0 0 1 103.50 278.56M97.62 280.42A115.56 112.52 0 0 1 96.93 279.82M101.38 277.63A110.92 108.00 0 0 1 100.38 276.76M102.59 277.59A110.10 107.20 0 0 1 101.26 276.45M113.52 267.58A95.18 92.68 0 0 1 111.48 265.87M113.72 265.06A93.08 90.64 0 0 1 111.48 263.12M116.83 266.54A92.26 89.84 0 0 1 113.98 264.22M121.75 263.29A86.59 84.32 0 0 1 118.23 260.51M130.64 264.80A82.78 80.61 0 0 1 121.47 258.32M133.91 265.77A81.96 79.81 0 0 1 125.36 260.30M150.82 255.41A65.01 63.30 0 0 1 136.60 247.86M90.75 279.47A119.55 116.40 0 0 1 90.07 278.81M92.01 279.55A118.73 115.60 0 0 1 90.99 278.57M101.40 271.31A106.12 103.33 0 0 1 100.17 270.15M92.46 273.95A114.34 111.34 0 0 1 91.82 273.30M98.39 269.52A106.92 104.11 0 0 1 97.49 268.62M101.05 269.87A105.29 102.53 0 0 1 98.96 267.82M103.60 265.64A100.41 97.77 0 0 1 101.35 263.37M109.30 264.32A95.48 92.97 0 0 1 106.82 261.97M82.64 279.10A125.11 121.83 0 0 1 81.96 278.38M107.67 261.67A94.65 92.17 0 0 1 104.77 258.72M83.80 272.94A120.03 116.87 0 0 1 83.17 272.22M84.11 272.06A119.21 116.07 0 0 1 83.18 270.99M80.78 270.48A120.73 117.55 0 0 1 80.17 269.74M75.49 272.11A125.91 122.60 0 0 1 74.86 271.33M85.05 266.53A114.85 111.84 0 0 1 83.90 265.12M81.39 265.27A116.94 113.87 0 0 1 80.83 264.54M83.55 261.46A112.88 109.91 0 0 1 82.48 260.03M85.01 262.05A112.06 109.11 0 0 1 83.68 260.28M86.16 259.59A109.63 106.75 0 0 1 84.62 257.50M91.46 260.45A105.95 103.17 0 0 1 88.88 257.14M93.77 261.29A104.69 101.94 0 0 1 90.91 257.74M91.82 257.58A103.87 101.14 0 0 1 88.88 253.62M92.22 256.78A103.05 100.34 0 0 1 89.09 252.50M99.08 259.05A99.15 96.54 0 0 1 95.10 254.19M100.74 259.70A98.33 95.74 0 0 1 96.47 254.63M68.68 264.66A126.96 123.62 0 0 1 68.12 263.83M76.77 258.91A116.96 113.88 0 0 1 76.00 257.75M84.51 253.47A107.42 104.59 0 0 1 83.58 252.04M72.24 257.85A120.19 117.03 0 0 1 71.74 257.05M76.70 254.65A114.68 111.66 0 0 1 75.99 253.50M97.36 254.45A97.51 94.94 0 0 1 91.16 245.62M102.49 259.21A96.68 94.14 0 0 1 96.38 251.84M64.39 259.04A127.56 124.21 0 0 1 63.87 258.17M72.93 252.07A116.60 113.53 0 0 1 72.47 251.27M71.75 250.62A116.91 113.84 0 0 1 71.30 249.81M73.25 249.31A114.95 111.93 0 0 1 72.60 248.12M77.36 249.15A111.26 108.33 0 0 1 76.29 247.23M72.51 247.15A114.58 111.56 0 0 1 72.10 246.35M70.28 246.21A116.15 113.09 0 0 1 69.87 245.39M85.15 243.56A101.67 99.00 0 0 1 83.10 239.66M64.09 245.98A121.64 118.44 0 0 1 63.68 245.11M70.35 244.17A115.17 112.14 0 0 1 69.77 242.94M85.12 241.78A100.85 98.20 0 0 1 82.31 236.08M85.11 240.02A100.03 97.40 0 0 1 82.74 235.04M97.27 251.67A95.86 93.34 0 0 1 88.67 237.87M59.82 243.59A124.55 121.28 0 0 1 59.43 242.69M94.48 246.27A95.04 92.54 0 0 1 86.87 232.09M58.02 241.12A125.26 121.97 0 0 1 57.66 240.21M73.00 234.93A109.00 106.13 0 0 1 72.22 232.93M74.32 233.53A107.25 104.43 0 0 1 73.29 230.76M54.37 234.02A126.26 122.94 0 0 1 54.06 233.07M65.82 229.97A114.08 111.08 0 0 1 65.42 228.69M67.03 231.00A113.26 110.28 0 0 1 66.47 229.31M67.39 229.49A112.44 109.48 0 0 1 66.73 227.38M68.87 231.33A111.61 108.68 0 0 1 68.04 228.83M75.83 226.90A103.59 100.87 0 0 1 74.99 224.17M79.65 233.71A102.35 99.66 0 0 1 76.88 226.15M61.08 227.08A117.79 114.69 0 0 1 60.83 226.18M59.70 225.51A118.70 115.58 0 0 1 59.47 224.61M66.25 223.41A111.82 108.88 0 0 1 65.71 221.28M67.50 224.89A111.00 108.08 0 0 1 66.82 222.37M56.46 221.44A120.89 117.71 0 0 1 56.25 220.51M57.47 222.19A120.07 116.91 0 0 1 57.16 220.81M52.10 220.35A124.92 121.64 0 0 1 51.91 219.39M65.21 219.59A111.93 108.98 0 0 1 64.76 217.44M52.68 218.26A123.96 120.70 0 0 1 52.50 217.30M75.82 216.54A100.90 98.24 0 0 1 75.28 213.82M77.63 220.58A100.07 97.44 0 0 1 76.47 215.61M77.77 217.73A99.25 96.64 0 0 1 76.70 212.39M78.49 217.18A98.43 95.84 0 0 1 77.38 211.49M92.01 224.07A87.31 85.01 0 0 1 89.27 214.51M56.86 213.71A119.06 115.93 0 0 1 56.72 212.79M55.45 208.22A119.76 116.61 0 0 1 55.35 207.29M60.67 208.61A114.61 111.60 0 0 1 60.53 207.27M59.94 205.97A115.07 112.05 0 0 1 59.86 205.07M68.47 208.63A106.86 104.05 0 0 1 68.08 204.87M69.38 209.36A106.04 103.25 0 0 1 69.05 206.47M74.26 209.56A101.23 98.57 0 0 1 73.88 206.41M83.11 209.51A92.46 90.03 0 0 1 82.65 205.91M60.31 204.13A114.56 111.55 0 0 1 60.25 203.24M85.30 206.35A89.88 87.51 0 0 1 84.91 202.14M93.14 218.44A84.51 82.29 0 0 1 90.55 205.10M67.44 201.13A107.27 104.45 0 0 1 67.38 199.44M59.21 197.86A115.40 112.36 0 0 1 59.20 196.95M54.97 196.03A119.63 116.48 0 0 1 54.98 195.09M60.03 197.40A114.58 111.56 0 0 1 60.03 195.60M63.89 198.67A110.73 107.82 0 0 1 63.87 196.50M69.81 196.91A104.79 102.03 0 0 1 69.84 194.45M71.91 200.13A102.76 100.06 0 0 1 71.84 196.50M77.47 201.46A97.26 94.70 0 0 1 77.35 197.64M50.16 192.11A124.52 121.25 0 0 1 50.20 191.13M60.95 193.38A113.70 110.71 0 0 1 60.99 192.04M61.80 192.52A112.88 109.91 0 0 1 61.88 190.75M81.03 197.97A93.58 91.12 0 0 1 81.09 192.83M54.24 186.56A120.79 117.61 0 0 1 54.33 185.62M54.98 187.57A119.97 116.81 0 0 1 55.10 186.16M59.31 188.80A115.56 112.53 0 0 1 59.45 186.99M67.08 190.17A107.71 104.88 0 0 1 67.24 188.06M52.11 184.45A123.11 119.88 0 0 1 52.21 183.49M74.23 189.01A100.66 98.01 0 0 1 74.49 186.25M84.75 196.50A89.85 87.49 0 0 1 85.07 189.11M94.58 214.05A82.02 79.86 0 0 1 92.61 194.25M54.19 180.82A121.49 118.29 0 0 1 54.32 179.88M68.74 183.56A106.69 103.88 0 0 1 68.91 182.32M60.35 179.80A115.53 112.50 0 0 1 60.64 178.01M57.18 175.55A119.37 116.23 0 0 1 57.36 174.63M57.82 176.61A118.55 115.43 0 0 1 58.08 175.24M74.10 181.00A101.75 99.08 0 0 1 74.52 178.64M74.56 183.48A100.93 98.28 0 0 1 75.11 179.95M81.42 185.85A93.82 91.35 0 0 1 81.93 182.21M67.54 175.66A109.18 106.31 0 0 1 67.90 173.98M70.07 175.29A106.77 103.96 0 0 1 70.44 173.66M70.97 175.05A105.95 103.16 0 0 1 71.43 173.02M62.45 170.05A115.40 112.36 0 0 1 62.67 169.17M73.10 175.08A103.86 101.13 0 0 1 73.76 172.30M78.16 175.35A98.85 96.25 0 0 1 78.91 172.34M82.83 182.72A92.86 90.42 0 0 1 84.09 176.28M57.69 166.00A121.04 117.85 0 0 1 57.95 165.08M84.14 179.99A92.04 89.62 0 0 1 85.79 172.96M54.43 163.12A124.97 121.68 0 0 1 54.71 162.18M87.94 179.98A88.31 85.98 0 0 1 89.78 172.58M69.66 164.66A109.92 107.03 0 0 1 69.93 163.84M59.84 158.69A121.15 117.97 0 0 1 60.15 157.79M73.59 162.78A106.79 103.98 0 0 1 74.30 160.81M73.95 164.22A105.96 103.18 0 0 1 74.64 162.25M74.34 165.65A105.14 102.38 0 0 1 75.28 162.91M81.71 169.11A97.06 94.50 0 0 1 82.66 166.21M69.67 156.33A112.75 109.78 0 0 1 70.01 155.51M73.05 158.54A108.78 105.92 0 0 1 74.02 156.16M75.79 160.46A105.51 102.74 0 0 1 76.56 158.53M84.89 167.34A94.58 92.09 0 0 1 86.58 162.80M64.73 150.41A119.63 116.49 0 0 1 65.11 149.55M65.80 151.87A118.06 114.96 0 0 1 66.36 150.59M94.24 180.53A82.02 79.86 0 0 1 99.27 164.90M94.16 207.29A81.20 79.06 0 0 1 96.25 175.73M123.17 245.78A72.16 70.26 0 0 1 102.45 195.37M156.71 228.44A37.36 36.38 0 0 1 137.99 203.78M166.14 231.11A36.54 35.58 0 0 1 141.71 212.01M188.73 228.44A35.72 34.78 0 0 1 142.71 212.16M66.80 149.26A118.22 115.11 0 0 1 67.19 148.41M72.62 149.87A112.67 109.71 0 0 1 73.00 149.07M73.55 149.81A111.85 108.91 0 0 1 74.14 148.63M69.64 143.38A118.29 115.18 0 0 1 70.08 142.56M69.93 144.57A117.47 114.38 0 0 1 70.59 143.34M73.39 143.25A115.04 112.02 0 0 1 73.83 142.46M80.05 150.52A105.69 102.91 0 0 1 81.82 147.21M83.28 149.83A103.14 100.42 0 0 1 84.67 147.34M86.85 155.53A97.32 94.76 0 0 1 88.61 152.13M88.80 153.51A96.50 93.96 0 0 1 90.84 149.85M94.37 160.96A88.14 85.82 0 0 1 96.39 156.92M65.80 134.76A125.93 122.62 0 0 1 66.31 133.91M75.29 138.05A116.04 112.99 0 0 1 75.78 137.27M78.13 139.19A113.01 110.04 0 0 1 79.33 137.31M84.86 145.11A104.11 101.37 0 0 1 86.17 143.01M82.44 138.22A109.89 107.00 0 0 1 82.93 137.50M94.93 149.18A93.32 90.87 0 0 1 96.54 146.70M100.29 159.63A83.40 81.20 0 0 1 103.76 153.65M74.70 128.77A121.73 118.53 0 0 1 75.26 127.99M75.74 127.15A121.84 118.64 0 0 1 76.32 126.38M89.46 139.77A103.17 100.46 0 0 1 91.14 137.45M92.34 139.77A100.80 98.15 0 0 1 93.77 137.86M94.19 143.84A96.90 94.36 0 0 1 95.75 141.66M81.43 127.76A116.90 113.82 0 0 1 82.00 127.03M82.31 123.73A118.76 115.64 0 0 1 82.91 123.01M82.35 124.95A117.94 114.84 0 0 1 83.25 123.87M93.96 134.98A102.44 99.75 0 0 1 94.99 133.72M91.02 127.27A109.73 106.84 0 0 1 91.59 126.62M86.81 121.38A116.87 113.80 0 0 1 87.44 120.70M95.66 130.59A103.99 101.25 0 0 1 96.76 129.36M95.48 132.03A103.17 100.45 0 0 1 96.83 130.50M107.16 143.76A86.50 84.23 0 0 1 109.17 141.41M104.68 148.28A85.68 83.43 0 0 1 108.89 142.96M104.96 159.15A79.51 77.42 0 0 1 111.81 149.00M95.69 126.76A106.57 103.76 0 0 1 96.27 126.14M110.29 155.83A76.69 74.67 0 0 1 118.03 146.09M162.05 220.01A27.21 26.50 0 0 1 151.90 181.89M91.98 119.85A114.11 111.11 0 0 1 93.26 118.57M97.92 126.49A105.12 102.35 0 0 1 99.08 125.30M86.37 110.59A124.77 121.49 0 0 1 87.09 109.90M101.40 128.04A101.49 98.82 0 0 1 103.12 126.34M102.56 128.03A100.67 98.02 0 0 1 104.57 126.08M103.43 128.31A99.85 97.22 0 0 1 105.72 126.11M91.09 109.76A122.10 118.89 0 0 1 91.81 109.11M104.30 128.59A99.03 96.42 0 0 1 107.16 125.89M105.44 128.61A98.21 95.62 0 0 1 108.59 125.70M98.31 113.33A114.53 111.52 0 0 1 99.00 112.73M99.20 113.63A113.71 110.72 0 0 1 100.23 112.75M94.86 103.71A124.26 120.99 0 0 1 95.63 103.09M108.56 119.03A103.40 100.68 0 0 1 109.53 118.25M105.85 112.46A110.34 107.44 0 0 1 106.55 111.92M105.68 109.41A112.92 109.95 0 0 1 106.40 108.87M110.01 116.89A104.19 101.45 0 0 1 111.34 115.89M111.14 121.44A99.85 97.22 0 0 1 113.34 119.73M100.83 100.10A123.47 120.22 0 0 1 101.63 99.53M109.21 108.11A111.87 108.93 0 0 1 109.94 107.60M110.84 109.59A109.69 106.81 0 0 1 111.93 108.85M113.30 115.73A103.15 100.43 0 0 1 114.99 114.54M114.79 115.66A102.32 99.63 0 0 1 116.81 114.28M108.94 99.76A119.08 115.95 0 0 1 109.74 99.25M113.36 105.48A111.76 108.82 0 0 1 114.49 104.76M114.52 109.52A107.65 104.82 0 0 1 115.97 108.59M116.09 116.74A100.67 98.02 0 0 1 119.43 114.51M117.88 116.49A99.85 97.22 0 0 1 121.57 114.12M110.44 123.05A99.03 96.42 0 0 1 118.68 116.93M109.77 124.67A98.21 95.62 0 0 1 116.56 119.37M106.30 128.91A97.38 94.82 0 0 1 116.10 120.69M112.70 98.58A118.09 114.98 0 0 1 113.51 98.10M113.23 123.91A96.56 94.02 0 0 1 124.31 116.23M113.47 94.35A121.42 118.22 0 0 1 114.32 93.88M114.48 97.88A117.78 114.69 0 0 1 115.71 97.18M111.55 87.14A128.80 125.41 0 0 1 112.46 86.65M115.72 98.11A116.95 113.87 0 0 1 117.77 96.98M116.94 98.35A116.13 113.07 0 0 1 119.40 97.02M119.93 96.06A116.75 113.68 0 0 1 121.60 95.21M118.91 83.39A128.83 125.44 0 0 1 119.84 82.96M120.91 89.67A122.15 118.93 0 0 1 122.24 89.05M121.68 84.43A126.68 123.35 0 0 1 122.61 84.02M124.19 88.60A121.75 118.55 0 0 1 125.53 88.01M126.15 87.01A122.44 119.22 0 0 1 127.06 86.63M127.92 95.50A113.75 110.76 0 0 1 130.02 94.61M127.74 85.70A123.06 119.83 0 0 1 128.65 85.34M129.19 96.10A112.67 109.71 0 0 1 132.11 94.89M126.35 98.50A111.61 108.68 0 0 1 130.44 96.69M125.10 99.99A110.79 107.88 0 0 1 129.54 97.95M131.08 86.10A121.45 118.26 0 0 1 131.99 85.76M131.12 88.81A118.84 115.71 0 0 1 132.46 88.31M129.47 98.86A109.97 107.08 0 0 1 135.19 96.53M131.60 81.93A125.27 121.98 0 0 1 132.54 81.60M134.09 82.94A123.46 120.21 0 0 1 135.03 82.63M132.96 84.18A122.64 119.41 0 0 1 134.83 83.54M131.15 99.39A108.79 105.93 0 0 1 138.49 96.58M135.21 80.05A125.92 122.61 0 0 1 136.17 79.74M137.33 84.81A120.60 117.43 0 0 1 138.72 84.38M138.04 85.43A119.78 116.63 0 0 1 139.89 84.87M138.61 77.33A127.57 124.22 0 0 1 139.60 77.05M141.46 76.09A128.03 124.66 0 0 1 142.46 75.83M144.84 76.86A126.42 123.10 0 0 1 145.83 76.63M146.75 76.10A126.75 123.42 0 0 1 147.75 75.88M145.88 78.97A124.07 120.81 0 0 1 147.83 78.53M145.75 84.45A118.63 115.52 0 0 1 148.07 83.91M144.57 85.57A117.81 114.72 0 0 1 147.79 84.79M143.41 86.71A116.99 113.92 0 0 1 147.06 85.79M142.28 87.85A116.17 113.12 0 0 1 146.80 86.67M140.87 92.57A111.94 109.00 0 0 1 146.94 90.89M124.97 103.51A107.63 104.80 0 0 1 146.33 95.38M124.08 109.68A102.48 99.79 0 0 1 139.42 102.78M114.35 124.05A95.74 93.22 0 0 1 139.57 109.74M180.81 199.86A7.10 6.92 0 1 1 171.10 190.48" stroke="#c6c6c6" stroke-width="0.42" fill="none"/>
<path d="M174.60 63.30A136.80 133.20 0 0 1 174.60 329.70M174.60 329.70A136.80 133.20 0 0 1 174.58 63.30" stroke="#cecece" stroke-width="3.2"/>
<path d="M140.35 39.61A164.73 160.40 0 0 1 183.65 36.34" stroke="#2B2A88" stroke-width="6.2"/>
<path d="M183.22 36.32A164.73 160.40 0 0 1 186.52 36.52" stroke="#E8601A" stroke-width="6.2"/>
<path d="M186.09 36.49A164.73 160.40 0 0 1 193.39 37.15" stroke="#8E3CA8" stroke-width="6.2"/>
<path d="M192.96 37.10A164.73 160.40 0 0 1 195.39 37.38" stroke="#2B2A88" stroke-width="6.2"/>
<path d="M194.96 37.33A164.73 160.40 0 0 1 196.53 37.53" stroke="#d8c8d8" stroke-width="6.2"/>
<path d="M196.10 37.47A164.73 160.40 0 0 1 198.52 37.80" stroke="#2B2A88" stroke-width="6.2"/>
<path d="M198.10 37.74A164.73 160.40 0 0 1 200.51 38.10" stroke="#D89060" stroke-width="6.2"/>
<path d="M200.09 38.03A164.73 160.40 0 0 1 202.50 38.42" stroke="#2B2A88" stroke-width="6.2"/>
<path d="M202.07 38.35A164.73 160.40 0 0 1 205.33 38.91" stroke="#8E3CA8" stroke-width="6.2"/>
<path d="M204.90 38.84A164.73 160.40 0 0 1 208.71 39.58" stroke="#5A8A70" stroke-width="6.2"/>
<path d="M208.29 39.49A164.73 160.40 0 0 1 212.36 40.37" stroke="#8E3CA8" stroke-width="6.2"/>
<path d="M211.94 40.27A164.73 160.40 0 0 1 214.31 40.83" stroke="#C8D840" stroke-width="6.2"/>
<path d="M213.89 40.73A164.73 160.40 0 0 1 218.48 41.90" stroke="#26A040" stroke-width="6.2"/>
<path d="M218.07 41.78A164.73 160.40 0 0 1 220.14 42.35" stroke="#8A6A3A" stroke-width="6.2"/>
<path d="M219.73 42.24A164.73 160.40 0 0 1 242.00 50.14" stroke="#26A040" stroke-width="6.2"/>
<path d="M241.60 49.97A164.73 160.40 0 0 1 245.13 51.55" stroke="#2B2A88" stroke-width="6.2"/>
<path d="M244.74 51.37A164.73 160.40 0 0 1 247.72 52.77" stroke="#8E3CA8" stroke-width="6.2"/>
<path d="M247.33 52.58A164.73 160.40 0 0 1 249.77 53.77" stroke="#2B2A88" stroke-width="6.2"/>
<path d="M249.39 53.58A164.73 160.40 0 0 1 265.88 62.98" stroke="#26A040" stroke-width="6.2"/>
<path d="M265.52 62.74A164.73 160.40 0 0 1 268.50 64.71" stroke="#A05040" stroke-width="6.2"/>
<path d="M268.14 64.47A164.73 160.40 0 0 1 270.61 66.16" stroke="#26A040" stroke-width="6.2"/>
<path d="M270.26 65.92A164.73 160.40 0 0 1 284.08 76.65" stroke="#2B2A88" stroke-width="6.2"/>
<path d="M283.75 76.37A164.73 160.40 0 0 1 289.34 81.41" stroke="#8E3CA8" stroke-width="6.2"/>
<path d="M289.03 81.12A164.73 160.40 0 0 1 290.57 82.59" stroke="#B090C8" stroke-width="6.2"/>
<path d="M290.27 82.29A164.73 160.40 0 0 1 298.26 90.53" stroke="#8E3CA8" stroke-width="6.2"/>
<path d="M297.98 90.22A164.73 160.40 0 0 1 300.14 92.65" stroke="#F8E000" stroke-width="6.2"/>
<path d="M299.86 92.33A164.73 160.40 0 0 1 302.89 95.88" stroke="#2B2A88" stroke-width="6.2"/>
<path d="M302.62 95.56A164.73 160.40 0 0 1 306.93 100.98" stroke="#8E3CA8" stroke-width="6.2"/>
<path d="M306.68 100.64A164.73 160.40 0 0 1 308.46 103.01" stroke="#F8E000" stroke-width="6.2"/>
<path d="M308.21 102.67A164.73 160.40 0 0 1 310.60 105.99" stroke="#8E3CA8" stroke-width="6.2"/>
<path d="M310.36 105.65A164.73 160.40 0 0 1 317.48 116.66" stroke="#26A040" stroke-width="6.2"/>
<path d="M317.26 116.30A164.73 160.40 0 0 1 320.25 121.57" stroke="#2B2A88" stroke-width="6.2"/>
<path d="M320.05 121.20A164.73 160.40 0 0 1 322.85 126.56" stroke="#8E3CA8" stroke-width="6.2"/>
<path d="M322.66 126.19A164.73 160.40 0 0 1 326.40 134.21" stroke="#2B2A88" stroke-width="6.2"/>
<path d="M326.24 133.83A164.73 160.40 0 0 1 332.26 150.01" stroke="#26A040" stroke-width="6.2"/>
<path d="M332.13 149.60A164.73 160.40 0 0 1 333.83 155.39" stroke="#8E3CA8" stroke-width="6.2"/>
<path d="M333.72 154.99A164.73 160.40 0 0 1 334.54 158.10" stroke="#B03050" stroke-width="6.2"/>
<path d="M334.44 157.70A164.73 160.40 0 0 1 336.39 166.31" stroke="#2B2A88" stroke-width="6.2"/>
<path d="M336.30 165.89A164.73 160.40 0 0 1 337.37 171.82" stroke="#8E3CA8" stroke-width="6.2"/>
<path d="M337.30 171.41A164.73 160.40 0 0 1 337.98 175.98" stroke="#F8E000" stroke-width="6.2"/>
<path d="M337.92 175.56A164.73 160.40 0 0 1 338.74 182.94" stroke="#2B2A88" stroke-width="6.2"/>
<path d="M338.70 182.52A164.73 160.40 0 0 1 339.05 187.13" stroke="#9A7A9A" stroke-width="6.2"/>
<path d="M339.02 186.71A164.73 160.40 0 0 1 339.24 191.32" stroke="#8E3CA8" stroke-width="6.2"/>
<path d="M339.23 190.90A164.73 160.40 0 0 1 339.31 194.12" stroke="#8A2020" stroke-width="6.2"/>
<path d="M339.31 193.70A164.73 160.40 0 0 1 339.33 195.80" stroke="#E0A0A0" stroke-width="6.2"/>
<path d="M339.33 195.38A164.73 160.40 0 0 1 339.33 197.76" stroke="#8A2020" stroke-width="6.2"/>
<path d="M339.33 197.34A164.73 160.40 0 0 1 302.35 297.77" stroke="#EA4918" stroke-width="6.2"/>
<path d="M302.62 297.44A164.73 160.40 0 0 1 299.58 300.99" stroke="#F8E000" stroke-width="6.2"/>
<path d="M299.86 300.67A164.73 160.40 0 0 1 297.69 303.10" stroke="#EA4918" stroke-width="6.2"/>
<path d="M297.98 302.78A164.73 160.40 0 0 1 296.15 304.76" stroke="#8A3010" stroke-width="6.2"/>
<path d="M296.44 304.45A164.73 160.40 0 0 1 175.61 356.90" stroke="#EA4918" stroke-width="6.2"/>
<path d="M176.04 356.89A164.73 160.40 0 0 1 173.59 356.90" stroke="#7A2020" stroke-width="6.2"/>
<path d="M174.02 356.90A164.73 160.40 0 0 1 23.94 261.36" stroke="#EA4918" stroke-width="6.2"/>
<path d="M24.11 261.74A164.73 160.40 0 0 1 23.36 260.07" stroke="#A03020" stroke-width="6.2"/>
<path d="M23.53 260.46A164.73 160.40 0 0 1 10.09 188.25" stroke="#EA4918" stroke-width="6.2"/>
<path d="M10.07 188.66A164.73 160.40 0 0 1 10.30 184.89" stroke="#7A2A70" stroke-width="6.2"/>
<path d="M10.27 185.31A164.73 160.40 0 0 1 140.77 39.52" stroke="#EA4918" stroke-width="6.2"/>
<path d="M142.55 49.68A154.15 150.10 0 0 1 177.69 46.43" stroke="#2B2880" stroke-width="5.8"/>
<path d="M177.29 46.42A154.15 150.10 0 0 1 178.67 46.45" stroke="#A0148C" stroke-width="5.8"/>
<path d="M178.27 46.44A154.15 150.10 0 0 1 179.65 46.48" stroke="#5A4CA8" stroke-width="5.8"/>
<path d="M179.25 46.47A154.15 150.10 0 0 1 180.63 46.51" stroke="#F5961E" stroke-width="5.8"/>
<path d="M180.22 46.50A154.15 150.10 0 0 1 181.61 46.56" stroke="#A0148C" stroke-width="5.8"/>
<path d="M181.20 46.54A154.15 150.10 0 0 1 182.58 46.60" stroke="#5A4CA8" stroke-width="5.8"/>
<path d="M182.18 46.58A154.15 150.10 0 0 1 183.56 46.65" stroke="#E2A0D0" stroke-width="5.8"/>
<path d="M183.16 46.63A154.15 150.10 0 0 1 185.51 46.78" stroke="#F07AAE" stroke-width="5.8"/>
<path d="M185.11 46.75A154.15 150.10 0 0 1 187.46 46.92" stroke="#E2A0D0" stroke-width="5.8"/>
<path d="M187.06 46.89A154.15 150.10 0 0 1 188.44 47.01" stroke="#1E98E0" stroke-width="5.8"/>
<path d="M188.04 46.97A154.15 150.10 0 0 1 189.41 47.09" stroke="#E2A0D0" stroke-width="5.8"/>
<path d="M189.01 47.06A154.15 150.10 0 0 1 190.38 47.19" stroke="#BE0E14" stroke-width="5.8"/>
<path d="M189.98 47.15A154.15 150.10 0 0 1 191.36 47.29" stroke="#E2A0D0" stroke-width="5.8"/>
<path d="M190.96 47.25A154.15 150.10 0 0 1 192.33 47.40" stroke="#2B2880" stroke-width="5.8"/>
<path d="M191.93 47.35A154.15 150.10 0 0 1 193.30 47.51" stroke="#F5961E" stroke-width="5.8"/>
<path d="M192.90 47.46A154.15 150.10 0 0 1 194.27 47.63" stroke="#5A4CA8" stroke-width="5.8"/>
<path d="M193.87 47.58A154.15 150.10 0 0 1 195.24 47.75" stroke="#1E98E0" stroke-width="5.8"/>
<path d="M194.84 47.70A154.15 150.10 0 0 1 196.21 47.88" stroke="#2B2880" stroke-width="5.8"/>
<path d="M195.81 47.83A154.15 150.10 0 0 1 197.18 48.02" stroke="#F5961E" stroke-width="5.8"/>
<path d="M196.78 47.96A154.15 150.10 0 0 1 198.15 48.16" stroke="#5A4CA8" stroke-width="5.8"/>
<path d="M197.75 48.10A154.15 150.10 0 0 1 199.11 48.31" stroke="#1E98E0" stroke-width="5.8"/>
<path d="M198.71 48.25A154.15 150.10 0 0 1 202.01 48.79" stroke="#E08CC4" stroke-width="5.8"/>
<path d="M201.61 48.72A154.15 150.10 0 0 1 203.93 49.14" stroke="#1E98E0" stroke-width="5.8"/>
<path d="M203.53 49.07A154.15 150.10 0 0 1 205.85 49.52" stroke="#BE0E14" stroke-width="5.8"/>
<path d="M205.45 49.44A154.15 150.10 0 0 1 206.81 49.71" stroke="#2B2880" stroke-width="5.8"/>
<path d="M206.41 49.63A154.15 150.10 0 0 1 207.76 49.91" stroke="#F5961E" stroke-width="5.8"/>
<path d="M207.37 49.83A154.15 150.10 0 0 1 209.67 50.34" stroke="#A0148C" stroke-width="5.8"/>
<path d="M209.28 50.25A154.15 150.10 0 0 1 210.60 50.55" stroke="#1A9A58" stroke-width="5.8"/>
<path d="M210.21 50.46A154.15 150.10 0 0 1 220.79 53.30" stroke="#18955E" stroke-width="5.8"/>
<path d="M220.40 53.18A154.15 150.10 0 0 1 226.26 55.08" stroke="#1E9A4C" stroke-width="5.8"/>
<path d="M225.88 54.95A154.15 150.10 0 0 1 240.46 60.79" stroke="#1A9A58" stroke-width="5.8"/>
<path d="M240.10 60.62A154.15 150.10 0 0 1 245.63 63.28" stroke="#1E9A4C" stroke-width="5.8"/>
<path d="M245.27 63.10A154.15 150.10 0 0 1 251.53 66.43" stroke="#2B2880" stroke-width="5.8"/>
<path d="M251.18 66.23A154.15 150.10 0 0 1 253.19 67.37" stroke="#18955E" stroke-width="5.8"/>
<path d="M252.84 67.17A154.15 150.10 0 0 1 257.28 69.82" stroke="#1E9A4C" stroke-width="5.8"/>
<path d="M256.94 69.61A154.15 150.10 0 0 1 258.90 70.83" stroke="#1A9A58" stroke-width="5.8"/>
<path d="M258.56 70.62A154.15 150.10 0 0 1 259.71 71.35" stroke="#A0148C" stroke-width="5.8"/>
<path d="M259.37 71.13A154.15 150.10 0 0 1 260.51 71.87" stroke="#2B2880" stroke-width="5.8"/>
<path d="M260.18 71.65A154.15 150.10 0 0 1 261.31 72.40" stroke="#BE0E14" stroke-width="5.8"/>
<path d="M260.98 72.18A154.15 150.10 0 0 1 262.91 73.47" stroke="#A0148C" stroke-width="5.8"/>
<path d="M262.58 73.25A154.15 150.10 0 0 1 263.70 74.01" stroke="#1AA088" stroke-width="5.8"/>
<path d="M263.37 73.79A154.15 150.10 0 0 1 266.06 75.67" stroke="#6A2A96" stroke-width="5.8"/>
<path d="M265.73 75.44A154.15 150.10 0 0 1 269.91 78.53" stroke="#A0148C" stroke-width="5.8"/>
<path d="M269.59 78.28A154.15 150.10 0 0 1 270.67 79.11" stroke="#1AA088" stroke-width="5.8"/>
<path d="M270.35 78.87A154.15 150.10 0 0 1 271.42 79.70" stroke="#18955E" stroke-width="5.8"/>
<path d="M271.11 79.46A154.15 150.10 0 0 1 272.17 80.30" stroke="#1AA088" stroke-width="5.8"/>
<path d="M271.86 80.05A154.15 150.10 0 0 1 275.14 82.72" stroke="#2B2880" stroke-width="5.8"/>
<path d="M274.84 82.47A154.15 150.10 0 0 1 275.88 83.34" stroke="#18955E" stroke-width="5.8"/>
<path d="M275.57 83.08A154.15 150.10 0 0 1 276.60 83.96" stroke="#BE0E14" stroke-width="5.8"/>
<path d="M276.30 83.70A154.15 150.10 0 0 1 278.05 85.22" stroke="#6A2A96" stroke-width="5.8"/>
<path d="M277.75 84.95A154.15 150.10 0 0 1 278.76 85.85" stroke="#18955E" stroke-width="5.8"/>
<path d="M278.47 85.59A154.15 150.10 0 0 1 279.48 86.49" stroke="#6A2A96" stroke-width="5.8"/>
<path d="M279.18 86.22A154.15 150.10 0 0 1 280.18 87.14" stroke="#2B2880" stroke-width="5.8"/>
<path d="M279.89 86.87A154.15 150.10 0 0 1 280.89 87.78" stroke="#A0148C" stroke-width="5.8"/>
<path d="M280.59 87.51A154.15 150.10 0 0 1 281.59 88.44" stroke="#1AA088" stroke-width="5.8"/>
<path d="M281.30 88.16A154.15 150.10 0 0 1 282.28 89.09" stroke="#F07AAE" stroke-width="5.8"/>
<path d="M281.99 88.82A154.15 150.10 0 0 1 286.36 93.12" stroke="#6A2A96" stroke-width="5.8"/>
<path d="M286.08 92.84A154.15 150.10 0 0 1 287.03 93.81" stroke="#1AA088" stroke-width="5.8"/>
<path d="M286.75 93.52A154.15 150.10 0 0 1 287.69 94.50" stroke="#A0148C" stroke-width="5.8"/>
<path d="M287.41 94.21A154.15 150.10 0 0 1 289.00 95.89" stroke="#2B2880" stroke-width="5.8"/>
<path d="M288.72 95.60A154.15 150.10 0 0 1 289.64 96.59" stroke="#F8D400" stroke-width="5.8"/>
<path d="M289.37 96.30A154.15 150.10 0 0 1 290.29 97.30" stroke="#18955E" stroke-width="5.8"/>
<path d="M290.02 97.00A154.15 150.10 0 0 1 290.92 98.01" stroke="#8A3294" stroke-width="5.8"/>
<path d="M290.66 97.71A154.15 150.10 0 0 1 292.81 100.16" stroke="#2B2880" stroke-width="5.8"/>
<path d="M292.55 99.86A154.15 150.10 0 0 1 293.43 100.88" stroke="#A0148C" stroke-width="5.8"/>
<path d="M293.17 100.58A154.15 150.10 0 0 1 294.04 101.61" stroke="#2B2880" stroke-width="5.8"/>
<path d="M293.79 101.31A154.15 150.10 0 0 1 294.65 102.34" stroke="#A0148C" stroke-width="5.8"/>
<path d="M294.40 102.04A154.15 150.10 0 0 1 295.26 103.08" stroke="#F5961E" stroke-width="5.8"/>
<path d="M295.01 102.77A154.15 150.10 0 0 1 295.86 103.82" stroke="#F07AAE" stroke-width="5.8"/>
<path d="M295.61 103.51A154.15 150.10 0 0 1 297.63 106.06" stroke="#BE0E14" stroke-width="5.8"/>
<path d="M297.39 105.75A154.15 150.10 0 0 1 299.36 108.34" stroke="#2B2880" stroke-width="5.8"/>
<path d="M299.12 108.02A154.15 150.10 0 0 1 299.93 109.10" stroke="#6A2A96" stroke-width="5.8"/>
<path d="M299.69 108.78A154.15 150.10 0 0 1 300.49 109.87" stroke="#A0148C" stroke-width="5.8"/>
<path d="M300.25 109.55A154.15 150.10 0 0 1 301.04 110.64" stroke="#BE0E14" stroke-width="5.8"/>
<path d="M300.81 110.32A154.15 150.10 0 0 1 301.60 111.42" stroke="#5A4CA8" stroke-width="5.8"/>
<path d="M301.37 111.09A154.15 150.10 0 0 1 302.68 112.98" stroke="#2B2880" stroke-width="5.8"/>
<path d="M302.46 112.65A154.15 150.10 0 0 1 303.22 113.76" stroke="#BE0E14" stroke-width="5.8"/>
<path d="M303.00 113.44A154.15 150.10 0 0 1 303.75 114.55" stroke="#6A2A96" stroke-width="5.8"/>
<path d="M303.53 114.22A154.15 150.10 0 0 1 304.80 116.14" stroke="#BE0E14" stroke-width="5.8"/>
<path d="M304.58 115.81A154.15 150.10 0 0 1 305.31 116.94" stroke="#6A2A96" stroke-width="5.8"/>
<path d="M305.10 116.60A154.15 150.10 0 0 1 305.83 117.74" stroke="#BE0E14" stroke-width="5.8"/>
<path d="M305.61 117.40A154.15 150.10 0 0 1 306.33 118.54" stroke="#1AA088" stroke-width="5.8"/>
<path d="M306.12 118.21A154.15 150.10 0 0 1 306.83 119.35" stroke="#18955E" stroke-width="5.8"/>
<path d="M306.62 119.01A154.15 150.10 0 0 1 307.33 120.16" stroke="#A0148C" stroke-width="5.8"/>
<path d="M307.12 119.82A154.15 150.10 0 0 1 307.82 120.97" stroke="#1AA088" stroke-width="5.8"/>
<path d="M307.61 120.63A154.15 150.10 0 0 1 308.30 121.79" stroke="#2B2880" stroke-width="5.8"/>
<path d="M308.10 121.45A154.15 150.10 0 0 1 310.19 125.10" stroke="#18955E" stroke-width="5.8"/>
<path d="M310.00 124.75A154.15 150.10 0 0 1 310.65 125.93" stroke="#6A2A96" stroke-width="5.8"/>
<path d="M310.46 125.59A154.15 150.10 0 0 1 311.11 126.77" stroke="#18955E" stroke-width="5.8"/>
<path d="M310.92 126.42A154.15 150.10 0 0 1 312.00 128.45" stroke="#1AA088" stroke-width="5.8"/>
<path d="M311.82 128.10A154.15 150.10 0 0 1 312.87 130.15" stroke="#A0148C" stroke-width="5.8"/>
<path d="M312.69 129.79A154.15 150.10 0 0 1 313.30 131.00" stroke="#2B2880" stroke-width="5.8"/>
<path d="M313.12 130.64A154.15 150.10 0 0 1 313.72 131.85" stroke="#A0148C" stroke-width="5.8"/>
<path d="M313.55 131.50A154.15 150.10 0 0 1 314.14 132.71" stroke="#18955E" stroke-width="5.8"/>
<path d="M313.97 132.35A154.15 150.10 0 0 1 314.55 133.56" stroke="#5A4CA8" stroke-width="5.8"/>
<path d="M314.38 133.21A154.15 150.10 0 0 1 314.95 134.43" stroke="#1A9A58" stroke-width="5.8"/>
<path d="M314.79 134.07A154.15 150.10 0 0 1 315.75 136.15" stroke="#1AA088" stroke-width="5.8"/>
<path d="M315.58 135.80A154.15 150.10 0 0 1 316.52 137.89" stroke="#5A4CA8" stroke-width="5.8"/>
<path d="M316.36 137.53A154.15 150.10 0 0 1 316.89 138.77" stroke="#1E98E0" stroke-width="5.8"/>
<path d="M316.74 138.40A154.15 150.10 0 0 1 317.26 139.64" stroke="#18955E" stroke-width="5.8"/>
<path d="M317.11 139.28A154.15 150.10 0 0 1 317.63 140.52" stroke="#6A2A96" stroke-width="5.8"/>
<path d="M317.48 140.15A154.15 150.10 0 0 1 318.69 143.16" stroke="#18955E" stroke-width="5.8"/>
<path d="M318.55 142.80A154.15 150.10 0 0 1 319.37 144.94" stroke="#2B2880" stroke-width="5.8"/>
<path d="M319.23 144.57A154.15 150.10 0 0 1 319.70 145.83" stroke="#F8CC10" stroke-width="5.8"/>
<path d="M319.57 145.46A154.15 150.10 0 0 1 320.35 147.62" stroke="#2B2880" stroke-width="5.8"/>
<path d="M320.22 147.24A154.15 150.10 0 0 1 320.66 148.51" stroke="#1E98E0" stroke-width="5.8"/>
<path d="M320.53 148.14A154.15 150.10 0 0 1 321.27 150.31" stroke="#18955E" stroke-width="5.8"/>
<path d="M321.15 149.94A154.15 150.10 0 0 1 321.86 152.12" stroke="#5A4CA8" stroke-width="5.8"/>
<path d="M321.74 151.74A154.15 150.10 0 0 1 322.14 153.02" stroke="#1AA088" stroke-width="5.8"/>
<path d="M322.03 152.65A154.15 150.10 0 0 1 322.70 154.84" stroke="#18955E" stroke-width="5.8"/>
<path d="M322.58 154.46A154.15 150.10 0 0 1 323.22 156.66" stroke="#5A4CA8" stroke-width="5.8"/>
<path d="M323.12 156.28A154.15 150.10 0 0 1 323.73 158.49" stroke="#2B2880" stroke-width="5.8"/>
<path d="M323.63 158.11A154.15 150.10 0 0 1 324.88 163.09" stroke="#1A9A58" stroke-width="5.8"/>
<path d="M324.79 162.70A154.15 150.10 0 0 1 325.31 164.94" stroke="#2B2880" stroke-width="5.8"/>
<path d="M325.22 164.55A154.15 150.10 0 0 1 325.51 165.86" stroke="#1A9A58" stroke-width="5.8"/>
<path d="M325.42 165.48A154.15 150.10 0 0 1 326.08 168.65" stroke="#18955E" stroke-width="5.8"/>
<path d="M326.00 168.26A154.15 150.10 0 0 1 326.42 170.51" stroke="#5A4CA8" stroke-width="5.8"/>
<path d="M326.35 170.12A154.15 150.10 0 0 1 326.75 172.38" stroke="#F8CC10" stroke-width="5.8"/>
<path d="M326.68 171.99A154.15 150.10 0 0 1 326.90 173.31" stroke="#5A4CA8" stroke-width="5.8"/>
<path d="M326.84 172.93A154.15 150.10 0 0 1 327.05 174.25" stroke="#BE0E14" stroke-width="5.8"/>
<path d="M326.99 173.86A154.15 150.10 0 0 1 327.19 175.19" stroke="#5A4CA8" stroke-width="5.8"/>
<path d="M327.13 174.80A154.15 150.10 0 0 1 327.33 176.12" stroke="#A0148C" stroke-width="5.8"/>
<path d="M327.27 175.74A154.15 150.10 0 0 1 327.45 177.06" stroke="#BE0E14" stroke-width="5.8"/>
<path d="M327.40 176.67A154.15 150.10 0 0 1 327.58 178.00" stroke="#1AA088" stroke-width="5.8"/>
<path d="M327.53 177.61A154.15 150.10 0 0 1 328.27 184.60" stroke="#2B2880" stroke-width="5.8"/>
<path d="M328.23 184.20A154.15 150.10 0 0 1 328.34 185.54" stroke="#BE0E14" stroke-width="5.8"/>
<path d="M328.31 185.15A154.15 150.10 0 0 1 328.47 187.43" stroke="#2B2880" stroke-width="5.8"/>
<path d="M328.45 187.04A154.15 150.10 0 0 1 328.58 189.32" stroke="#5A4CA8" stroke-width="5.8"/>
<path d="M328.56 188.93A154.15 150.10 0 0 1 328.62 190.27" stroke="#2B2880" stroke-width="5.8"/>
<path d="M328.60 189.87A154.15 150.10 0 0 1 328.66 191.21" stroke="#A0148C" stroke-width="5.8"/>
<path d="M328.64 190.82A154.15 150.10 0 0 1 328.69 192.16" stroke="#1A9A58" stroke-width="5.8"/>
<path d="M328.68 191.77A154.15 150.10 0 0 1 328.71 193.11" stroke="#2B2880" stroke-width="5.8"/>
<path d="M328.70 192.71A154.15 150.10 0 0 1 328.73 194.05" stroke="#18955E" stroke-width="5.8"/>
<path d="M328.73 193.66A154.15 150.10 0 0 1 328.74 195.00" stroke="#5A4CA8" stroke-width="5.8"/>
<path d="M328.74 194.61A154.15 150.10 0 0 1 328.75 195.95" stroke="#1A9A58" stroke-width="5.8"/>
<path d="M328.75 195.55A154.15 150.10 0 0 1 328.75 196.89" stroke="#18955E" stroke-width="5.8"/>
<path d="M328.75 196.50A154.15 150.10 0 0 1 328.66 201.61" stroke="#E8471C" stroke-width="5.8"/>
<path d="M328.68 201.21A154.15 150.10 0 0 1 328.63 202.55" stroke="#F07AAE" stroke-width="5.8"/>
<path d="M328.64 202.16A154.15 150.10 0 0 1 328.59 203.49" stroke="#E85A10" stroke-width="5.8"/>
<path d="M328.60 203.10A154.15 150.10 0 0 1 328.54 204.43" stroke="#BE0E14" stroke-width="5.8"/>
<path d="M328.56 204.04A154.15 150.10 0 0 1 328.48 205.38" stroke="#F07AAE" stroke-width="5.8"/>
<path d="M328.51 204.98A154.15 150.10 0 0 1 328.42 206.32" stroke="#E8471C" stroke-width="5.8"/>
<path d="M328.45 205.92A154.15 150.10 0 0 1 328.28 208.20" stroke="#E85A10" stroke-width="5.8"/>
<path d="M328.31 207.81A154.15 150.10 0 0 1 328.21 209.14" stroke="#BE0E14" stroke-width="5.8"/>
<path d="M328.24 208.75A154.15 150.10 0 0 1 328.12 210.08" stroke="#E85A10" stroke-width="5.8"/>
<path d="M328.16 209.69A154.15 150.10 0 0 1 328.03 211.02" stroke="#E8471C" stroke-width="5.8"/>
<path d="M328.07 210.63A154.15 150.10 0 0 1 327.93 211.96" stroke="#F07AAE" stroke-width="5.8"/>
<path d="M327.97 211.56A154.15 150.10 0 0 1 327.83 212.89" stroke="#F8C8D4" stroke-width="5.8"/>
<path d="M327.87 212.50A154.15 150.10 0 0 1 327.72 213.83" stroke="#F07AAE" stroke-width="5.8"/>
<path d="M327.77 213.44A154.15 150.10 0 0 1 327.61 214.77" stroke="#E85A10" stroke-width="5.8"/>
<path d="M327.66 214.38A154.15 150.10 0 0 1 327.09 218.50" stroke="#E8471C" stroke-width="5.8"/>
<path d="M327.15 218.12A154.15 150.10 0 0 1 326.47 222.23" stroke="#F07AAE" stroke-width="5.8"/>
<path d="M326.54 221.84A154.15 150.10 0 0 1 326.30 223.16" stroke="#F8C8D4" stroke-width="5.8"/>
<path d="M326.37 222.77A154.15 150.10 0 0 1 326.13 224.09" stroke="#F07AAE" stroke-width="5.8"/>
<path d="M326.20 223.70A154.15 150.10 0 0 1 325.16 228.71" stroke="#E8471C" stroke-width="5.8"/>
<path d="M325.25 228.32A154.15 150.10 0 0 1 324.95 229.63" stroke="#E08CC4" stroke-width="5.8"/>
<path d="M325.04 229.24A154.15 150.10 0 0 1 324.73 230.55" stroke="#F07AAE" stroke-width="5.8"/>
<path d="M324.83 230.16A154.15 150.10 0 0 1 324.51 231.46" stroke="#E85A10" stroke-width="5.8"/>
<path d="M324.61 231.08A154.15 150.10 0 0 1 324.28 232.38" stroke="#F07AAE" stroke-width="5.8"/>
<path d="M324.38 232.00A154.15 150.10 0 0 1 322.52 238.75" stroke="#E8471C" stroke-width="5.8"/>
<path d="M322.63 238.38A154.15 150.10 0 0 1 322.24 239.66" stroke="#E85A10" stroke-width="5.8"/>
<path d="M322.36 239.28A154.15 150.10 0 0 1 321.96 240.56" stroke="#E8471C" stroke-width="5.8"/>
<path d="M322.08 240.18A154.15 150.10 0 0 1 321.67 241.46" stroke="#F07AAE" stroke-width="5.8"/>
<path d="M321.79 241.09A154.15 150.10 0 0 1 321.08 243.26" stroke="#E8471C" stroke-width="5.8"/>
<path d="M321.21 242.88A154.15 150.10 0 0 1 320.47 245.05" stroke="#F8CC10" stroke-width="5.8"/>
<path d="M320.60 244.67A154.15 150.10 0 0 1 320.15 245.94" stroke="#F8C8D4" stroke-width="5.8"/>
<path d="M320.28 245.57A154.15 150.10 0 0 1 319.17 248.60" stroke="#F07AAE" stroke-width="5.8"/>
<path d="M319.31 248.23A154.15 150.10 0 0 1 318.48 250.36" stroke="#E8471C" stroke-width="5.8"/>
<path d="M318.63 250.00A154.15 150.10 0 0 1 317.78 252.12" stroke="#E08CC4" stroke-width="5.8"/>
<path d="M317.93 251.76A154.15 150.10 0 0 1 317.42 253.00" stroke="#F07AAE" stroke-width="5.8"/>
<path d="M317.57 252.63A154.15 150.10 0 0 1 316.68 254.74" stroke="#E85A10" stroke-width="5.8"/>
<path d="M316.83 254.38A154.15 150.10 0 0 1 315.13 258.20" stroke="#F07AAE" stroke-width="5.8"/>
<path d="M315.29 257.84A154.15 150.10 0 0 1 313.91 260.76" stroke="#E8471C" stroke-width="5.8"/>
<path d="M314.08 260.41A154.15 150.10 0 0 1 313.07 262.46" stroke="#F8C8D4" stroke-width="5.8"/>
<path d="M313.25 262.11A154.15 150.10 0 0 1 312.64 263.31" stroke="#E85A10" stroke-width="5.8"/>
<path d="M312.82 262.96A154.15 150.10 0 0 1 312.21 264.15" stroke="#E8471C" stroke-width="5.8"/>
<path d="M312.39 263.80A154.15 150.10 0 0 1 309.49 269.16" stroke="#F07AAE" stroke-width="5.8"/>
<path d="M309.69 268.81A154.15 150.10 0 0 1 307.57 272.43" stroke="#E8471C" stroke-width="5.8"/>
<path d="M307.78 272.09A154.15 150.10 0 0 1 307.08 273.25" stroke="#E08CC4" stroke-width="5.8"/>
<path d="M307.29 272.91A154.15 150.10 0 0 1 306.58 274.05" stroke="#F8C8D4" stroke-width="5.8"/>
<path d="M306.79 273.72A154.15 150.10 0 0 1 306.08 274.86" stroke="#F8CC10" stroke-width="5.8"/>
<path d="M306.29 274.52A154.15 150.10 0 0 1 305.57 275.66" stroke="#F07AAE" stroke-width="5.8"/>
<path d="M305.78 275.33A154.15 150.10 0 0 1 305.06 276.46" stroke="#E8471C" stroke-width="5.8"/>
<path d="M305.27 276.13A154.15 150.10 0 0 1 304.54 277.26" stroke="#F07AAE" stroke-width="5.8"/>
<path d="M304.76 276.93A154.15 150.10 0 0 1 304.02 278.05" stroke="#E85A10" stroke-width="5.8"/>
<path d="M304.23 277.72A154.15 150.10 0 0 1 302.95 279.63" stroke="#E8471C" stroke-width="5.8"/>
<path d="M303.18 279.30A154.15 150.10 0 0 1 302.41 280.41" stroke="#F07AAE" stroke-width="5.8"/>
<path d="M302.64 280.09A154.15 150.10 0 0 1 301.87 281.19" stroke="#F8C8D4" stroke-width="5.8"/>
<path d="M302.10 280.87A154.15 150.10 0 0 1 300.77 282.74" stroke="#E8471C" stroke-width="5.8"/>
<path d="M301.00 282.42A154.15 150.10 0 0 1 297.34 287.31" stroke="#F07AAE" stroke-width="5.8"/>
<path d="M297.58 287.00A154.15 150.10 0 0 1 296.75 288.06" stroke="#E08CC4" stroke-width="5.8"/>
<path d="M297.00 287.75A154.15 150.10 0 0 1 293.12 292.48" stroke="#E8471C" stroke-width="5.8"/>
<path d="M293.38 292.18A154.15 150.10 0 0 1 292.50 293.20" stroke="#BE0E14" stroke-width="5.8"/>
<path d="M292.76 292.90A154.15 150.10 0 0 1 289.32 296.76" stroke="#F07AAE" stroke-width="5.8"/>
<path d="M289.59 296.47A154.15 150.10 0 0 1 288.67 297.46" stroke="#E8471C" stroke-width="5.8"/>
<path d="M288.94 297.17A154.15 150.10 0 0 1 288.02 298.16" stroke="#F07AAE" stroke-width="5.8"/>
<path d="M288.29 297.87A154.15 150.10 0 0 1 286.03 300.22" stroke="#E8471C" stroke-width="5.8"/>
<path d="M286.31 299.94A154.15 150.10 0 0 1 285.36 300.90" stroke="#F07AAE" stroke-width="5.8"/>
<path d="M285.64 300.62A154.15 150.10 0 0 1 284.68 301.58" stroke="#F8C8D4" stroke-width="5.8"/>
<path d="M284.96 301.29A154.15 150.10 0 0 1 283.32 302.91" stroke="#E8471C" stroke-width="5.8"/>
<path d="M283.60 302.64A154.15 150.10 0 0 1 282.63 303.57" stroke="#F8A000" stroke-width="5.8"/>
<path d="M282.92 303.30A154.15 150.10 0 0 1 281.95 304.23" stroke="#F07AAE" stroke-width="5.8"/>
<path d="M282.24 303.95A154.15 150.10 0 0 1 281.25 304.88" stroke="#E8471C" stroke-width="5.8"/>
<path d="M281.55 304.60A154.15 150.10 0 0 1 280.56 305.52" stroke="#F8C8D4" stroke-width="5.8"/>
<path d="M280.85 305.25A154.15 150.10 0 0 1 279.86 306.16" stroke="#F8CC10" stroke-width="5.8"/>
<path d="M280.15 305.89A154.15 150.10 0 0 1 277.73 308.06" stroke="#E8471C" stroke-width="5.8"/>
<path d="M278.03 307.80A154.15 150.10 0 0 1 277.02 308.68" stroke="#F07AAE" stroke-width="5.8"/>
<path d="M277.32 308.42A154.15 150.10 0 0 1 275.57 309.92" stroke="#F8A000" stroke-width="5.8"/>
<path d="M275.88 309.66A154.15 150.10 0 0 1 274.11 311.13" stroke="#F07AAE" stroke-width="5.8"/>
<path d="M274.42 310.88A154.15 150.10 0 0 1 273.38 311.74" stroke="#E8471C" stroke-width="5.8"/>
<path d="M273.69 311.48A154.15 150.10 0 0 1 272.64 312.33" stroke="#F07AAE" stroke-width="5.8"/>
<path d="M272.95 312.08A154.15 150.10 0 0 1 271.15 313.51" stroke="#E8471C" stroke-width="5.8"/>
<path d="M271.46 313.27A154.15 150.10 0 0 1 268.12 315.82" stroke="#F07AAE" stroke-width="5.8"/>
<path d="M268.44 315.58A154.15 150.10 0 0 1 266.59 316.95" stroke="#E8471C" stroke-width="5.8"/>
<path d="M266.91 316.71A154.15 150.10 0 0 1 262.69 319.68" stroke="#F07AAE" stroke-width="5.8"/>
<path d="M263.02 319.45A154.15 150.10 0 0 1 261.90 320.21" stroke="#F8A000" stroke-width="5.8"/>
<path d="M262.23 319.99A154.15 150.10 0 0 1 261.10 320.74" stroke="#E8471C" stroke-width="5.8"/>
<path d="M261.44 320.52A154.15 150.10 0 0 1 260.31 321.26" stroke="#F07AAE" stroke-width="5.8"/>
<path d="M260.64 321.04A154.15 150.10 0 0 1 259.51 321.78" stroke="#F5961E" stroke-width="5.8"/>
<path d="M259.84 321.56A154.15 150.10 0 0 1 257.09 323.30" stroke="#F8C8D4" stroke-width="5.8"/>
<path d="M257.43 323.09A154.15 150.10 0 0 1 256.27 323.80" stroke="#F5961E" stroke-width="5.8"/>
<path d="M256.61 323.59A154.15 150.10 0 0 1 255.46 324.30" stroke="#E8471C" stroke-width="5.8"/>
<path d="M255.80 324.09A154.15 150.10 0 0 1 254.64 324.78" stroke="#F8A000" stroke-width="5.8"/>
<path d="M254.98 324.58A154.15 150.10 0 0 1 253.81 325.27" stroke="#E8471C" stroke-width="5.8"/>
<path d="M254.16 325.06A154.15 150.10 0 0 1 252.99 325.74" stroke="#F5961E" stroke-width="5.8"/>
<path d="M253.33 325.54A154.15 150.10 0 0 1 251.33 326.69" stroke="#E8471C" stroke-width="5.8"/>
<path d="M251.68 326.49A154.15 150.10 0 0 1 250.49 327.15" stroke="#F8C8D4" stroke-width="5.8"/>
<path d="M250.84 326.96A154.15 150.10 0 0 1 249.65 327.61" stroke="#E85A10" stroke-width="5.8"/>
<path d="M250.00 327.42A154.15 150.10 0 0 1 247.96 328.52" stroke="#F07AAE" stroke-width="5.8"/>
<path d="M248.31 328.33A154.15 150.10 0 0 1 247.11 328.96" stroke="#F8C8D4" stroke-width="5.8"/>
<path d="M247.46 328.77A154.15 150.10 0 0 1 242.82 331.10" stroke="#F07AAE" stroke-width="5.8"/>
<path d="M243.18 330.93A154.15 150.10 0 0 1 241.95 331.52" stroke="#E08CC4" stroke-width="5.8"/>
<path d="M242.31 331.34A154.15 150.10 0 0 1 241.08 331.92" stroke="#F8C8D4" stroke-width="5.8"/>
<path d="M241.45 331.75A154.15 150.10 0 0 1 240.21 332.33" stroke="#E85A10" stroke-width="5.8"/>
<path d="M240.57 332.16A154.15 150.10 0 0 1 239.34 332.72" stroke="#F07AAE" stroke-width="5.8"/>
<path d="M239.70 332.56A154.15 150.10 0 0 1 237.58 333.50" stroke="#F8C8D4" stroke-width="5.8"/>
<path d="M237.95 333.34A154.15 150.10 0 0 1 233.15 335.35" stroke="#F07AAE" stroke-width="5.8"/>
<path d="M233.52 335.20A154.15 150.10 0 0 1 231.36 336.05" stroke="#E85A10" stroke-width="5.8"/>
<path d="M231.73 335.91A154.15 150.10 0 0 1 230.46 336.40" stroke="#F07AAE" stroke-width="5.8"/>
<path d="M230.84 336.26A154.15 150.10 0 0 1 229.56 336.74" stroke="#F5961E" stroke-width="5.8"/>
<path d="M229.94 336.59A154.15 150.10 0 0 1 227.75 337.39" stroke="#E8471C" stroke-width="5.8"/>
<path d="M228.13 337.26A154.15 150.10 0 0 1 225.94 338.03" stroke="#F07AAE" stroke-width="5.8"/>
<path d="M226.32 337.90A154.15 150.10 0 0 1 224.12 338.65" stroke="#E08CC4" stroke-width="5.8"/>
<path d="M224.50 338.52A154.15 150.10 0 0 1 223.20 338.94" stroke="#F5961E" stroke-width="5.8"/>
<path d="M223.59 338.82A154.15 150.10 0 0 1 219.53 340.08" stroke="#F07AAE" stroke-width="5.8"/>
<path d="M219.91 339.97A154.15 150.10 0 0 1 218.60 340.35" stroke="#E08CC4" stroke-width="5.8"/>
<path d="M218.99 340.24A154.15 150.10 0 0 1 217.68 340.62" stroke="#F07AAE" stroke-width="5.8"/>
<path d="M218.07 340.51A154.15 150.10 0 0 1 215.82 341.13" stroke="#E8471C" stroke-width="5.8"/>
<path d="M216.21 341.03A154.15 150.10 0 0 1 213.03 341.86" stroke="#F07AAE" stroke-width="5.8"/>
<path d="M213.42 341.76A154.15 150.10 0 0 1 212.09 342.09" stroke="#E08CC4" stroke-width="5.8"/>
<path d="M212.48 342.00A154.15 150.10 0 0 1 208.34 342.96" stroke="#E85A10" stroke-width="5.8"/>
<path d="M208.73 342.87A154.15 150.10 0 0 1 205.51 343.55" stroke="#E8471C" stroke-width="5.8"/>
<path d="M205.90 343.47A154.15 150.10 0 0 1 204.56 343.74" stroke="#F07AAE" stroke-width="5.8"/>
<path d="M204.96 343.66A154.15 150.10 0 0 1 203.62 343.92" stroke="#F8C8D4" stroke-width="5.8"/>
<path d="M204.01 343.84A154.15 150.10 0 0 1 179.58 346.52" stroke="#F5961E" stroke-width="5.8"/>
<path d="M179.98 346.51A154.15 150.10 0 0 1 178.60 346.55" stroke="#E8471C" stroke-width="5.8"/>
<path d="M179.00 346.54A154.15 150.10 0 0 1 177.62 346.57" stroke="#F8C8D4" stroke-width="5.8"/>
<path d="M178.02 346.56A154.15 150.10 0 0 1 170.77 346.55" stroke="#F07AAE" stroke-width="5.8"/>
<path d="M171.18 346.56A154.15 150.10 0 0 1 165.89 346.36" stroke="#E8471C" stroke-width="5.8"/>
<path d="M166.29 346.38A154.15 150.10 0 0 1 164.91 346.30" stroke="#F07AAE" stroke-width="5.8"/>
<path d="M165.31 346.33A154.15 150.10 0 0 1 163.93 346.24" stroke="#F8C8D4" stroke-width="5.8"/>
<path d="M164.33 346.27A154.15 150.10 0 0 1 161.98 346.10" stroke="#BE0E14" stroke-width="5.8"/>
<path d="M162.38 346.13A154.15 150.10 0 0 1 160.03 345.93" stroke="#F07AAE" stroke-width="5.8"/>
<path d="M160.43 345.96A154.15 150.10 0 0 1 159.06 345.84" stroke="#E8471C" stroke-width="5.8"/>
<path d="M159.46 345.87A154.15 150.10 0 0 1 158.09 345.74" stroke="#F07AAE" stroke-width="5.8"/>
<path d="M158.49 345.78A154.15 150.10 0 0 1 156.14 345.52" stroke="#E8471C" stroke-width="5.8"/>
<path d="M156.54 345.57A154.15 150.10 0 0 1 154.20 345.28" stroke="#BE0E14" stroke-width="5.8"/>
<path d="M154.60 345.33A154.15 150.10 0 0 1 152.26 345.02" stroke="#E8471C" stroke-width="5.8"/>
<path d="M152.66 345.07A154.15 150.10 0 0 1 149.36 344.57" stroke="#F07AAE" stroke-width="5.8"/>
<path d="M149.76 344.64A154.15 150.10 0 0 1 144.55 343.72" stroke="#E8471C" stroke-width="5.8"/>
<path d="M144.95 343.80A154.15 150.10 0 0 1 143.59 343.53" stroke="#F07AAE" stroke-width="5.8"/>
<path d="M143.99 343.61A154.15 150.10 0 0 1 139.77 342.72" stroke="#E8471C" stroke-width="5.8"/>
<path d="M140.16 342.81A154.15 150.10 0 0 1 137.87 342.28" stroke="#F07AAE" stroke-width="5.8"/>
<path d="M138.26 342.37A154.15 150.10 0 0 1 136.92 342.05" stroke="#E8471C" stroke-width="5.8"/>
<path d="M137.31 342.14A154.15 150.10 0 0 1 131.25 340.54" stroke="#F5961E" stroke-width="5.8"/>
<path d="M131.64 340.65A154.15 150.10 0 0 1 125.65 338.83" stroke="#F8A000" stroke-width="5.8"/>
<path d="M126.03 338.96A154.15 150.10 0 0 1 107.54 331.65" stroke="#F5961E" stroke-width="5.8"/>
<path d="M107.90 331.82A154.15 150.10 0 0 1 106.66 331.24" stroke="#F8A000" stroke-width="5.8"/>
<path d="M107.02 331.41A154.15 150.10 0 0 1 104.92 330.39" stroke="#F8A000" stroke-width="5.8"/>
<path d="M105.29 330.57A154.15 150.10 0 0 1 104.06 329.96" stroke="#F5961E" stroke-width="5.8"/>
<path d="M104.42 330.14A154.15 150.10 0 0 1 103.20 329.53" stroke="#E8471C" stroke-width="5.8"/>
<path d="M103.56 329.71A154.15 150.10 0 0 1 100.63 328.19" stroke="#F5961E" stroke-width="5.8"/>
<path d="M100.99 328.38A154.15 150.10 0 0 1 97.25 326.34" stroke="#E8471C" stroke-width="5.8"/>
<path d="M97.60 326.53A154.15 150.10 0 0 1 94.75 324.89" stroke="#F5961E" stroke-width="5.8"/>
<path d="M95.09 325.09A154.15 150.10 0 0 1 93.09 323.90" stroke="#F07AAE" stroke-width="5.8"/>
<path d="M93.44 324.11A154.15 150.10 0 0 1 91.45 322.89" stroke="#E8471C" stroke-width="5.8"/>
<path d="M91.79 323.10A154.15 150.10 0 0 1 90.64 322.38" stroke="#F5961E" stroke-width="5.8"/>
<path d="M90.98 322.59A154.15 150.10 0 0 1 89.82 321.86" stroke="#F8A000" stroke-width="5.8"/>
<path d="M90.16 322.08A154.15 150.10 0 0 1 87.41 320.28" stroke="#F5961E" stroke-width="5.8"/>
<path d="M87.74 320.50A154.15 150.10 0 0 1 83.45 317.55" stroke="#F8A000" stroke-width="5.8"/>
<path d="M83.78 317.78A154.15 150.10 0 0 1 76.56 312.33" stroke="#E8471C" stroke-width="5.8"/>
<path d="M76.87 312.58A154.15 150.10 0 0 1 75.07 311.12" stroke="#F5961E" stroke-width="5.8"/>
<path d="M75.38 311.37A154.15 150.10 0 0 1 74.33 310.51" stroke="#E8471C" stroke-width="5.8"/>
<path d="M74.64 310.76A154.15 150.10 0 0 1 72.14 308.64" stroke="#F5961E" stroke-width="5.8"/>
<path d="M72.44 308.90A154.15 150.10 0 0 1 71.41 308.01" stroke="#E85A10" stroke-width="5.8"/>
<path d="M71.71 308.28A154.15 150.10 0 0 1 69.98 306.74" stroke="#E8471C" stroke-width="5.8"/>
<path d="M70.28 307.01A154.15 150.10 0 0 1 69.27 306.10" stroke="#F8A000" stroke-width="5.8"/>
<path d="M69.56 306.36A154.15 150.10 0 0 1 65.78 302.81" stroke="#E85A10" stroke-width="5.8"/>
<path d="M66.07 303.09A154.15 150.10 0 0 1 63.74 300.79" stroke="#F5961E" stroke-width="5.8"/>
<path d="M64.02 301.08A154.15 150.10 0 0 1 61.74 298.74" stroke="#E85A10" stroke-width="5.8"/>
<path d="M62.01 299.02A154.15 150.10 0 0 1 59.77 296.64" stroke="#F5961E" stroke-width="5.8"/>
<path d="M60.04 296.94A154.15 150.10 0 0 1 59.13 295.94" stroke="#E8471C" stroke-width="5.8"/>
<path d="M59.40 296.23A154.15 150.10 0 0 1 58.49 295.23" stroke="#F07AAE" stroke-width="5.8"/>
<path d="M58.75 295.53A154.15 150.10 0 0 1 57.22 293.80" stroke="#E8471C" stroke-width="5.8"/>
<path d="M57.48 294.10A154.15 150.10 0 0 1 56.60 293.08" stroke="#F07AAE" stroke-width="5.8"/>
<path d="M56.86 293.38A154.15 150.10 0 0 1 55.97 292.35" stroke="#F8C8D4" stroke-width="5.8"/>
<path d="M56.23 292.66A154.15 150.10 0 0 1 55.36 291.63" stroke="#F07AAE" stroke-width="5.8"/>
<path d="M55.61 291.93A154.15 150.10 0 0 1 54.74 290.89" stroke="#E8471C" stroke-width="5.8"/>
<path d="M55.00 291.20A154.15 150.10 0 0 1 54.14 290.16" stroke="#F07AAE" stroke-width="5.8"/>
<path d="M54.39 290.46A154.15 150.10 0 0 1 52.94 288.67" stroke="#E85A10" stroke-width="5.8"/>
<path d="M53.18 288.98A154.15 150.10 0 0 1 52.34 287.93" stroke="#F07AAE" stroke-width="5.8"/>
<path d="M52.59 288.24A154.15 150.10 0 0 1 51.76 287.18" stroke="#E85A10" stroke-width="5.8"/>
<path d="M52.00 287.49A154.15 150.10 0 0 1 50.02 284.90" stroke="#E8471C" stroke-width="5.8"/>
<path d="M50.26 285.22A154.15 150.10 0 0 1 49.45 284.14" stroke="#E2A0D0" stroke-width="5.8"/>
<path d="M49.69 284.46A154.15 150.10 0 0 1 48.89 283.37" stroke="#F07AAE" stroke-width="5.8"/>
<path d="M49.12 283.69A154.15 150.10 0 0 1 46.68 280.26" stroke="#E8471C" stroke-width="5.8"/>
<path d="M46.91 280.59A154.15 150.10 0 0 1 45.08 277.90" stroke="#BE0E14" stroke-width="5.8"/>
<path d="M45.30 278.23A154.15 150.10 0 0 1 43.02 274.70" stroke="#E8471C" stroke-width="5.8"/>
<path d="M43.23 275.03A154.15 150.10 0 0 1 42.02 273.08" stroke="#F07AAE" stroke-width="5.8"/>
<path d="M42.23 273.42A154.15 150.10 0 0 1 39.61 268.98" stroke="#E8471C" stroke-width="5.8"/>
<path d="M39.81 269.33A154.15 150.10 0 0 1 39.15 268.15" stroke="#F8C8D4" stroke-width="5.8"/>
<path d="M39.34 268.50A154.15 150.10 0 0 1 37.78 265.65" stroke="#E8471C" stroke-width="5.8"/>
<path d="M37.97 266.00A154.15 150.10 0 0 1 36.90 263.97" stroke="#F07AAE" stroke-width="5.8"/>
<path d="M37.08 264.32A154.15 150.10 0 0 1 36.47 263.13" stroke="#BE0E14" stroke-width="5.8"/>
<path d="M36.65 263.48A154.15 150.10 0 0 1 33.98 258.00" stroke="#E8471C" stroke-width="5.8"/>
<path d="M34.15 258.36A154.15 150.10 0 0 1 32.82 255.41" stroke="#BE0E14" stroke-width="5.8"/>
<path d="M32.97 255.77A154.15 150.10 0 0 1 32.44 254.54" stroke="#F07AAE" stroke-width="5.8"/>
<path d="M32.59 254.90A154.15 150.10 0 0 1 31.70 252.79" stroke="#E85A10" stroke-width="5.8"/>
<path d="M31.85 253.16A154.15 150.10 0 0 1 30.98 251.04" stroke="#E8471C" stroke-width="5.8"/>
<path d="M31.13 251.40A154.15 150.10 0 0 1 30.63 250.16" stroke="#E85A10" stroke-width="5.8"/>
<path d="M30.78 250.52A154.15 150.10 0 0 1 30.29 249.27" stroke="#E8471C" stroke-width="5.8"/>
<path d="M30.43 249.64A154.15 150.10 0 0 1 29.62 247.50" stroke="#E85A10" stroke-width="5.8"/>
<path d="M29.76 247.87A154.15 150.10 0 0 1 28.35 243.93" stroke="#E8471C" stroke-width="5.8"/>
<path d="M28.48 244.31A154.15 150.10 0 0 1 27.75 242.14" stroke="#E85A10" stroke-width="5.8"/>
<path d="M27.87 242.51A154.15 150.10 0 0 1 27.17 240.34" stroke="#E8471C" stroke-width="5.8"/>
<path d="M27.29 240.71A154.15 150.10 0 0 1 26.61 238.53" stroke="#F07AAE" stroke-width="5.8"/>
<path d="M26.73 238.90A154.15 150.10 0 0 1 26.08 236.71" stroke="#E08CC4" stroke-width="5.8"/>
<path d="M26.19 237.09A154.15 150.10 0 0 1 25.33 233.97" stroke="#E8471C" stroke-width="5.8"/>
<path d="M25.43 234.36A154.15 150.10 0 0 1 25.09 233.06" stroke="#BE0E14" stroke-width="5.8"/>
<path d="M25.19 233.44A154.15 150.10 0 0 1 24.41 230.31" stroke="#E8471C" stroke-width="5.8"/>
<path d="M24.50 230.69A154.15 150.10 0 0 1 23.98 228.46" stroke="#F07AAE" stroke-width="5.8"/>
<path d="M24.07 228.85A154.15 150.10 0 0 1 23.78 227.54" stroke="#E8471C" stroke-width="5.8"/>
<path d="M23.86 227.92A154.15 150.10 0 0 1 23.58 226.62" stroke="#F07AAE" stroke-width="5.8"/>
<path d="M23.66 227.00A154.15 150.10 0 0 1 23.39 225.69" stroke="#E8471C" stroke-width="5.8"/>
<path d="M23.47 226.08A154.15 150.10 0 0 1 23.20 224.76" stroke="#F07AAE" stroke-width="5.8"/>
<path d="M23.28 225.15A154.15 150.10 0 0 1 21.80 216.38" stroke="#E8471C" stroke-width="5.8"/>
<path d="M21.86 216.77A154.15 150.10 0 0 1 21.68 215.44" stroke="#F07AAE" stroke-width="5.8"/>
<path d="M21.73 215.83A154.15 150.10 0 0 1 21.45 213.57" stroke="#E85A10" stroke-width="5.8"/>
<path d="M21.49 213.96A154.15 150.10 0 0 1 21.34 212.63" stroke="#E8471C" stroke-width="5.8"/>
<path d="M21.38 213.02A154.15 150.10 0 0 1 21.24 211.69" stroke="#E85A10" stroke-width="5.8"/>
<path d="M21.28 212.08A154.15 150.10 0 0 1 21.14 210.75" stroke="#E8471C" stroke-width="5.8"/>
<path d="M21.18 211.14A154.15 150.10 0 0 1 21.05 209.81" stroke="#BE0E14" stroke-width="5.8"/>
<path d="M21.09 210.20A154.15 150.10 0 0 1 20.76 206.04" stroke="#E8471C" stroke-width="5.8"/>
<path d="M20.79 206.43A154.15 150.10 0 0 1 20.65 204.16" stroke="#E85A10" stroke-width="5.8"/>
<path d="M20.67 204.55A154.15 150.10 0 0 1 20.45 197.55" stroke="#E8471C" stroke-width="5.8"/>
<path d="M20.45 197.94A154.15 150.10 0 0 1 20.45 196.61" stroke="#F07AAE" stroke-width="5.8"/>
<path d="M20.45 197.00A154.15 150.10 0 0 1 20.45 195.66" stroke="#E8471C" stroke-width="5.8"/>
<path d="M20.45 196.06A154.15 150.10 0 0 1 20.49 192.83" stroke="#F07AAE" stroke-width="5.8"/>
<path d="M20.48 193.22A154.15 150.10 0 0 1 20.55 190.94" stroke="#E8471C" stroke-width="5.8"/>
<path d="M20.54 191.34A154.15 150.10 0 0 1 20.64 189.06" stroke="#F07AAE" stroke-width="5.8"/>
<path d="M20.62 189.45A154.15 150.10 0 0 1 20.88 185.29" stroke="#E8471C" stroke-width="5.8"/>
<path d="M20.85 185.68A154.15 150.10 0 0 1 21.04 183.40" stroke="#E08CC4" stroke-width="5.8"/>
<path d="M21.00 183.80A154.15 150.10 0 0 1 21.12 182.46" stroke="#F07AAE" stroke-width="5.8"/>
<path d="M21.09 182.86A154.15 150.10 0 0 1 21.65 177.77" stroke="#E8471C" stroke-width="5.8"/>
<path d="M21.60 178.16A154.15 150.10 0 0 1 21.91 175.90" stroke="#F07AAE" stroke-width="5.8"/>
<path d="M21.85 176.29A154.15 150.10 0 0 1 22.04 174.96" stroke="#E8471C" stroke-width="5.8"/>
<path d="M21.98 175.35A154.15 150.10 0 0 1 22.33 173.10" stroke="#F07AAE" stroke-width="5.8"/>
<path d="M22.27 173.49A154.15 150.10 0 0 1 22.49 172.17" stroke="#E8471C" stroke-width="5.8"/>
<path d="M22.42 172.55A154.15 150.10 0 0 1 22.81 170.30" stroke="#F8C8D4" stroke-width="5.8"/>
<path d="M22.74 170.69A154.15 150.10 0 0 1 23.35 167.52" stroke="#E8471C" stroke-width="5.8"/>
<path d="M23.27 167.91A154.15 150.10 0 0 1 23.54 166.59" stroke="#F07AAE" stroke-width="5.8"/>
<path d="M23.46 166.98A154.15 150.10 0 0 1 23.94 164.75" stroke="#F8C8D4" stroke-width="5.8"/>
<path d="M23.85 165.13A154.15 150.10 0 0 1 24.14 163.82" stroke="#F07AAE" stroke-width="5.8"/>
<path d="M24.06 164.21A154.15 150.10 0 0 1 24.36 162.90" stroke="#E85A10" stroke-width="5.8"/>
<path d="M24.27 163.29A154.15 150.10 0 0 1 24.80 161.06" stroke="#E8471C" stroke-width="5.8"/>
<path d="M24.71 161.45A154.15 150.10 0 0 1 25.04 160.15" stroke="#F07AAE" stroke-width="5.8"/>
<path d="M24.94 160.53A154.15 150.10 0 0 1 25.27 159.23" stroke="#E8471C" stroke-width="5.8"/>
<path d="M25.17 159.61A154.15 150.10 0 0 1 25.52 158.32" stroke="#E85A10" stroke-width="5.8"/>
<path d="M25.42 158.70A154.15 150.10 0 0 1 25.77 157.41" stroke="#E8471C" stroke-width="5.8"/>
<path d="M25.66 157.79A154.15 150.10 0 0 1 26.55 154.68" stroke="#F8C8D4" stroke-width="5.8"/>
<path d="M26.44 155.06A154.15 150.10 0 0 1 26.82 153.77" stroke="#F07AAE" stroke-width="5.8"/>
<path d="M26.71 154.15A154.15 150.10 0 0 1 27.68 151.06" stroke="#E8471C" stroke-width="5.8"/>
<path d="M27.56 151.44A154.15 150.10 0 0 1 28.28 149.27" stroke="#F07AAE" stroke-width="5.8"/>
<path d="M28.15 149.64A154.15 150.10 0 0 1 28.59 148.37" stroke="#E8471C" stroke-width="5.8"/>
<path d="M28.46 148.75A154.15 150.10 0 0 1 29.22 146.59" stroke="#F07AAE" stroke-width="5.8"/>
<path d="M29.09 146.96A154.15 150.10 0 0 1 29.54 145.70" stroke="#E8471C" stroke-width="5.8"/>
<path d="M29.41 146.07A154.15 150.10 0 0 1 29.88 144.81" stroke="#E2A0D0" stroke-width="5.8"/>
<path d="M29.74 145.18A154.15 150.10 0 0 1 30.21 143.93" stroke="#E85A10" stroke-width="5.8"/>
<path d="M30.07 144.29A154.15 150.10 0 0 1 31.62 140.41" stroke="#E8471C" stroke-width="5.8"/>
<path d="M31.47 140.77A154.15 150.10 0 0 1 31.98 139.53" stroke="#E85A10" stroke-width="5.8"/>
<path d="M31.83 139.89A154.15 150.10 0 0 1 32.35 138.66" stroke="#F07AAE" stroke-width="5.8"/>
<path d="M32.20 139.02A154.15 150.10 0 0 1 33.50 136.05" stroke="#E8471C" stroke-width="5.8"/>
<path d="M33.34 136.41A154.15 150.10 0 0 1 33.89 135.19" stroke="#BE0E14" stroke-width="5.8"/>
<path d="M33.73 135.55A154.15 150.10 0 0 1 34.29 134.33" stroke="#F07AAE" stroke-width="5.8"/>
<path d="M34.12 134.69A154.15 150.10 0 0 1 35.11 132.62" stroke="#E8471C" stroke-width="5.8"/>
<path d="M34.93 132.97A154.15 150.10 0 0 1 35.52 131.76" stroke="#F8C8D4" stroke-width="5.8"/>
<path d="M35.35 132.12A154.15 150.10 0 0 1 36.37 130.07" stroke="#F07AAE" stroke-width="5.8"/>
<path d="M36.19 130.42A154.15 150.10 0 0 1 36.80 129.22" stroke="#E8471C" stroke-width="5.8"/>
<path d="M36.62 129.57A154.15 150.10 0 0 1 37.68 127.54" stroke="#F07AAE" stroke-width="5.8"/>
<path d="M37.50 127.89A154.15 150.10 0 0 1 38.13 126.70" stroke="#E85A10" stroke-width="5.8"/>
<path d="M37.94 127.05A154.15 150.10 0 0 1 39.04 125.03" stroke="#F07AAE" stroke-width="5.8"/>
<path d="M38.85 125.38A154.15 150.10 0 0 1 39.98 123.38" stroke="#E8471C" stroke-width="5.8"/>
<path d="M39.78 123.72A154.15 150.10 0 0 1 40.93 121.74" stroke="#BE0E14" stroke-width="5.8"/>
<path d="M40.73 122.08A154.15 150.10 0 0 1 41.42 120.92" stroke="#E85A10" stroke-width="5.8"/>
<path d="M41.21 121.26A154.15 150.10 0 0 1 41.91 120.10" stroke="#F07AAE" stroke-width="5.8"/>
<path d="M41.70 120.44A154.15 150.10 0 0 1 42.91 118.48" stroke="#E8471C" stroke-width="5.8"/>
<path d="M42.70 118.82A154.15 150.10 0 0 1 43.41 117.68" stroke="#BE0E14" stroke-width="5.8"/>
<path d="M43.20 118.01A154.15 150.10 0 0 1 43.92 116.88" stroke="#E8471C" stroke-width="5.8"/>
<path d="M43.71 117.21A154.15 150.10 0 0 1 44.96 115.28" stroke="#F07AAE" stroke-width="5.8"/>
<path d="M44.74 115.61A154.15 150.10 0 0 1 45.49 114.49" stroke="#E85A10" stroke-width="5.8"/>
<path d="M45.27 114.82A154.15 150.10 0 0 1 52.21 105.24" stroke="#E8471C" stroke-width="5.8"/>
<path d="M51.96 105.56A154.15 150.10 0 0 1 52.80 104.49" stroke="#BE0E14" stroke-width="5.8"/>
<path d="M52.55 104.81A154.15 150.10 0 0 1 55.22 101.54" stroke="#E8471C" stroke-width="5.8"/>
<path d="M54.96 101.84A154.15 150.10 0 0 1 55.83 100.81" stroke="#E85A10" stroke-width="5.8"/>
<path d="M55.58 101.11A154.15 150.10 0 0 1 57.71 98.65" stroke="#E8471C" stroke-width="5.8"/>
<path d="M57.45 98.94A154.15 150.10 0 0 1 58.34 97.93" stroke="#E85A10" stroke-width="5.8"/>
<path d="M58.08 98.23A154.15 150.10 0 0 1 58.98 97.22" stroke="#E8471C" stroke-width="5.8"/>
<path d="M58.72 97.52A154.15 150.10 0 0 1 60.27 95.81" stroke="#F07AAE" stroke-width="5.8"/>
<path d="M60.00 96.10A154.15 150.10 0 0 1 65.62 90.34" stroke="#E8471C" stroke-width="5.8"/>
<path d="M65.34 90.62A154.15 150.10 0 0 1 66.31 89.68" stroke="#F07AAE" stroke-width="5.8"/>
<path d="M66.02 89.95A154.15 150.10 0 0 1 67.00 89.01" stroke="#E8471C" stroke-width="5.8"/>
<path d="M66.71 89.29A154.15 150.10 0 0 1 68.40 87.70" stroke="#F8C8D4" stroke-width="5.8"/>
<path d="M68.11 87.98A154.15 150.10 0 0 1 69.10 87.06" stroke="#BE0E14" stroke-width="5.8"/>
<path d="M68.81 87.33A154.15 150.10 0 0 1 69.81 86.41" stroke="#E8471C" stroke-width="5.8"/>
<path d="M69.52 86.68A154.15 150.10 0 0 1 75.63 81.42" stroke="#F07AAE" stroke-width="5.8"/>
<path d="M75.32 81.67A154.15 150.10 0 0 1 77.13 80.22" stroke="#E8471C" stroke-width="5.8"/>
<path d="M76.81 80.46A154.15 150.10 0 0 1 78.64 79.03" stroke="#E85A10" stroke-width="5.8"/>
<path d="M78.32 79.28A154.15 150.10 0 0 1 80.16 77.86" stroke="#F07AAE" stroke-width="5.8"/>
<path d="M79.84 78.11A154.15 150.10 0 0 1 80.93 77.29" stroke="#E85A10" stroke-width="5.8"/>
<path d="M80.61 77.53A154.15 150.10 0 0 1 81.70 76.72" stroke="#E8471C" stroke-width="5.8"/>
<path d="M81.38 76.95A154.15 150.10 0 0 1 82.48 76.15" stroke="#F07AAE" stroke-width="5.8"/>
<path d="M82.16 76.39A154.15 150.10 0 0 1 83.26 75.59" stroke="#E8471C" stroke-width="5.8"/>
<path d="M82.93 75.82A154.15 150.10 0 0 1 86.41 73.39" stroke="#F07AAE" stroke-width="5.8"/>
<path d="M86.08 73.61A154.15 150.10 0 0 1 88.01 72.32" stroke="#E8471C" stroke-width="5.8"/>
<path d="M87.68 72.54A154.15 150.10 0 0 1 88.81 71.79" stroke="#F07AAE" stroke-width="5.8"/>
<path d="M88.48 72.01A154.15 150.10 0 0 1 90.43 70.75" stroke="#F8C8D4" stroke-width="5.8"/>
<path d="M90.09 70.96A154.15 150.10 0 0 1 91.24 70.24" stroke="#E8471C" stroke-width="5.8"/>
<path d="M90.91 70.45A154.15 150.10 0 0 1 92.06 69.73" stroke="#F07AAE" stroke-width="5.8"/>
<path d="M91.72 69.94A154.15 150.10 0 0 1 92.88 69.23" stroke="#E8471C" stroke-width="5.8"/>
<path d="M92.54 69.43A154.15 150.10 0 0 1 94.53 68.23" stroke="#E08CC4" stroke-width="5.8"/>
<path d="M94.19 68.44A154.15 150.10 0 0 1 97.03 66.79" stroke="#F07AAE" stroke-width="5.8"/>
<path d="M96.69 66.98A154.15 150.10 0 0 1 97.87 66.31" stroke="#E8471C" stroke-width="5.8"/>
<path d="M97.52 66.51A154.15 150.10 0 0 1 98.71 65.85" stroke="#F8A000" stroke-width="5.8"/>
<path d="M98.36 66.04A154.15 150.10 0 0 1 99.56 65.39" stroke="#E85A10" stroke-width="5.8"/>
<path d="M99.21 65.58A154.15 150.10 0 0 1 100.41 64.93" stroke="#E8471C" stroke-width="5.8"/>
<path d="M100.05 65.12A154.15 150.10 0 0 1 102.11 64.03" stroke="#F5961E" stroke-width="5.8"/>
<path d="M101.76 64.22A154.15 150.10 0 0 1 103.83 63.15" stroke="#E85A10" stroke-width="5.8"/>
<path d="M103.47 63.34A154.15 150.10 0 0 1 109.04 60.65" stroke="#F5961E" stroke-width="5.8"/>
<path d="M108.67 60.82A154.15 150.10 0 0 1 109.92 60.25" stroke="#E85A10" stroke-width="5.8"/>
<path d="M109.55 60.42A154.15 150.10 0 0 1 110.80 59.86" stroke="#E8471C" stroke-width="5.8"/>
<path d="M110.43 60.02A154.15 150.10 0 0 1 111.68 59.47" stroke="#F8A000" stroke-width="5.8"/>
<path d="M111.31 59.63A154.15 150.10 0 0 1 116.13 57.62" stroke="#F5961E" stroke-width="5.8"/>
<path d="M115.76 57.77A154.15 150.10 0 0 1 117.03 57.26" stroke="#E8471C" stroke-width="5.8"/>
<path d="M116.65 57.41A154.15 150.10 0 0 1 117.93 56.91" stroke="#F5961E" stroke-width="5.8"/>
<path d="M117.55 57.06A154.15 150.10 0 0 1 121.55 55.57" stroke="#E8471C" stroke-width="5.8"/>
<path d="M121.17 55.70A154.15 150.10 0 0 1 125.20 54.32" stroke="#F5961E" stroke-width="5.8"/>
<path d="M124.82 54.44A154.15 150.10 0 0 1 126.12 54.02" stroke="#E85A10" stroke-width="5.8"/>
<path d="M125.74 54.14A154.15 150.10 0 0 1 127.04 53.72" stroke="#E8471C" stroke-width="5.8"/>
<path d="M126.66 53.84A154.15 150.10 0 0 1 127.96 53.43" stroke="#E85A10" stroke-width="5.8"/>
<path d="M127.58 53.55A154.15 150.10 0 0 1 130.74 52.60" stroke="#E8471C" stroke-width="5.8"/>
<path d="M130.35 52.72A154.15 150.10 0 0 1 131.67 52.34" stroke="#F8A000" stroke-width="5.8"/>
<path d="M131.28 52.45A154.15 150.10 0 0 1 132.60 52.08" stroke="#E85A10" stroke-width="5.8"/>
<path d="M132.21 52.19A154.15 150.10 0 0 1 133.53 51.82" stroke="#F5961E" stroke-width="5.8"/>
<path d="M133.15 51.93A154.15 150.10 0 0 1 138.22 50.64" stroke="#E8471C" stroke-width="5.8"/>
<path d="M137.83 50.73A154.15 150.10 0 0 1 140.11 50.21" stroke="#F8A000" stroke-width="5.8"/>
<path d="M139.71 50.29A154.15 150.10 0 0 1 142.00 49.80" stroke="#E8471C" stroke-width="5.8"/>
<path d="M141.60 49.88A154.15 150.10 0 0 1 142.94 49.60" stroke="#E85A10" stroke-width="5.8"/>
<path d="M144.71 59.56A143.78 140.00 0 0 1 145.97 59.30" stroke="#16A7B6" stroke-width="5.8"/>
<path d="M145.60 59.38A143.78 140.00 0 0 1 146.86 59.13" stroke="#2B2482" stroke-width="5.8"/>
<path d="M146.49 59.20A143.78 140.00 0 0 1 147.75 58.96" stroke="#6A70A8" stroke-width="5.8"/>
<path d="M147.38 59.03A143.78 140.00 0 0 1 148.64 58.80" stroke="#D28FC8" stroke-width="5.8"/>
<path d="M148.27 58.87A143.78 140.00 0 0 1 150.43 58.49" stroke="#CBC7EA" stroke-width="5.8"/>
<path d="M150.06 58.55A143.78 140.00 0 0 1 160.34 57.19" stroke="#2B2482" stroke-width="5.8"/>
<path d="M159.97 57.23A143.78 140.00 0 0 1 161.25 57.10" stroke="#6A70A8" stroke-width="5.8"/>
<path d="M160.87 57.14A143.78 140.00 0 0 1 163.06 56.95" stroke="#E01A3A" stroke-width="5.8"/>
<path d="M162.68 56.98A143.78 140.00 0 0 1 163.97 56.88" stroke="#6A70A8" stroke-width="5.8"/>
<path d="M163.59 56.91A143.78 140.00 0 0 1 165.78 56.76" stroke="#D28FC8" stroke-width="5.8"/>
<path d="M165.41 56.79A143.78 140.00 0 0 1 168.50 56.63" stroke="#6A70A8" stroke-width="5.8"/>
<path d="M168.13 56.64A143.78 140.00 0 0 1 170.32 56.56" stroke="#5BB8E2" stroke-width="5.8"/>
<path d="M169.95 56.57A143.78 140.00 0 0 1 172.14 56.52" stroke="#E01A3A" stroke-width="5.8"/>
<path d="M171.76 56.53A143.78 140.00 0 0 1 173.96 56.50" stroke="#CBC7EA" stroke-width="5.8"/>
<path d="M173.58 56.50A143.78 140.00 0 0 1 176.69 56.51" stroke="#6A70A8" stroke-width="5.8"/>
<path d="M176.31 56.51A143.78 140.00 0 0 1 177.59 56.53" stroke="#CBC7EA" stroke-width="5.8"/>
<path d="M177.22 56.52A143.78 140.00 0 0 1 178.50 56.55" stroke="#6A70A8" stroke-width="5.8"/>
<path d="M178.13 56.54A143.78 140.00 0 0 1 179.41 56.58" stroke="#CBC7EA" stroke-width="5.8"/>
<path d="M179.04 56.57A143.78 140.00 0 0 1 180.32 56.61" stroke="#D28FC8" stroke-width="5.8"/>
<path d="M179.94 56.60A143.78 140.00 0 0 1 181.23 56.65" stroke="#6A70A8" stroke-width="5.8"/>
<path d="M180.85 56.63A143.78 140.00 0 0 1 182.14 56.69" stroke="#2B2482" stroke-width="5.8"/>
<path d="M181.76 56.67A143.78 140.00 0 0 1 183.05 56.74" stroke="#6A70A8" stroke-width="5.8"/>
<path d="M182.67 56.72A143.78 140.00 0 0 1 183.95 56.80" stroke="#2B2482" stroke-width="5.8"/>
<path d="M183.58 56.77A143.78 140.00 0 0 1 184.86 56.86" stroke="#D28FC8" stroke-width="5.8"/>
<path d="M184.48 56.83A143.78 140.00 0 0 1 185.77 56.92" stroke="#6A70A8" stroke-width="5.8"/>
<path d="M185.39 56.89A143.78 140.00 0 0 1 187.58 57.07" stroke="#CBC7EA" stroke-width="5.8"/>
<path d="M187.20 57.04A143.78 140.00 0 0 1 188.48 57.15" stroke="#6A70A8" stroke-width="5.8"/>
<path d="M188.11 57.12A143.78 140.00 0 0 1 189.39 57.24" stroke="#5BB8E2" stroke-width="5.8"/>
<path d="M189.01 57.21A143.78 140.00 0 0 1 191.20 57.44" stroke="#2B2482" stroke-width="5.8"/>
<path d="M190.82 57.39A143.78 140.00 0 0 1 192.10 57.54" stroke="#6A70A8" stroke-width="5.8"/>
<path d="M191.73 57.50A143.78 140.00 0 0 1 194.80 57.89" stroke="#5BB8E2" stroke-width="5.8"/>
<path d="M194.43 57.84A143.78 140.00 0 0 1 196.60 58.15" stroke="#6A70A8" stroke-width="5.8"/>
<path d="M196.23 58.09A143.78 140.00 0 0 1 197.50 58.29" stroke="#5BB8E2" stroke-width="5.8"/>
<path d="M197.13 58.23A143.78 140.00 0 0 1 198.40 58.43" stroke="#16A7B6" stroke-width="5.8"/>
<path d="M198.03 58.37A143.78 140.00 0 0 1 199.29 58.58" stroke="#2B2482" stroke-width="5.8"/>
<path d="M198.92 58.52A143.78 140.00 0 0 1 201.08 58.90" stroke="#E01A3A" stroke-width="5.8"/>
<path d="M200.71 58.83A143.78 140.00 0 0 1 202.87 59.23" stroke="#16A7B6" stroke-width="5.8"/>
<path d="M202.50 59.16A143.78 140.00 0 0 1 203.76 59.41" stroke="#6A70A8" stroke-width="5.8"/>
<path d="M203.39 59.34A143.78 140.00 0 0 1 205.54 59.78" stroke="#2B2482" stroke-width="5.8"/>
<path d="M205.17 59.70A143.78 140.00 0 0 1 206.42 59.97" stroke="#E01A3A" stroke-width="5.8"/>
<path d="M206.06 59.89A143.78 140.00 0 0 1 207.31 60.17" stroke="#2B2482" stroke-width="5.8"/>
<path d="M206.94 60.09A143.78 140.00 0 0 1 208.19 60.37" stroke="#5BB8E2" stroke-width="5.8"/>
<path d="M207.82 60.29A143.78 140.00 0 0 1 209.07 60.58" stroke="#F8DC5E" stroke-width="5.8"/>
<path d="M208.70 60.50A143.78 140.00 0 0 1 209.95 60.80" stroke="#16A7B6" stroke-width="5.8"/>
<path d="M209.58 60.71A143.78 140.00 0 0 1 210.82 61.02" stroke="#C6E3CA" stroke-width="5.8"/>
<path d="M210.46 60.92A143.78 140.00 0 0 1 214.32 61.95" stroke="#E2D9DC" stroke-width="5.8"/>
<path d="M213.95 61.85A143.78 140.00 0 0 1 216.05 62.44" stroke="#C6E3CA" stroke-width="5.8"/>
<path d="M215.69 62.34A143.78 140.00 0 0 1 217.78 62.96" stroke="#F8DC5E" stroke-width="5.8"/>
<path d="M217.42 62.85A143.78 140.00 0 0 1 219.51 63.50" stroke="#C6E3CA" stroke-width="5.8"/>
<path d="M219.15 63.39A143.78 140.00 0 0 1 221.22 64.06" stroke="#5BB8E2" stroke-width="5.8"/>
<path d="M220.87 63.95A143.78 140.00 0 0 1 223.78 64.95" stroke="#F8DC5E" stroke-width="5.8"/>
<path d="M223.43 64.82A143.78 140.00 0 0 1 224.63 65.25" stroke="#16A7B6" stroke-width="5.8"/>
<path d="M224.28 65.12A143.78 140.00 0 0 1 227.17 66.19" stroke="#C6E3CA" stroke-width="5.8"/>
<path d="M226.82 66.06A143.78 140.00 0 0 1 228.01 66.52" stroke="#E2D9DC" stroke-width="5.8"/>
<path d="M227.66 66.38A143.78 140.00 0 0 1 233.84 68.93" stroke="#CBC7EA" stroke-width="5.8"/>
<path d="M233.49 68.78A143.78 140.00 0 0 1 234.66 69.30" stroke="#16A7B6" stroke-width="5.8"/>
<path d="M234.32 69.15A143.78 140.00 0 0 1 235.48 69.67" stroke="#CBC7EA" stroke-width="5.8"/>
<path d="M235.14 69.52A143.78 140.00 0 0 1 236.30 70.05" stroke="#F8DC5E" stroke-width="5.8"/>
<path d="M235.96 69.89A143.78 140.00 0 0 1 237.93 70.81" stroke="#C6E3CA" stroke-width="5.8"/>
<path d="M237.59 70.65A143.78 140.00 0 0 1 238.74 71.20" stroke="#F8DC5E" stroke-width="5.8"/>
<path d="M238.40 71.04A143.78 140.00 0 0 1 240.36 72.00" stroke="#E2D9DC" stroke-width="5.8"/>
<path d="M240.02 71.83A143.78 140.00 0 0 1 241.96 72.82" stroke="#C6E3CA" stroke-width="5.8"/>
<path d="M241.63 72.64A143.78 140.00 0 0 1 245.14 74.51" stroke="#CBC7EA" stroke-width="5.8"/>
<path d="M244.81 74.33A143.78 140.00 0 0 1 245.92 74.94" stroke="#16A7B6" stroke-width="5.8"/>
<path d="M245.60 74.76A143.78 140.00 0 0 1 247.49 75.82" stroke="#5BB8E2" stroke-width="5.8"/>
<path d="M247.17 75.64A143.78 140.00 0 0 1 248.27 76.27" stroke="#E2D9DC" stroke-width="5.8"/>
<path d="M247.95 76.09A143.78 140.00 0 0 1 251.35 78.12" stroke="#CBC7EA" stroke-width="5.8"/>
<path d="M251.04 77.92A143.78 140.00 0 0 1 252.12 78.59" stroke="#F8DC5E" stroke-width="5.8"/>
<path d="M251.80 78.39A143.78 140.00 0 0 1 253.64 79.55" stroke="#E2D9DC" stroke-width="5.8"/>
<path d="M253.32 79.35A143.78 140.00 0 0 1 257.38 82.03" stroke="#F8DC5E" stroke-width="5.8"/>
<path d="M257.07 81.82A143.78 140.00 0 0 1 258.85 83.05" stroke="#5BB8E2" stroke-width="5.8"/>
<path d="M258.54 82.84A143.78 140.00 0 0 1 261.02 84.61" stroke="#E2D9DC" stroke-width="5.8"/>
<path d="M260.72 84.39A143.78 140.00 0 0 1 261.74 85.14" stroke="#16A7B6" stroke-width="5.8"/>
<path d="M261.44 84.92A143.78 140.00 0 0 1 263.17 86.22" stroke="#F8DC5E" stroke-width="5.8"/>
<path d="M262.87 85.99A143.78 140.00 0 0 1 263.88 86.76" stroke="#2B2482" stroke-width="5.8"/>
<path d="M263.58 86.53A143.78 140.00 0 0 1 264.59 87.31" stroke="#CBC7EA" stroke-width="5.8"/>
<path d="M264.29 87.08A143.78 140.00 0 0 1 265.29 87.86" stroke="#2B2482" stroke-width="5.8"/>
<path d="M264.99 87.63A143.78 140.00 0 0 1 268.06 90.11" stroke="#5BB8E2" stroke-width="5.8"/>
<path d="M267.77 89.87A143.78 140.00 0 0 1 269.42 91.26" stroke="#CBC7EA" stroke-width="5.8"/>
<path d="M269.14 91.02A143.78 140.00 0 0 1 270.10 91.84" stroke="#E2D9DC" stroke-width="5.8"/>
<path d="M269.82 91.60A143.78 140.00 0 0 1 271.44 93.02" stroke="#F8DC5E" stroke-width="5.8"/>
<path d="M271.16 92.77A143.78 140.00 0 0 1 273.42 94.81" stroke="#E2D9DC" stroke-width="5.8"/>
<path d="M273.15 94.56A143.78 140.00 0 0 1 274.72 96.03" stroke="#F8DC5E" stroke-width="5.8"/>
<path d="M274.45 95.77A143.78 140.00 0 0 1 276.01 97.26" stroke="#5BB8E2" stroke-width="5.8"/>
<path d="M275.74 97.00A143.78 140.00 0 0 1 277.91 99.13" stroke="#E2D9DC" stroke-width="5.8"/>
<path d="M277.65 98.87A143.78 140.00 0 0 1 278.54 99.77" stroke="#F07E70" stroke-width="5.8"/>
<path d="M278.28 99.50A143.78 140.00 0 0 1 279.78 101.04" stroke="#D28FC8" stroke-width="5.8"/>
<path d="M279.52 100.78A143.78 140.00 0 0 1 281.00 102.34" stroke="#16A7B6" stroke-width="5.8"/>
<path d="M280.74 102.06A143.78 140.00 0 0 1 281.60 102.99" stroke="#E2D9DC" stroke-width="5.8"/>
<path d="M281.35 102.71A143.78 140.00 0 0 1 282.20 103.64" stroke="#F8DC5E" stroke-width="5.8"/>
<path d="M281.95 103.37A143.78 140.00 0 0 1 283.98 105.63" stroke="#E2D9DC" stroke-width="5.8"/>
<path d="M283.73 105.35A143.78 140.00 0 0 1 285.14 106.97" stroke="#CBC7EA" stroke-width="5.8"/>
<path d="M284.90 106.69A143.78 140.00 0 0 1 286.29 108.33" stroke="#16A7B6" stroke-width="5.8"/>
<path d="M286.05 108.05A143.78 140.00 0 0 1 287.41 109.70" stroke="#F8DC5E" stroke-width="5.8"/>
<path d="M287.18 109.42A143.78 140.00 0 0 1 289.61 112.49" stroke="#C6E3CA" stroke-width="5.8"/>
<path d="M289.39 112.19A143.78 140.00 0 0 1 291.22 114.61" stroke="#CBC7EA" stroke-width="5.8"/>
<path d="M291.00 114.31A143.78 140.00 0 0 1 291.74 115.32" stroke="#C6E3CA" stroke-width="5.8"/>
<path d="M291.52 115.03A143.78 140.00 0 0 1 293.29 117.49" stroke="#5BB8E2" stroke-width="5.8"/>
<path d="M293.08 117.18A143.78 140.00 0 0 1 293.80 118.21" stroke="#CBC7EA" stroke-width="5.8"/>
<path d="M293.59 117.91A143.78 140.00 0 0 1 294.30 118.94" stroke="#F8DC5E" stroke-width="5.8"/>
<path d="M294.09 118.64A143.78 140.00 0 0 1 294.80 119.67" stroke="#E2D9DC" stroke-width="5.8"/>
<path d="M294.59 119.37A143.78 140.00 0 0 1 295.29 120.41" stroke="#16A7B6" stroke-width="5.8"/>
<path d="M295.09 120.10A143.78 140.00 0 0 1 295.78 121.15" stroke="#F8DC5E" stroke-width="5.8"/>
<path d="M295.58 120.84A143.78 140.00 0 0 1 296.26 121.89" stroke="#CBC7EA" stroke-width="5.8"/>
<path d="M296.06 121.58A143.78 140.00 0 0 1 298.15 124.89" stroke="#E2D9DC" stroke-width="5.8"/>
<path d="M297.95 124.57A143.78 140.00 0 0 1 299.06 126.40" stroke="#5BB8E2" stroke-width="5.8"/>
<path d="M298.87 126.09A143.78 140.00 0 0 1 299.51 127.16" stroke="#CBC7EA" stroke-width="5.8"/>
<path d="M299.32 126.85A143.78 140.00 0 0 1 299.95 127.93" stroke="#F8DC5E" stroke-width="5.8"/>
<path d="M299.77 127.61A143.78 140.00 0 0 1 300.39 128.70" stroke="#2B2482" stroke-width="5.8"/>
<path d="M300.21 128.38A143.78 140.00 0 0 1 300.83 129.47" stroke="#E2D9DC" stroke-width="5.8"/>
<path d="M300.65 129.14A143.78 140.00 0 0 1 301.26 130.24" stroke="#CBC7EA" stroke-width="5.8"/>
<path d="M301.08 129.92A143.78 140.00 0 0 1 301.68 131.01" stroke="#F8DC5E" stroke-width="5.8"/>
<path d="M301.50 130.69A143.78 140.00 0 0 1 302.10 131.79" stroke="#D28FC8" stroke-width="5.8"/>
<path d="M301.93 131.47A143.78 140.00 0 0 1 303.33 134.14" stroke="#CBC7EA" stroke-width="5.8"/>
<path d="M303.16 133.81A143.78 140.00 0 0 1 304.89 137.30" stroke="#E2D9DC" stroke-width="5.8"/>
<path d="M304.74 136.97A143.78 140.00 0 0 1 305.65 138.90" stroke="#F8DC5E" stroke-width="5.8"/>
<path d="M305.49 138.57A143.78 140.00 0 0 1 306.38 140.51" stroke="#E2D9DC" stroke-width="5.8"/>
<path d="M306.23 140.17A143.78 140.00 0 0 1 306.74 141.31" stroke="#5BB8E2" stroke-width="5.8"/>
<path d="M306.59 140.98A143.78 140.00 0 0 1 308.45 145.37" stroke="#C6E3CA" stroke-width="5.8"/>
<path d="M308.31 145.03A143.78 140.00 0 0 1 309.41 147.84" stroke="#CBC7EA" stroke-width="5.8"/>
<path d="M309.28 147.49A143.78 140.00 0 0 1 309.73 148.66" stroke="#F8DC5E" stroke-width="5.8"/>
<path d="M309.60 148.32A143.78 140.00 0 0 1 310.33 150.32" stroke="#16A7B6" stroke-width="5.8"/>
<path d="M310.21 149.97A143.78 140.00 0 0 1 310.92 151.98" stroke="#C6E3CA" stroke-width="5.8"/>
<path d="M310.80 151.63A143.78 140.00 0 0 1 311.20 152.81" stroke="#D28FC8" stroke-width="5.8"/>
<path d="M311.08 152.46A143.78 140.00 0 0 1 311.75 154.48" stroke="#CBC7EA" stroke-width="5.8"/>
<path d="M311.64 154.13A143.78 140.00 0 0 1 312.02 155.32" stroke="#D28FC8" stroke-width="5.8"/>
<path d="M311.91 154.97A143.78 140.00 0 0 1 312.54 157.01" stroke="#E2D9DC" stroke-width="5.8"/>
<path d="M312.43 156.65A143.78 140.00 0 0 1 312.79 157.85" stroke="#CBC7EA" stroke-width="5.8"/>
<path d="M312.69 157.50A143.78 140.00 0 0 1 313.28 159.54" stroke="#2B2482" stroke-width="5.8"/>
<path d="M313.18 159.19A143.78 140.00 0 0 1 313.51 160.39" stroke="#F8DC5E" stroke-width="5.8"/>
<path d="M313.42 160.03A143.78 140.00 0 0 1 313.74 161.24" stroke="#E01A3A" stroke-width="5.8"/>
<path d="M313.65 160.88A143.78 140.00 0 0 1 313.97 162.09" stroke="#E2D9DC" stroke-width="5.8"/>
<path d="M313.88 161.73A143.78 140.00 0 0 1 314.19 162.94" stroke="#5BB8E2" stroke-width="5.8"/>
<path d="M314.10 162.58A143.78 140.00 0 0 1 315.20 167.22" stroke="#CBC7EA" stroke-width="5.8"/>
<path d="M315.12 166.86A143.78 140.00 0 0 1 315.39 168.08" stroke="#C6E3CA" stroke-width="5.8"/>
<path d="M315.31 167.72A143.78 140.00 0 0 1 315.57 168.94" stroke="#5BB8E2" stroke-width="5.8"/>
<path d="M315.49 168.58A143.78 140.00 0 0 1 315.74 169.80" stroke="#16A7B6" stroke-width="5.8"/>
<path d="M315.67 169.44A143.78 140.00 0 0 1 315.91 170.66" stroke="#F8DC5E" stroke-width="5.8"/>
<path d="M315.84 170.30A143.78 140.00 0 0 1 316.23 172.39" stroke="#E2D9DC" stroke-width="5.8"/>
<path d="M316.17 172.03A143.78 140.00 0 0 1 316.38 173.26" stroke="#D28FC8" stroke-width="5.8"/>
<path d="M316.32 172.90A143.78 140.00 0 0 1 316.53 174.13" stroke="#E2D9DC" stroke-width="5.8"/>
<path d="M316.47 173.76A143.78 140.00 0 0 1 316.67 174.99" stroke="#CBC7EA" stroke-width="5.8"/>
<path d="M316.61 174.63A143.78 140.00 0 0 1 316.81 175.86" stroke="#E2D9DC" stroke-width="5.8"/>
<path d="M316.75 175.50A143.78 140.00 0 0 1 317.06 177.60" stroke="#5BB8E2" stroke-width="5.8"/>
<path d="M317.01 177.24A143.78 140.00 0 0 1 317.18 178.47" stroke="#D28FC8" stroke-width="5.8"/>
<path d="M317.13 178.11A143.78 140.00 0 0 1 317.30 179.34" stroke="#E2D9DC" stroke-width="5.8"/>
<path d="M317.25 178.98A143.78 140.00 0 0 1 317.78 183.71" stroke="#CBC7EA" stroke-width="5.8"/>
<path d="M317.74 183.34A143.78 140.00 0 0 1 317.93 185.46" stroke="#E2D9DC" stroke-width="5.8"/>
<path d="M317.90 185.09A143.78 140.00 0 0 1 318.00 186.34" stroke="#2B2482" stroke-width="5.8"/>
<path d="M317.97 185.97A143.78 140.00 0 0 1 318.06 187.21" stroke="#5BB8E2" stroke-width="5.8"/>
<path d="M318.04 186.85A143.78 140.00 0 0 1 318.12 188.09" stroke="#E2D9DC" stroke-width="5.8"/>
<path d="M318.10 187.72A143.78 140.00 0 0 1 318.17 188.96" stroke="#CBC7EA" stroke-width="5.8"/>
<path d="M318.15 188.60A143.78 140.00 0 0 1 318.22 189.84" stroke="#5BB8E2" stroke-width="5.8"/>
<path d="M318.20 189.48A143.78 140.00 0 0 1 318.32 192.48" stroke="#E2D9DC" stroke-width="5.8"/>
<path d="M318.31 192.11A143.78 140.00 0 0 1 318.34 193.35" stroke="#CBC7EA" stroke-width="5.8"/>
<path d="M318.33 192.99A143.78 140.00 0 0 1 318.36 194.23" stroke="#F8DC5E" stroke-width="5.8"/>
<path d="M318.35 193.87A143.78 140.00 0 0 1 318.38 195.99" stroke="#16A7B6" stroke-width="5.8"/>
<path d="M318.38 195.62A143.78 140.00 0 0 1 318.38 196.87" stroke="#CBC7EA" stroke-width="5.8"/>
<path d="M318.38 196.50A143.78 140.00 0 0 1 318.32 200.38" stroke="#E01A3A" stroke-width="5.8"/>
<path d="M318.33 200.02A143.78 140.00 0 0 1 318.22 203.02" stroke="#F07E70" stroke-width="5.8"/>
<path d="M318.24 202.65A143.78 140.00 0 0 1 318.13 204.77" stroke="#E01A3A" stroke-width="5.8"/>
<path d="M318.15 204.41A143.78 140.00 0 0 1 318.01 206.53" stroke="#2B2482" stroke-width="5.8"/>
<path d="M318.04 206.16A143.78 140.00 0 0 1 317.94 207.40" stroke="#F07E70" stroke-width="5.8"/>
<path d="M317.97 207.04A143.78 140.00 0 0 1 317.87 208.28" stroke="#16A7B6" stroke-width="5.8"/>
<path d="M317.90 207.91A143.78 140.00 0 0 1 317.79 209.15" stroke="#D28FC8" stroke-width="5.8"/>
<path d="M317.82 208.79A143.78 140.00 0 0 1 317.71 210.03" stroke="#2B2482" stroke-width="5.8"/>
<path d="M317.74 209.66A143.78 140.00 0 0 1 317.52 211.78" stroke="#D28FC8" stroke-width="5.8"/>
<path d="M317.56 211.41A143.78 140.00 0 0 1 317.31 213.52" stroke="#5BB8E2" stroke-width="5.8"/>
<path d="M317.36 213.16A143.78 140.00 0 0 1 317.20 214.40" stroke="#E01A3A" stroke-width="5.8"/>
<path d="M317.25 214.03A143.78 140.00 0 0 1 317.08 215.27" stroke="#16A7B6" stroke-width="5.8"/>
<path d="M317.13 214.90A143.78 140.00 0 0 1 316.96 216.14" stroke="#CBC7EA" stroke-width="5.8"/>
<path d="M317.01 215.78A143.78 140.00 0 0 1 316.83 217.01" stroke="#F07E70" stroke-width="5.8"/>
<path d="M316.88 216.65A143.78 140.00 0 0 1 316.69 217.88" stroke="#5BB8E2" stroke-width="5.8"/>
<path d="M316.75 217.51A143.78 140.00 0 0 1 316.41 219.61" stroke="#F07E70" stroke-width="5.8"/>
<path d="M316.47 219.25A143.78 140.00 0 0 1 316.26 220.48" stroke="#E01A3A" stroke-width="5.8"/>
<path d="M316.32 220.12A143.78 140.00 0 0 1 316.10 221.34" stroke="#16A7B6" stroke-width="5.8"/>
<path d="M316.16 220.98A143.78 140.00 0 0 1 315.93 222.21" stroke="#E01A3A" stroke-width="5.8"/>
<path d="M316.00 221.85A143.78 140.00 0 0 1 315.77 223.07" stroke="#5BB8E2" stroke-width="5.8"/>
<path d="M315.84 222.71A143.78 140.00 0 0 1 315.41 224.80" stroke="#F07E70" stroke-width="5.8"/>
<path d="M315.49 224.44A143.78 140.00 0 0 1 315.23 225.66" stroke="#E01A3A" stroke-width="5.8"/>
<path d="M315.31 225.30A143.78 140.00 0 0 1 314.84 227.37" stroke="#16A7B6" stroke-width="5.8"/>
<path d="M314.92 227.02A143.78 140.00 0 0 1 314.64 228.23" stroke="#E01A3A" stroke-width="5.8"/>
<path d="M314.72 227.87A143.78 140.00 0 0 1 314.43 229.09" stroke="#5BB8E2" stroke-width="5.8"/>
<path d="M314.52 228.73A143.78 140.00 0 0 1 314.22 229.94" stroke="#E01A3A" stroke-width="5.8"/>
<path d="M314.31 229.58A143.78 140.00 0 0 1 313.55 232.49" stroke="#5BB8E2" stroke-width="5.8"/>
<path d="M313.64 232.14A143.78 140.00 0 0 1 313.31 233.34" stroke="#F07E70" stroke-width="5.8"/>
<path d="M313.41 232.99A143.78 140.00 0 0 1 313.07 234.19" stroke="#D28FC8" stroke-width="5.8"/>
<path d="M313.17 233.84A143.78 140.00 0 0 1 312.83 235.04" stroke="#CBC7EA" stroke-width="5.8"/>
<path d="M312.93 234.68A143.78 140.00 0 0 1 312.57 235.88" stroke="#16A7B6" stroke-width="5.8"/>
<path d="M312.68 235.53A143.78 140.00 0 0 1 312.32 236.72" stroke="#F07E70" stroke-width="5.8"/>
<path d="M312.43 236.37A143.78 140.00 0 0 1 312.06 237.56" stroke="#16A7B6" stroke-width="5.8"/>
<path d="M312.17 237.21A143.78 140.00 0 0 1 311.79 238.40" stroke="#CBC7EA" stroke-width="5.8"/>
<path d="M311.90 238.05A143.78 140.00 0 0 1 311.24 240.08" stroke="#16A7B6" stroke-width="5.8"/>
<path d="M311.35 239.73A143.78 140.00 0 0 1 310.95 240.91" stroke="#F07E70" stroke-width="5.8"/>
<path d="M311.07 240.56A143.78 140.00 0 0 1 310.66 241.74" stroke="#16A7B6" stroke-width="5.8"/>
<path d="M310.79 241.40A143.78 140.00 0 0 1 310.37 242.58" stroke="#CBC7EA" stroke-width="5.8"/>
<path d="M310.49 242.23A143.78 140.00 0 0 1 310.07 243.40" stroke="#F07E70" stroke-width="5.8"/>
<path d="M310.20 243.06A143.78 140.00 0 0 1 309.77 244.23" stroke="#CBC7EA" stroke-width="5.8"/>
<path d="M309.89 243.89A143.78 140.00 0 0 1 309.45 245.06" stroke="#16A7B6" stroke-width="5.8"/>
<path d="M309.59 244.71A143.78 140.00 0 0 1 309.14 245.88" stroke="#E01A3A" stroke-width="5.8"/>
<path d="M309.27 245.54A143.78 140.00 0 0 1 308.82 246.70" stroke="#CBC7EA" stroke-width="5.8"/>
<path d="M308.95 246.36A143.78 140.00 0 0 1 308.16 248.34" stroke="#16A7B6" stroke-width="5.8"/>
<path d="M308.30 248.00A143.78 140.00 0 0 1 307.82 249.15" stroke="#2B2482" stroke-width="5.8"/>
<path d="M307.96 248.81A143.78 140.00 0 0 1 307.48 249.97" stroke="#CBC7EA" stroke-width="5.8"/>
<path d="M307.62 249.63A143.78 140.00 0 0 1 306.78 251.59" stroke="#F07E70" stroke-width="5.8"/>
<path d="M306.93 251.25A143.78 140.00 0 0 1 306.42 252.39" stroke="#16A7B6" stroke-width="5.8"/>
<path d="M306.57 252.06A143.78 140.00 0 0 1 305.69 254.00" stroke="#E01A3A" stroke-width="5.8"/>
<path d="M305.85 253.67A143.78 140.00 0 0 1 305.32 254.80" stroke="#16A7B6" stroke-width="5.8"/>
<path d="M305.48 254.47A143.78 140.00 0 0 1 304.94 255.60" stroke="#CBC7EA" stroke-width="5.8"/>
<path d="M305.10 255.27A143.78 140.00 0 0 1 304.56 256.40" stroke="#E01A3A" stroke-width="5.8"/>
<path d="M304.72 256.06A143.78 140.00 0 0 1 304.17 257.19" stroke="#D28FC8" stroke-width="5.8"/>
<path d="M304.33 256.86A143.78 140.00 0 0 1 303.38 258.77" stroke="#2B2482" stroke-width="5.8"/>
<path d="M303.54 258.44A143.78 140.00 0 0 1 302.97 259.55" stroke="#5BB8E2" stroke-width="5.8"/>
<path d="M303.14 259.23A143.78 140.00 0 0 1 302.15 261.12" stroke="#2B2482" stroke-width="5.8"/>
<path d="M302.32 260.79A143.78 140.00 0 0 1 300.44 264.22" stroke="#16A7B6" stroke-width="5.8"/>
<path d="M300.62 263.90A143.78 140.00 0 0 1 298.20 268.03" stroke="#E01A3A" stroke-width="5.8"/>
<path d="M298.39 267.71A143.78 140.00 0 0 1 296.31 271.03" stroke="#D28FC8" stroke-width="5.8"/>
<path d="M296.51 270.72A143.78 140.00 0 0 1 295.83 271.77" stroke="#E01A3A" stroke-width="5.8"/>
<path d="M296.03 271.46A143.78 140.00 0 0 1 293.85 274.71" stroke="#F07E70" stroke-width="5.8"/>
<path d="M294.06 274.41A143.78 140.00 0 0 1 293.34 275.44" stroke="#16A7B6" stroke-width="5.8"/>
<path d="M293.56 275.14A143.78 140.00 0 0 1 292.83 276.16" stroke="#F07E70" stroke-width="5.8"/>
<path d="M293.05 275.86A143.78 140.00 0 0 1 292.32 276.88" stroke="#E01A3A" stroke-width="5.8"/>
<path d="M292.53 276.58A143.78 140.00 0 0 1 291.80 277.60" stroke="#16A7B6" stroke-width="5.8"/>
<path d="M292.01 277.30A143.78 140.00 0 0 1 291.27 278.32" stroke="#F07E70" stroke-width="5.8"/>
<path d="M291.49 278.02A143.78 140.00 0 0 1 290.21 279.74" stroke="#E01A3A" stroke-width="5.8"/>
<path d="M290.43 279.44A143.78 140.00 0 0 1 289.12 281.14" stroke="#5BB8E2" stroke-width="5.8"/>
<path d="M289.35 280.85A143.78 140.00 0 0 1 288.58 281.84" stroke="#E01A3A" stroke-width="5.8"/>
<path d="M288.81 281.55A143.78 140.00 0 0 1 286.91 283.92" stroke="#CBC7EA" stroke-width="5.8"/>
<path d="M287.14 283.63A143.78 140.00 0 0 1 285.77 285.28" stroke="#2B2482" stroke-width="5.8"/>
<path d="M286.01 285.00A143.78 140.00 0 0 1 285.19 285.96" stroke="#5BB8E2" stroke-width="5.8"/>
<path d="M285.44 285.68A143.78 140.00 0 0 1 283.44 287.97" stroke="#D28FC8" stroke-width="5.8"/>
<path d="M283.69 287.70A143.78 140.00 0 0 1 281.66 289.95" stroke="#E01A3A" stroke-width="5.8"/>
<path d="M281.91 289.68A143.78 140.00 0 0 1 281.05 290.61" stroke="#F07E70" stroke-width="5.8"/>
<path d="M281.30 290.33A143.78 140.00 0 0 1 279.83 291.90" stroke="#E01A3A" stroke-width="5.8"/>
<path d="M280.09 291.63A143.78 140.00 0 0 1 277.97 293.81" stroke="#F07E70" stroke-width="5.8"/>
<path d="M278.23 293.55A143.78 140.00 0 0 1 276.70 295.07" stroke="#E01A3A" stroke-width="5.8"/>
<path d="M276.97 294.81A143.78 140.00 0 0 1 275.42 296.31" stroke="#F07E70" stroke-width="5.8"/>
<path d="M275.69 296.05A143.78 140.00 0 0 1 273.48 298.14" stroke="#E01A3A" stroke-width="5.8"/>
<path d="M273.75 297.89A143.78 140.00 0 0 1 272.82 298.74" stroke="#5BB8E2" stroke-width="5.8"/>
<path d="M273.09 298.49A143.78 140.00 0 0 1 272.16 299.34" stroke="#E01A3A" stroke-width="5.8"/>
<path d="M272.43 299.09A143.78 140.00 0 0 1 271.49 299.94" stroke="#2B2482" stroke-width="5.8"/>
<path d="M271.77 299.69A143.78 140.00 0 0 1 270.15 301.11" stroke="#CBC7EA" stroke-width="5.8"/>
<path d="M270.43 300.87A143.78 140.00 0 0 1 268.79 302.27" stroke="#16A7B6" stroke-width="5.8"/>
<path d="M269.08 302.03A143.78 140.00 0 0 1 267.42 303.42" stroke="#E01A3A" stroke-width="5.8"/>
<path d="M267.71 303.18A143.78 140.00 0 0 1 266.73 303.98" stroke="#16A7B6" stroke-width="5.8"/>
<path d="M267.02 303.75A143.78 140.00 0 0 1 264.64 305.65" stroke="#5BB8E2" stroke-width="5.8"/>
<path d="M264.93 305.42A143.78 140.00 0 0 1 263.93 306.20" stroke="#16A7B6" stroke-width="5.8"/>
<path d="M264.23 305.97A143.78 140.00 0 0 1 262.51 307.28" stroke="#2B2482" stroke-width="5.8"/>
<path d="M262.81 307.06A143.78 140.00 0 0 1 261.80 307.82" stroke="#5BB8E2" stroke-width="5.8"/>
<path d="M262.10 307.59A143.78 140.00 0 0 1 261.08 308.35" stroke="#2B2482" stroke-width="5.8"/>
<path d="M261.38 308.12A143.78 140.00 0 0 1 258.17 310.42" stroke="#5BB8E2" stroke-width="5.8"/>
<path d="M258.48 310.21A143.78 140.00 0 0 1 257.43 310.93" stroke="#16A7B6" stroke-width="5.8"/>
<path d="M257.74 310.72A143.78 140.00 0 0 1 252.95 313.88" stroke="#5BB8E2" stroke-width="5.8"/>
<path d="M253.27 313.68A143.78 140.00 0 0 1 251.44 314.83" stroke="#CBC7EA" stroke-width="5.8"/>
<path d="M251.75 314.64A143.78 140.00 0 0 1 249.14 316.22" stroke="#5BB8E2" stroke-width="5.8"/>
<path d="M249.46 316.03A143.78 140.00 0 0 1 248.36 316.67" stroke="#4A78B8" stroke-width="5.8"/>
<path d="M248.69 316.48A143.78 140.00 0 0 1 247.59 317.12" stroke="#2B2482" stroke-width="5.8"/>
<path d="M247.91 316.93A143.78 140.00 0 0 1 246.03 318.00" stroke="#4A78B8" stroke-width="5.8"/>
<path d="M246.35 317.82A143.78 140.00 0 0 1 243.67 319.29" stroke="#5BB8E2" stroke-width="5.8"/>
<path d="M244.00 319.11A143.78 140.00 0 0 1 242.87 319.71" stroke="#4A78B8" stroke-width="5.8"/>
<path d="M243.21 319.53A143.78 140.00 0 0 1 239.68 321.34" stroke="#16A7B6" stroke-width="5.8"/>
<path d="M240.01 321.17A143.78 140.00 0 0 1 238.07 322.12" stroke="#5BB8E2" stroke-width="5.8"/>
<path d="M238.40 321.96A143.78 140.00 0 0 1 235.63 323.26" stroke="#2B2482" stroke-width="5.8"/>
<path d="M235.97 323.11A143.78 140.00 0 0 1 234.81 323.63" stroke="#5BB8E2" stroke-width="5.8"/>
<path d="M235.15 323.48A143.78 140.00 0 0 1 233.99 324.00" stroke="#4A78B8" stroke-width="5.8"/>
<path d="M234.33 323.85A143.78 140.00 0 0 1 233.17 324.36" stroke="#16A7B6" stroke-width="5.8"/>
<path d="M233.51 324.21A143.78 140.00 0 0 1 232.34 324.71" stroke="#4A78B8" stroke-width="5.8"/>
<path d="M232.69 324.57A143.78 140.00 0 0 1 231.51 325.06" stroke="#16A7B6" stroke-width="5.8"/>
<path d="M231.86 324.92A143.78 140.00 0 0 1 228.18 326.41" stroke="#2B2482" stroke-width="5.8"/>
<path d="M228.53 326.28A143.78 140.00 0 0 1 227.35 326.74" stroke="#5BB8E2" stroke-width="5.8"/>
<path d="M227.70 326.60A143.78 140.00 0 0 1 225.66 327.37" stroke="#4A78B8" stroke-width="5.8"/>
<path d="M226.02 327.24A143.78 140.00 0 0 1 224.82 327.68" stroke="#5BB8E2" stroke-width="5.8"/>
<path d="M225.17 327.55A143.78 140.00 0 0 1 223.97 327.99" stroke="#4A78B8" stroke-width="5.8"/>
<path d="M224.33 327.86A143.78 140.00 0 0 1 223.13 328.29" stroke="#16A7B6" stroke-width="5.8"/>
<path d="M223.48 328.16A143.78 140.00 0 0 1 222.28 328.58" stroke="#2B2482" stroke-width="5.8"/>
<path d="M222.63 328.46A143.78 140.00 0 0 1 220.57 329.15" stroke="#4A78B8" stroke-width="5.8"/>
<path d="M220.93 329.03A143.78 140.00 0 0 1 218.00 329.97" stroke="#2B2482" stroke-width="5.8"/>
<path d="M218.36 329.86A143.78 140.00 0 0 1 216.28 330.49" stroke="#CBC7EA" stroke-width="5.8"/>
<path d="M216.64 330.38A143.78 140.00 0 0 1 215.41 330.74" stroke="#16A7B6" stroke-width="5.8"/>
<path d="M215.77 330.64A143.78 140.00 0 0 1 213.68 331.23" stroke="#4A78B8" stroke-width="5.8"/>
<path d="M214.04 331.13A143.78 140.00 0 0 1 212.81 331.47" stroke="#CBC7EA" stroke-width="5.8"/>
<path d="M213.17 331.37A143.78 140.00 0 0 1 208.45 332.57" stroke="#2B2482" stroke-width="5.8"/>
<path d="M208.81 332.48A143.78 140.00 0 0 1 207.57 332.77" stroke="#5BB8E2" stroke-width="5.8"/>
<path d="M207.94 332.69A143.78 140.00 0 0 1 204.93 333.35" stroke="#4A78B8" stroke-width="5.8"/>
<path d="M205.30 333.27A143.78 140.00 0 0 1 204.05 333.53" stroke="#2B2482" stroke-width="5.8"/>
<path d="M204.42 333.46A143.78 140.00 0 0 1 203.17 333.71" stroke="#5BB8E2" stroke-width="5.8"/>
<path d="M203.53 333.64A143.78 140.00 0 0 1 201.40 334.05" stroke="#CBC7EA" stroke-width="5.8"/>
<path d="M201.77 333.98A143.78 140.00 0 0 1 200.51 334.21" stroke="#5BB8E2" stroke-width="5.8"/>
<path d="M200.88 334.14A143.78 140.00 0 0 1 199.62 334.36" stroke="#2B2482" stroke-width="5.8"/>
<path d="M199.99 334.30A143.78 140.00 0 0 1 198.73 334.51" stroke="#5BB8E2" stroke-width="5.8"/>
<path d="M199.10 334.45A143.78 140.00 0 0 1 197.84 334.66" stroke="#2B2482" stroke-width="5.8"/>
<path d="M198.21 334.60A143.78 140.00 0 0 1 196.95 334.80" stroke="#4A78B8" stroke-width="5.8"/>
<path d="M197.32 334.74A143.78 140.00 0 0 1 196.06 334.93" stroke="#16A7B6" stroke-width="5.8"/>
<path d="M196.43 334.88A143.78 140.00 0 0 1 192.49 335.41" stroke="#5BB8E2" stroke-width="5.8"/>
<path d="M192.86 335.37A143.78 140.00 0 0 1 189.80 335.72" stroke="#2B2482" stroke-width="5.8"/>
<path d="M190.17 335.68A143.78 140.00 0 0 1 187.11 335.97" stroke="#5BB8E2" stroke-width="5.8"/>
<path d="M187.48 335.94A143.78 140.00 0 0 1 185.31 336.11" stroke="#4A78B8" stroke-width="5.8"/>
<path d="M185.69 336.08A143.78 140.00 0 0 1 184.41 336.17" stroke="#E01A3A" stroke-width="5.8"/>
<path d="M184.79 336.15A143.78 140.00 0 0 1 183.51 336.23" stroke="#16A7B6" stroke-width="5.8"/>
<path d="M183.89 336.21A143.78 140.00 0 0 1 181.71 336.33" stroke="#2B2482" stroke-width="5.8"/>
<path d="M182.09 336.31A143.78 140.00 0 0 1 180.81 336.37" stroke="#16A7B6" stroke-width="5.8"/>
<path d="M181.18 336.35A143.78 140.00 0 0 1 179.91 336.40" stroke="#2B2482" stroke-width="5.8"/>
<path d="M180.28 336.39A143.78 140.00 0 0 1 179.01 336.43" stroke="#CBC7EA" stroke-width="5.8"/>
<path d="M179.38 336.42A143.78 140.00 0 0 1 175.40 336.50" stroke="#5BB8E2" stroke-width="5.8"/>
<path d="M175.78 336.50A143.78 140.00 0 0 1 174.50 336.50" stroke="#D28FC8" stroke-width="5.8"/>
<path d="M174.87 336.50A143.78 140.00 0 0 1 173.60 336.50" stroke="#5BB8E2" stroke-width="5.8"/>
<path d="M173.97 336.50A143.78 140.00 0 0 1 172.69 336.49" stroke="#D28FC8" stroke-width="5.8"/>
<path d="M173.07 336.49A143.78 140.00 0 0 1 171.79 336.47" stroke="#5BB8E2" stroke-width="5.8"/>
<path d="M172.17 336.48A143.78 140.00 0 0 1 170.89 336.45" stroke="#4A78B8" stroke-width="5.8"/>
<path d="M171.27 336.46A143.78 140.00 0 0 1 168.19 336.36" stroke="#5BB8E2" stroke-width="5.8"/>
<path d="M168.56 336.38A143.78 140.00 0 0 1 167.29 336.32" stroke="#2B2482" stroke-width="5.8"/>
<path d="M167.66 336.34A143.78 140.00 0 0 1 164.59 336.16" stroke="#4A78B8" stroke-width="5.8"/>
<path d="M164.96 336.19A143.78 140.00 0 0 1 163.69 336.10" stroke="#2B2482" stroke-width="5.8"/>
<path d="M164.06 336.12A143.78 140.00 0 0 1 162.79 336.03" stroke="#4A78B8" stroke-width="5.8"/>
<path d="M163.16 336.06A143.78 140.00 0 0 1 161.89 335.95" stroke="#CBC7EA" stroke-width="5.8"/>
<path d="M162.26 335.98A143.78 140.00 0 0 1 158.30 335.60" stroke="#2B2482" stroke-width="5.8"/>
<path d="M158.67 335.64A143.78 140.00 0 0 1 157.40 335.50" stroke="#5BB8E2" stroke-width="5.8"/>
<path d="M157.78 335.54A143.78 140.00 0 0 1 154.72 335.16" stroke="#CBC7EA" stroke-width="5.8"/>
<path d="M155.09 335.21A143.78 140.00 0 0 1 153.83 335.03" stroke="#5BB8E2" stroke-width="5.8"/>
<path d="M154.20 335.08A143.78 140.00 0 0 1 152.94 334.90" stroke="#16A7B6" stroke-width="5.8"/>
<path d="M153.31 334.96A143.78 140.00 0 0 1 152.05 334.77" stroke="#D28FC8" stroke-width="5.8"/>
<path d="M152.42 334.82A143.78 140.00 0 0 1 151.16 334.63" stroke="#2B2482" stroke-width="5.8"/>
<path d="M151.53 334.69A143.78 140.00 0 0 1 150.27 334.48" stroke="#4A78B8" stroke-width="5.8"/>
<path d="M150.64 334.54A143.78 140.00 0 0 1 148.49 334.17" stroke="#2B2482" stroke-width="5.8"/>
<path d="M148.86 334.24A143.78 140.00 0 0 1 147.60 334.01" stroke="#4A78B8" stroke-width="5.8"/>
<path d="M147.97 334.08A143.78 140.00 0 0 1 146.72 333.84" stroke="#5BB8E2" stroke-width="5.8"/>
<path d="M147.09 333.91A143.78 140.00 0 0 1 145.83 333.67" stroke="#2B2482" stroke-width="5.8"/>
<path d="M146.20 333.74A143.78 140.00 0 0 1 143.19 333.12" stroke="#5BB8E2" stroke-width="5.8"/>
<path d="M143.56 333.20A143.78 140.00 0 0 1 142.31 332.92" stroke="#2B2482" stroke-width="5.8"/>
<path d="M142.68 333.01A143.78 140.00 0 0 1 140.56 332.52" stroke="#CBC7EA" stroke-width="5.8"/>
<path d="M140.92 332.61A143.78 140.00 0 0 1 139.68 332.31" stroke="#2B2482" stroke-width="5.8"/>
<path d="M140.04 332.40A143.78 140.00 0 0 1 138.81 332.09" stroke="#16A7B6" stroke-width="5.8"/>
<path d="M139.17 332.18A143.78 140.00 0 0 1 136.19 331.41" stroke="#2B2482" stroke-width="5.8"/>
<path d="M136.55 331.51A143.78 140.00 0 0 1 135.32 331.18" stroke="#5BB8E2" stroke-width="5.8"/>
<path d="M135.69 331.27A143.78 140.00 0 0 1 132.73 330.43" stroke="#CBC7EA" stroke-width="5.8"/>
<path d="M133.09 330.54A143.78 140.00 0 0 1 131.01 329.91" stroke="#2B2482" stroke-width="5.8"/>
<path d="M131.36 330.02A143.78 140.00 0 0 1 130.15 329.64" stroke="#5BB8E2" stroke-width="5.8"/>
<path d="M130.51 329.75A143.78 140.00 0 0 1 128.44 329.09" stroke="#2B2482" stroke-width="5.8"/>
<path d="M128.79 329.20A143.78 140.00 0 0 1 126.73 328.51" stroke="#16A7B6" stroke-width="5.8"/>
<path d="M127.09 328.63A143.78 140.00 0 0 1 125.03 327.92" stroke="#2B2482" stroke-width="5.8"/>
<path d="M125.39 328.04A143.78 140.00 0 0 1 122.50 326.99" stroke="#5BB8E2" stroke-width="5.8"/>
<path d="M122.85 327.12A143.78 140.00 0 0 1 120.83 326.34" stroke="#2B2482" stroke-width="5.8"/>
<path d="M121.18 326.48A143.78 140.00 0 0 1 119.99 326.01" stroke="#16A7B6" stroke-width="5.8"/>
<path d="M120.34 326.15A143.78 140.00 0 0 1 118.33 325.33" stroke="#2B2482" stroke-width="5.8"/>
<path d="M118.67 325.47A143.78 140.00 0 0 1 117.50 324.99" stroke="#16A7B6" stroke-width="5.8"/>
<path d="M117.84 325.13A143.78 140.00 0 0 1 116.67 324.63" stroke="#D28FC8" stroke-width="5.8"/>
<path d="M117.02 324.78A143.78 140.00 0 0 1 115.85 324.28" stroke="#4A78B8" stroke-width="5.8"/>
<path d="M116.19 324.43A143.78 140.00 0 0 1 115.03 323.92" stroke="#16A7B6" stroke-width="5.8"/>
<path d="M115.37 324.07A143.78 140.00 0 0 1 113.39 323.18" stroke="#4A78B8" stroke-width="5.8"/>
<path d="M113.73 323.33A143.78 140.00 0 0 1 111.76 322.42" stroke="#5BB8E2" stroke-width="5.8"/>
<path d="M112.10 322.58A143.78 140.00 0 0 1 110.95 322.04" stroke="#2B2482" stroke-width="5.8"/>
<path d="M111.29 322.20A143.78 140.00 0 0 1 110.14 321.64" stroke="#5BB8E2" stroke-width="5.8"/>
<path d="M110.48 321.81A143.78 140.00 0 0 1 107.74 320.44" stroke="#16A7B6" stroke-width="5.8"/>
<path d="M108.07 320.61A143.78 140.00 0 0 1 106.94 320.03" stroke="#5BB8E2" stroke-width="5.8"/>
<path d="M107.27 320.20A143.78 140.00 0 0 1 106.15 319.61" stroke="#4A78B8" stroke-width="5.8"/>
<path d="M106.48 319.79A143.78 140.00 0 0 1 105.35 319.19" stroke="#CBC7EA" stroke-width="5.8"/>
<path d="M105.68 319.37A143.78 140.00 0 0 1 104.57 318.77" stroke="#D28FC8" stroke-width="5.8"/>
<path d="M104.89 318.95A143.78 140.00 0 0 1 103.78 318.34" stroke="#CBC7EA" stroke-width="5.8"/>
<path d="M104.11 318.52A143.78 140.00 0 0 1 102.21 317.46" stroke="#5BB8E2" stroke-width="5.8"/>
<path d="M102.54 317.65A143.78 140.00 0 0 1 101.44 317.02" stroke="#4A78B8" stroke-width="5.8"/>
<path d="M101.76 317.21A143.78 140.00 0 0 1 100.66 316.57" stroke="#16A7B6" stroke-width="5.8"/>
<path d="M100.99 316.76A143.78 140.00 0 0 1 98.36 315.19" stroke="#4A78B8" stroke-width="5.8"/>
<path d="M98.67 315.39A143.78 140.00 0 0 1 97.59 314.73" stroke="#16A7B6" stroke-width="5.8"/>
<path d="M97.91 314.92A143.78 140.00 0 0 1 93.82 312.32" stroke="#4A78B8" stroke-width="5.8"/>
<path d="M94.13 312.52A143.78 140.00 0 0 1 93.08 311.82" stroke="#D28FC8" stroke-width="5.8"/>
<path d="M93.39 312.03A143.78 140.00 0 0 1 90.86 310.31" stroke="#16A7B6" stroke-width="5.8"/>
<path d="M91.17 310.52A143.78 140.00 0 0 1 87.96 308.23" stroke="#5BB8E2" stroke-width="5.8"/>
<path d="M88.26 308.45A143.78 140.00 0 0 1 87.24 307.69" stroke="#2B2482" stroke-width="5.8"/>
<path d="M87.54 307.92A143.78 140.00 0 0 1 86.53 307.16" stroke="#4A78B8" stroke-width="5.8"/>
<path d="M86.82 307.38A143.78 140.00 0 0 1 85.81 306.62" stroke="#16A7B6" stroke-width="5.8"/>
<path d="M86.11 306.85A143.78 140.00 0 0 1 85.11 306.07" stroke="#5BB8E2" stroke-width="5.8"/>
<path d="M85.40 306.30A143.78 140.00 0 0 1 84.40 305.53" stroke="#CBC7EA" stroke-width="5.8"/>
<path d="M84.70 305.76A143.78 140.00 0 0 1 83.01 304.42" stroke="#16A7B6" stroke-width="5.8"/>
<path d="M83.30 304.65A143.78 140.00 0 0 1 82.31 303.85" stroke="#4A78B8" stroke-width="5.8"/>
<path d="M82.60 304.09A143.78 140.00 0 0 1 80.94 302.72" stroke="#2B2482" stroke-width="5.8"/>
<path d="M81.22 302.96A143.78 140.00 0 0 1 80.25 302.14" stroke="#5BB8E2" stroke-width="5.8"/>
<path d="M80.54 302.38A143.78 140.00 0 0 1 78.90 300.98" stroke="#2B2482" stroke-width="5.8"/>
<path d="M79.18 301.23A143.78 140.00 0 0 1 78.23 300.40" stroke="#5BB8E2" stroke-width="5.8"/>
<path d="M78.51 300.64A143.78 140.00 0 0 1 75.58 298.01" stroke="#2B2482" stroke-width="5.8"/>
<path d="M75.86 298.26A143.78 140.00 0 0 1 74.93 297.40" stroke="#5BB8E2" stroke-width="5.8"/>
<path d="M75.20 297.66A143.78 140.00 0 0 1 74.28 296.79" stroke="#16A7B6" stroke-width="5.8"/>
<path d="M74.55 297.05A143.78 140.00 0 0 1 73.00 295.56" stroke="#5BB8E2" stroke-width="5.8"/>
<path d="M73.27 295.82A143.78 140.00 0 0 1 71.10 293.68" stroke="#E01A3A" stroke-width="5.8"/>
<path d="M71.36 293.94A143.78 140.00 0 0 1 69.24 291.77" stroke="#5BB8E2" stroke-width="5.8"/>
<path d="M69.50 292.04A143.78 140.00 0 0 1 68.63 291.12" stroke="#2B2482" stroke-width="5.8"/>
<path d="M68.89 291.39A143.78 140.00 0 0 1 67.42 289.82" stroke="#E01A3A" stroke-width="5.8"/>
<path d="M67.67 290.09A143.78 140.00 0 0 1 66.23 288.50" stroke="#4A78B8" stroke-width="5.8"/>
<path d="M66.47 288.78A143.78 140.00 0 0 1 65.64 287.84" stroke="#2B2482" stroke-width="5.8"/>
<path d="M65.88 288.12A143.78 140.00 0 0 1 65.05 287.17" stroke="#5BB8E2" stroke-width="5.8"/>
<path d="M65.29 287.45A143.78 140.00 0 0 1 64.47 286.50" stroke="#CBC7EA" stroke-width="5.8"/>
<path d="M64.71 286.78A143.78 140.00 0 0 1 63.32 285.15" stroke="#4A78B8" stroke-width="5.8"/>
<path d="M63.56 285.43A143.78 140.00 0 0 1 62.75 284.47" stroke="#2B2482" stroke-width="5.8"/>
<path d="M62.99 284.75A143.78 140.00 0 0 1 61.07 282.40" stroke="#5BB8E2" stroke-width="5.8"/>
<path d="M61.30 282.69A143.78 140.00 0 0 1 60.52 281.71" stroke="#E01A3A" stroke-width="5.8"/>
<path d="M60.75 282.00A143.78 140.00 0 0 1 59.97 281.01" stroke="#F7A862" stroke-width="5.8"/>
<path d="M60.20 281.30A143.78 140.00 0 0 1 56.78 276.74" stroke="#E01A3A" stroke-width="5.8"/>
<path d="M56.99 277.04A143.78 140.00 0 0 1 56.26 276.01" stroke="#D28FC8" stroke-width="5.8"/>
<path d="M56.47 276.32A143.78 140.00 0 0 1 54.74 273.83" stroke="#E01A3A" stroke-width="5.8"/>
<path d="M54.95 274.13A143.78 140.00 0 0 1 54.24 273.09" stroke="#F07E70" stroke-width="5.8"/>
<path d="M54.45 273.40A143.78 140.00 0 0 1 53.75 272.35" stroke="#E01A3A" stroke-width="5.8"/>
<path d="M53.96 272.66A143.78 140.00 0 0 1 52.30 270.12" stroke="#D28FC8" stroke-width="5.8"/>
<path d="M52.50 270.43A143.78 140.00 0 0 1 51.83 269.37" stroke="#F7A862" stroke-width="5.8"/>
<path d="M52.03 269.68A143.78 140.00 0 0 1 51.36 268.62" stroke="#6A70A8" stroke-width="5.8"/>
<path d="M51.56 268.93A143.78 140.00 0 0 1 47.80 262.49" stroke="#16A7B6" stroke-width="5.8"/>
<path d="M47.97 262.81A143.78 140.00 0 0 1 46.95 260.93" stroke="#E01A3A" stroke-width="5.8"/>
<path d="M47.13 261.26A143.78 140.00 0 0 1 46.54 260.15" stroke="#16A7B6" stroke-width="5.8"/>
<path d="M46.71 260.48A143.78 140.00 0 0 1 46.13 259.37" stroke="#E01A3A" stroke-width="5.8"/>
<path d="M46.30 259.69A143.78 140.00 0 0 1 45.73 258.58" stroke="#CBC7EA" stroke-width="5.8"/>
<path d="M45.90 258.91A143.78 140.00 0 0 1 45.33 257.79" stroke="#E01A3A" stroke-width="5.8"/>
<path d="M45.49 258.12A143.78 140.00 0 0 1 44.94 257.00" stroke="#16A7B6" stroke-width="5.8"/>
<path d="M45.10 257.33A143.78 140.00 0 0 1 44.17 255.40" stroke="#E01A3A" stroke-width="5.8"/>
<path d="M44.32 255.74A143.78 140.00 0 0 1 43.79 254.60" stroke="#16A7B6" stroke-width="5.8"/>
<path d="M43.94 254.94A143.78 140.00 0 0 1 43.05 253.00" stroke="#E2D9DC" stroke-width="5.8"/>
<path d="M43.20 253.33A143.78 140.00 0 0 1 42.69 252.19" stroke="#6A70A8" stroke-width="5.8"/>
<path d="M42.84 252.53A143.78 140.00 0 0 1 40.95 248.13" stroke="#E01A3A" stroke-width="5.8"/>
<path d="M41.09 248.47A143.78 140.00 0 0 1 40.30 246.49" stroke="#D28FC8" stroke-width="5.8"/>
<path d="M40.43 246.83A143.78 140.00 0 0 1 39.98 245.66" stroke="#E01A3A" stroke-width="5.8"/>
<path d="M40.11 246.00A143.78 140.00 0 0 1 39.66 244.84" stroke="#D28FC8" stroke-width="5.8"/>
<path d="M39.79 245.18A143.78 140.00 0 0 1 39.35 244.01" stroke="#E01A3A" stroke-width="5.8"/>
<path d="M39.48 244.35A143.78 140.00 0 0 1 39.05 243.18" stroke="#2B2482" stroke-width="5.8"/>
<path d="M39.17 243.53A143.78 140.00 0 0 1 37.61 239.01" stroke="#E01A3A" stroke-width="5.8"/>
<path d="M37.72 239.36A143.78 140.00 0 0 1 37.34 238.17" stroke="#D28FC8" stroke-width="5.8"/>
<path d="M37.45 238.52A143.78 140.00 0 0 1 37.07 237.33" stroke="#2B2482" stroke-width="5.8"/>
<path d="M37.18 237.68A143.78 140.00 0 0 1 36.55 235.64" stroke="#E01A3A" stroke-width="5.8"/>
<path d="M36.66 235.99A143.78 140.00 0 0 1 36.30 234.80" stroke="#6A70A8" stroke-width="5.8"/>
<path d="M36.41 235.15A143.78 140.00 0 0 1 36.06 233.95" stroke="#E01A3A" stroke-width="5.8"/>
<path d="M36.16 234.30A143.78 140.00 0 0 1 35.82 233.10" stroke="#CBC7EA" stroke-width="5.8"/>
<path d="M35.92 233.45A143.78 140.00 0 0 1 35.59 232.25" stroke="#E01A3A" stroke-width="5.8"/>
<path d="M35.68 232.60A143.78 140.00 0 0 1 34.92 229.69" stroke="#CBC7EA" stroke-width="5.8"/>
<path d="M35.01 230.04A143.78 140.00 0 0 1 34.71 228.83" stroke="#2B2482" stroke-width="5.8"/>
<path d="M34.79 229.19A143.78 140.00 0 0 1 33.55 223.67" stroke="#E01A3A" stroke-width="5.8"/>
<path d="M33.63 224.03A143.78 140.00 0 0 1 33.21 221.94" stroke="#D28FC8" stroke-width="5.8"/>
<path d="M33.28 222.30A143.78 140.00 0 0 1 32.75 219.34" stroke="#E01A3A" stroke-width="5.8"/>
<path d="M32.81 219.70A143.78 140.00 0 0 1 32.33 216.73" stroke="#E2D9DC" stroke-width="5.8"/>
<path d="M32.38 217.10A143.78 140.00 0 0 1 32.20 215.86" stroke="#E01A3A" stroke-width="5.8"/>
<path d="M32.25 216.22A143.78 140.00 0 0 1 32.08 214.99" stroke="#F07E70" stroke-width="5.8"/>
<path d="M32.13 215.35A143.78 140.00 0 0 1 31.85 213.24" stroke="#E01A3A" stroke-width="5.8"/>
<path d="M31.90 213.61A143.78 140.00 0 0 1 31.65 211.49" stroke="#E2D9DC" stroke-width="5.8"/>
<path d="M31.69 211.86A143.78 140.00 0 0 1 31.30 207.99" stroke="#E01A3A" stroke-width="5.8"/>
<path d="M31.34 208.35A143.78 140.00 0 0 1 31.23 207.11" stroke="#CBC7EA" stroke-width="5.8"/>
<path d="M31.26 207.48A143.78 140.00 0 0 1 30.96 202.72" stroke="#E01A3A" stroke-width="5.8"/>
<path d="M30.98 203.08A143.78 140.00 0 0 1 30.92 201.84" stroke="#D28FC8" stroke-width="5.8"/>
<path d="M30.94 202.20A143.78 140.00 0 0 1 30.87 200.08" stroke="#F7A862" stroke-width="5.8"/>
<path d="M30.88 200.45A143.78 140.00 0 0 1 30.85 199.20" stroke="#E01A3A" stroke-width="5.8"/>
<path d="M30.85 199.57A143.78 140.00 0 0 1 30.82 197.44" stroke="#16A7B6" stroke-width="5.8"/>
<path d="M30.83 197.81A143.78 140.00 0 0 1 30.82 196.56" stroke="#6A70A8" stroke-width="5.8"/>
<path d="M30.82 196.92A143.78 140.00 0 0 1 30.82 195.68" stroke="#E01A3A" stroke-width="5.8"/>
<path d="M30.82 196.04A143.78 140.00 0 0 1 30.84 193.92" stroke="#16A7B6" stroke-width="5.8"/>
<path d="M30.84 194.28A143.78 140.00 0 0 1 30.89 192.16" stroke="#D28FC8" stroke-width="5.8"/>
<path d="M30.88 192.52A143.78 140.00 0 0 1 30.96 190.40" stroke="#E01A3A" stroke-width="5.8"/>
<path d="M30.94 190.76A143.78 140.00 0 0 1 31.05 188.64" stroke="#16A7B6" stroke-width="5.8"/>
<path d="M31.03 189.01A143.78 140.00 0 0 1 31.10 187.76" stroke="#F7A862" stroke-width="5.8"/>
<path d="M31.08 188.13A143.78 140.00 0 0 1 31.63 181.62" stroke="#E01A3A" stroke-width="5.8"/>
<path d="M31.59 181.99A143.78 140.00 0 0 1 31.73 180.75" stroke="#E2D9DC" stroke-width="5.8"/>
<path d="M31.69 181.11A143.78 140.00 0 0 1 31.84 179.87" stroke="#16A7B6" stroke-width="5.8"/>
<path d="M31.79 180.24A143.78 140.00 0 0 1 32.06 178.13" stroke="#E01A3A" stroke-width="5.8"/>
<path d="M32.01 178.49A143.78 140.00 0 0 1 32.31 176.38" stroke="#2B2482" stroke-width="5.8"/>
<path d="M32.26 176.75A143.78 140.00 0 0 1 33.53 169.44" stroke="#E01A3A" stroke-width="5.8"/>
<path d="M33.46 169.80A143.78 140.00 0 0 1 34.08 166.86" stroke="#F07E70" stroke-width="5.8"/>
<path d="M34.00 167.21A143.78 140.00 0 0 1 34.47 165.14" stroke="#E01A3A" stroke-width="5.8"/>
<path d="M34.39 165.50A143.78 140.00 0 0 1 34.68 164.28" stroke="#16A7B6" stroke-width="5.8"/>
<path d="M34.59 164.64A143.78 140.00 0 0 1 36.52 157.47" stroke="#E01A3A" stroke-width="5.8"/>
<path d="M36.42 157.82A143.78 140.00 0 0 1 36.77 156.63" stroke="#2B2482" stroke-width="5.8"/>
<path d="M36.67 156.98A143.78 140.00 0 0 1 37.04 155.78" stroke="#F07E70" stroke-width="5.8"/>
<path d="M36.93 156.13A143.78 140.00 0 0 1 37.30 154.94" stroke="#CBC7EA" stroke-width="5.8"/>
<path d="M37.19 155.29A143.78 140.00 0 0 1 37.57 154.10" stroke="#2B2482" stroke-width="5.8"/>
<path d="M37.46 154.45A143.78 140.00 0 0 1 37.85 153.26" stroke="#E01A3A" stroke-width="5.8"/>
<path d="M37.73 153.61A143.78 140.00 0 0 1 38.13 152.43" stroke="#CBC7EA" stroke-width="5.8"/>
<path d="M38.01 152.78A143.78 140.00 0 0 1 39.01 149.93" stroke="#E01A3A" stroke-width="5.8"/>
<path d="M38.88 150.28A143.78 140.00 0 0 1 39.62 148.27" stroke="#CBC7EA" stroke-width="5.8"/>
<path d="M39.49 148.62A143.78 140.00 0 0 1 40.91 144.98" stroke="#E01A3A" stroke-width="5.8"/>
<path d="M40.77 145.32A143.78 140.00 0 0 1 41.24 144.17" stroke="#6A70A8" stroke-width="5.8"/>
<path d="M41.10 144.51A143.78 140.00 0 0 1 41.93 142.54" stroke="#E01A3A" stroke-width="5.8"/>
<path d="M41.79 142.88A143.78 140.00 0 0 1 42.28 141.73" stroke="#F07E70" stroke-width="5.8"/>
<path d="M42.13 142.06A143.78 140.00 0 0 1 43.00 140.11" stroke="#CBC7EA" stroke-width="5.8"/>
<path d="M42.85 140.45A143.78 140.00 0 0 1 43.37 139.31" stroke="#16A7B6" stroke-width="5.8"/>
<path d="M43.21 139.64A143.78 140.00 0 0 1 43.74 138.50" stroke="#D28FC8" stroke-width="5.8"/>
<path d="M43.58 138.84A143.78 140.00 0 0 1 44.11 137.70" stroke="#E01A3A" stroke-width="5.8"/>
<path d="M43.96 138.04A143.78 140.00 0 0 1 44.88 136.11" stroke="#2B2482" stroke-width="5.8"/>
<path d="M44.72 136.44A143.78 140.00 0 0 1 45.28 135.32" stroke="#F07E70" stroke-width="5.8"/>
<path d="M45.11 135.65A143.78 140.00 0 0 1 45.67 134.53" stroke="#2B2482" stroke-width="5.8"/>
<path d="M45.51 134.86A143.78 140.00 0 0 1 46.08 133.74" stroke="#D28FC8" stroke-width="5.8"/>
<path d="M45.91 134.07A143.78 140.00 0 0 1 46.90 132.17" stroke="#E01A3A" stroke-width="5.8"/>
<path d="M46.73 132.50A143.78 140.00 0 0 1 47.74 130.61" stroke="#F07E70" stroke-width="5.8"/>
<path d="M47.56 130.93A143.78 140.00 0 0 1 48.60 129.06" stroke="#E01A3A" stroke-width="5.8"/>
<path d="M48.42 129.38A143.78 140.00 0 0 1 49.48 127.53" stroke="#F07E70" stroke-width="5.8"/>
<path d="M49.30 127.84A143.78 140.00 0 0 1 50.84 125.24" stroke="#E01A3A" stroke-width="5.8"/>
<path d="M50.65 125.56A143.78 140.00 0 0 1 51.30 124.48" stroke="#6A70A8" stroke-width="5.8"/>
<path d="M51.11 124.80A143.78 140.00 0 0 1 52.24 122.98" stroke="#16A7B6" stroke-width="5.8"/>
<path d="M52.04 123.29A143.78 140.00 0 0 1 52.72 122.23" stroke="#6A70A8" stroke-width="5.8"/>
<path d="M52.52 122.54A143.78 140.00 0 0 1 54.68 119.27" stroke="#E01A3A" stroke-width="5.8"/>
<path d="M54.47 119.58A143.78 140.00 0 0 1 55.18 118.54" stroke="#6A70A8" stroke-width="5.8"/>
<path d="M54.97 118.84A143.78 140.00 0 0 1 56.19 117.08" stroke="#E01A3A" stroke-width="5.8"/>
<path d="M55.98 117.38A143.78 140.00 0 0 1 56.71 116.36" stroke="#F7A862" stroke-width="5.8"/>
<path d="M56.49 116.66A143.78 140.00 0 0 1 57.23 115.64" stroke="#E01A3A" stroke-width="5.8"/>
<path d="M57.01 115.94A143.78 140.00 0 0 1 57.75 114.92" stroke="#6A70A8" stroke-width="5.8"/>
<path d="M57.53 115.22A143.78 140.00 0 0 1 63.82 107.25" stroke="#E01A3A" stroke-width="5.8"/>
<path d="M63.58 107.54A143.78 140.00 0 0 1 64.98 105.90" stroke="#16A7B6" stroke-width="5.8"/>
<path d="M64.74 106.18A143.78 140.00 0 0 1 65.57 105.24" stroke="#6A70A8" stroke-width="5.8"/>
<path d="M65.32 105.51A143.78 140.00 0 0 1 67.96 102.59" stroke="#E01A3A" stroke-width="5.8"/>
<path d="M67.71 102.87A143.78 140.00 0 0 1 68.57 101.94" stroke="#2B2482" stroke-width="5.8"/>
<path d="M68.32 102.21A143.78 140.00 0 0 1 69.18 101.30" stroke="#E01A3A" stroke-width="5.8"/>
<path d="M68.93 101.57A143.78 140.00 0 0 1 69.80 100.65" stroke="#D28FC8" stroke-width="5.8"/>
<path d="M69.54 100.92A143.78 140.00 0 0 1 70.42 100.01" stroke="#E01A3A" stroke-width="5.8"/>
<path d="M70.16 100.28A143.78 140.00 0 0 1 71.67 98.75" stroke="#2B2482" stroke-width="5.8"/>
<path d="M71.41 99.01A143.78 140.00 0 0 1 72.94 97.49" stroke="#E01A3A" stroke-width="5.8"/>
<path d="M72.68 97.75A143.78 140.00 0 0 1 73.59 96.87" stroke="#F07E70" stroke-width="5.8"/>
<path d="M73.32 97.13A143.78 140.00 0 0 1 74.88 95.64" stroke="#6A70A8" stroke-width="5.8"/>
<path d="M74.61 95.90A143.78 140.00 0 0 1 75.53 95.03" stroke="#F07E70" stroke-width="5.8"/>
<path d="M75.26 95.29A143.78 140.00 0 0 1 76.19 94.43" stroke="#16A7B6" stroke-width="5.8"/>
<path d="M75.92 94.68A143.78 140.00 0 0 1 76.85 93.83" stroke="#F07E70" stroke-width="5.8"/>
<path d="M76.58 94.08A143.78 140.00 0 0 1 77.52 93.23" stroke="#E01A3A" stroke-width="5.8"/>
<path d="M77.24 93.48A143.78 140.00 0 0 1 78.19 92.64" stroke="#F07E70" stroke-width="5.8"/>
<path d="M77.91 92.89A143.78 140.00 0 0 1 78.86 92.05" stroke="#2B2482" stroke-width="5.8"/>
<path d="M78.58 92.30A143.78 140.00 0 0 1 80.21 90.89" stroke="#E01A3A" stroke-width="5.8"/>
<path d="M79.93 91.13A143.78 140.00 0 0 1 80.90 90.31" stroke="#D28FC8" stroke-width="5.8"/>
<path d="M80.61 90.55A143.78 140.00 0 0 1 83.67 88.05" stroke="#6A70A8" stroke-width="5.8"/>
<path d="M83.38 88.28A143.78 140.00 0 0 1 85.08 86.95" stroke="#E01A3A" stroke-width="5.8"/>
<path d="M84.78 87.18A143.78 140.00 0 0 1 86.50 85.86" stroke="#D28FC8" stroke-width="5.8"/>
<path d="M86.20 86.09A143.78 140.00 0 0 1 87.22 85.32" stroke="#2B2482" stroke-width="5.8"/>
<path d="M86.92 85.55A143.78 140.00 0 0 1 88.66 84.26" stroke="#E01A3A" stroke-width="5.8"/>
<path d="M88.36 84.48A143.78 140.00 0 0 1 89.39 83.74" stroke="#F7A862" stroke-width="5.8"/>
<path d="M89.08 83.96A143.78 140.00 0 0 1 90.85 82.70" stroke="#16A7B6" stroke-width="5.8"/>
<path d="M90.54 82.92A143.78 140.00 0 0 1 92.32 81.69" stroke="#F07E70" stroke-width="5.8"/>
<path d="M92.02 81.90A143.78 140.00 0 0 1 94.56 80.20" stroke="#E01A3A" stroke-width="5.8"/>
<path d="M94.25 80.40A143.78 140.00 0 0 1 95.32 79.71" stroke="#D28FC8" stroke-width="5.8"/>
<path d="M95.00 79.91A143.78 140.00 0 0 1 96.83 78.75" stroke="#E01A3A" stroke-width="5.8"/>
<path d="M96.51 78.95A143.78 140.00 0 0 1 100.67 76.43" stroke="#16A7B6" stroke-width="5.8"/>
<path d="M100.35 76.61A143.78 140.00 0 0 1 101.45 75.97" stroke="#E01A3A" stroke-width="5.8"/>
<path d="M101.12 76.16A143.78 140.00 0 0 1 102.23 75.53" stroke="#F07E70" stroke-width="5.8"/>
<path d="M101.90 75.71A143.78 140.00 0 0 1 103.79 74.65" stroke="#E01A3A" stroke-width="5.8"/>
<path d="M103.47 74.83A143.78 140.00 0 0 1 105.37 73.80" stroke="#D28FC8" stroke-width="5.8"/>
<path d="M105.04 73.97A143.78 140.00 0 0 1 106.17 73.37" stroke="#F07E70" stroke-width="5.8"/>
<path d="M105.84 73.55A143.78 140.00 0 0 1 106.96 72.96" stroke="#D28FC8" stroke-width="5.8"/>
<path d="M106.63 73.13A143.78 140.00 0 0 1 108.56 72.14" stroke="#E01A3A" stroke-width="5.8"/>
<path d="M108.23 72.31A143.78 140.00 0 0 1 109.37 71.74" stroke="#6A70A8" stroke-width="5.8"/>
<path d="M109.03 71.90A143.78 140.00 0 0 1 111.80 70.56" stroke="#E01A3A" stroke-width="5.8"/>
<path d="M111.46 70.72A143.78 140.00 0 0 1 113.43 69.80" stroke="#D28FC8" stroke-width="5.8"/>
<path d="M113.09 69.96A143.78 140.00 0 0 1 115.07 69.06" stroke="#E01A3A" stroke-width="5.8"/>
<path d="M114.73 69.22A143.78 140.00 0 0 1 115.89 68.70" stroke="#D28FC8" stroke-width="5.8"/>
<path d="M115.55 68.85A143.78 140.00 0 0 1 116.72 68.34" stroke="#F07E70" stroke-width="5.8"/>
<path d="M116.38 68.49A143.78 140.00 0 0 1 117.55 67.99" stroke="#2B2482" stroke-width="5.8"/>
<path d="M117.20 68.14A143.78 140.00 0 0 1 121.73 66.31" stroke="#E01A3A" stroke-width="5.8"/>
<path d="M121.38 66.45A143.78 140.00 0 0 1 122.57 65.99" stroke="#CBC7EA" stroke-width="5.8"/>
<path d="M122.22 66.12A143.78 140.00 0 0 1 126.81 64.46" stroke="#2B2482" stroke-width="5.8"/>
<path d="M126.45 64.58A143.78 140.00 0 0 1 132.82 62.54" stroke="#E01A3A" stroke-width="5.8"/>
<path d="M132.46 62.65A143.78 140.00 0 0 1 133.68 62.29" stroke="#CBC7EA" stroke-width="5.8"/>
<path d="M133.32 62.39A143.78 140.00 0 0 1 134.55 62.04" stroke="#E01A3A" stroke-width="5.8"/>
<path d="M134.19 62.14A143.78 140.00 0 0 1 136.29 61.56" stroke="#D28FC8" stroke-width="5.8"/>
<path d="M135.93 61.66A143.78 140.00 0 0 1 137.16 61.33" stroke="#E01A3A" stroke-width="5.8"/>
<path d="M136.80 61.42A143.78 140.00 0 0 1 139.79 60.67" stroke="#2B2482" stroke-width="5.8"/>
<path d="M139.42 60.75A143.78 140.00 0 0 1 140.67 60.45" stroke="#E01A3A" stroke-width="5.8"/>
<path d="M140.30 60.54A143.78 140.00 0 0 1 141.55 60.25" stroke="#F7A862" stroke-width="5.8"/>
<path d="M141.18 60.33A143.78 140.00 0 0 1 142.43 60.05" stroke="#F07E70" stroke-width="5.8"/>
<path d="M142.06 60.13A143.78 140.00 0 0 1 143.31 59.86" stroke="#E01A3A" stroke-width="5.8"/>
<path d="M142.94 59.94A143.78 140.00 0 0 1 144.19 59.67" stroke="#F07E70" stroke-width="5.8"/>
<path d="M143.82 59.75A143.78 140.00 0 0 1 145.07 59.48" stroke="#E01A3A" stroke-width="5.8"/>
</g>
</svg>
<svg width="520" height="371" viewBox="0 0 520 371" style="position:absolute;left:0;top:0" font-family="Liberation Sans, sans-serif" font-size="7.55" fill="#1e1e1e" stroke="#1e1e1e" stroke-width="0.14">
<text x="372.9" y="12.0">Inner Ring: Phenotype</text>
<rect x="373.3" y="16.10" width="10.5" height="9.6" fill="#F8DC5E" stroke="none"/>
<text x="385.8" y="23.60">BL</text>
<rect x="373.3" y="27.32" width="10.5" height="9.6" fill="#5BB8E2" stroke="none"/>
<text x="385.8" y="34.81">CAEBV</text>
<rect x="373.3" y="38.54" width="10.5" height="9.6" fill="#F7A862" stroke="none"/>
<text x="385.8" y="46.02">DLBCL</text>
<rect x="373.3" y="49.76" width="10.5" height="9.6" fill="#2B2482" stroke="none"/>
<text x="385.8" y="57.23">NKTCL</text>
<rect x="373.3" y="60.98" width="10.5" height="9.6" fill="#F07E70" stroke="none"/>
<text x="385.8" y="68.44">GC</text>
<rect x="373.3" y="72.20" width="10.5" height="9.6" fill="#16A7B6" stroke="none"/>
<text x="385.8" y="79.65">Healthy</text>
<rect x="373.3" y="83.42" width="10.5" height="9.6" fill="#C6E3CA" stroke="none"/>
<text x="385.8" y="90.86">HL</text>
<rect x="373.3" y="94.64" width="10.5" height="9.6" fill="#E2D9DC" stroke="none"/>
<text x="385.8" y="102.07">IM</text>
<rect x="373.3" y="105.86" width="10.5" height="9.6" fill="#E01A3A" stroke="none"/>
<text x="385.8" y="113.28">NPC</text>
<rect x="373.3" y="117.08" width="10.5" height="9.6" fill="#CBC7EA" stroke="none"/>
<text x="385.8" y="124.49">Misc.</text>
<rect x="373.3" y="128.30" width="10.5" height="9.6" fill="#D28FC8" stroke="none"/>
<text x="385.8" y="135.70">PTLD</text>
<text x="372.6" y="147.8" textLength="72.4" lengthAdjust="spacing">Middle Ring: Country</text>
<rect x="373.3" y="152.10" width="10.5" height="9.6" fill="#A35DB0" stroke="none"/>
<text x="385.8" y="159.30">Argentina</text>
<rect x="373.3" y="163.27" width="10.5" height="9.6" fill="#F8D400" stroke="none"/>
<text x="385.8" y="170.51">Australia</text>
<rect x="373.3" y="174.44" width="10.5" height="9.6" fill="#9E5AAE" stroke="none"/>
<text x="385.8" y="181.72">Brazil</text>
<rect x="373.3" y="185.61" width="10.5" height="9.6" fill="#E8471C" stroke="none"/>
<text x="385.8" y="192.93">China</text>
<rect x="373.3" y="196.78" width="10.5" height="9.6" fill="#BE0E14" stroke="none"/>
<text x="385.8" y="204.14">France</text>
<rect x="373.3" y="207.95" width="10.5" height="9.6" fill="#6A2A96" stroke="none"/>
<text x="385.8" y="215.35">Germany</text>
<rect x="373.3" y="219.12" width="10.5" height="9.6" fill="#1A9A88" stroke="none"/>
<text x="385.8" y="226.56">Ghana</text>
<rect x="373.3" y="230.29" width="10.5" height="9.6" fill="#2B2880" stroke="none"/>
<text x="385.8" y="237.77">Guatemala</text>
<rect x="373.3" y="241.46" width="10.5" height="9.6" fill="#F07AAE" stroke="none"/>
<text x="385.8" y="248.98">Hong Kong</text>
<rect x="373.3" y="252.63" width="10.5" height="9.6" fill="#E2A0D0" stroke="none"/>
<text x="385.8" y="260.19">Indonesia</text>
<rect x="373.3" y="263.80" width="10.5" height="9.6" fill="#F5961E" stroke="none"/>
<text x="385.8" y="271.40">Japan</text>
<rect x="373.3" y="274.97" width="10.5" height="9.6" fill="#18955E" stroke="none"/>
<text x="385.8" y="282.61">Kenya</text>
<rect x="373.3" y="286.14" width="10.5" height="9.6" fill="#1E9A4C" stroke="none"/>
<text x="385.8" y="293.82">Malawi</text>
<rect x="434.0" y="152.10" width="10.5" height="9.6" fill="#1A9A58" stroke="none"/>
<text x="448.0" y="159.30">Nigeria</text>
<rect x="434.0" y="163.27" width="10.5" height="9.6" fill="#F8A000" stroke="none"/>
<text x="448.0" y="170.51">Papua New Guinea</text>
<rect x="434.0" y="174.44" width="10.5" height="9.6" fill="#1E98E0" stroke="none"/>
<text x="448.0" y="181.72">Peru</text>
<rect x="434.0" y="185.61" width="10.5" height="9.6" fill="#5A4CA8" stroke="none"/>
<text x="448.0" y="192.93">Poland</text>
<rect x="434.0" y="196.78" width="10.5" height="9.6" fill="#F8C8D4" stroke="none"/>
<text x="448.0" y="204.14">Singapore</text>
<rect x="434.0" y="207.95" width="10.5" height="9.6" fill="#E85A10" stroke="none"/>
<text x="448.0" y="215.35">South Korea</text>
<rect x="434.0" y="219.12" width="10.5" height="9.6" fill="#F8CC10" stroke="none"/>
<text x="448.0" y="226.56">Taiwan</text>
<rect x="434.0" y="230.29" width="10.5" height="9.6" fill="#18A070" stroke="none"/>
<text x="448.0" y="237.77">Uganda</text>
<rect x="434.0" y="241.46" width="10.5" height="9.6" fill="#8A3294" stroke="none"/>
<text x="448.0" y="248.98">Ukraine</text>
<rect x="434.0" y="252.63" width="10.5" height="9.6" fill="#A0148C" stroke="none"/>
<text x="448.0" y="260.19">United Kingdom</text>
<rect x="434.0" y="263.80" width="10.5" height="9.6" fill="#1AA088" stroke="none"/>
<text x="448.0" y="271.40">Unknown</text>
<rect x="434.0" y="274.97" width="10.5" height="9.6" fill="#4EA2E4" stroke="none"/>
<text x="448.0" y="282.61">USA</text>
<rect x="434.0" y="286.14" width="10.5" height="9.6" fill="#E08CC4" stroke="none"/>
<text x="448.0" y="293.82">Vietnam</text>
<text x="373.6" y="305.8" textLength="65.6" lengthAdjust="spacing">Outer Ring: Region</text>
<rect x="373.3" y="309.50" width="10.5" height="9.6" fill="#26A040" stroke="none"/>
<text x="385.8" y="317.10">Africa</text>
<rect x="373.3" y="320.60" width="10.5" height="9.6" fill="#2B2A88" stroke="none"/>
<text x="385.8" y="328.70">America</text>
<rect x="373.3" y="331.70" width="10.5" height="9.8" fill="#EA4918" stroke="none"/>
<text x="385.8" y="340.20">East Asia</text>
<rect x="373.3" y="342.90" width="10.5" height="10.8" fill="#F8E000" stroke="none"/>
<text x="385.8" y="352.00">Oceania</text>
<rect x="373.3" y="354.40" width="10.5" height="9.6" fill="#8E3CA8" stroke="none"/>
<text x="385.8" y="363.50">West Eurasia</text>
</svg>
<div id="bd"></div>
</div></body></html>
